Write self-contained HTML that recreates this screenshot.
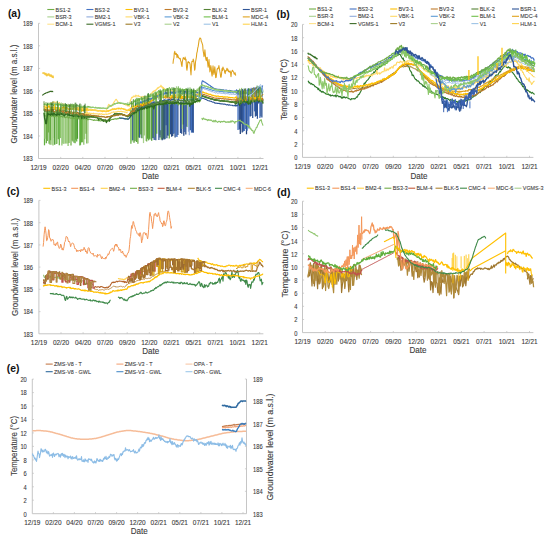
<!DOCTYPE html>
<html><head><meta charset="utf-8"><style>
html,body{margin:0;padding:0;background:#fff;}
svg{display:block;font-family:"Liberation Sans", sans-serif;}
</style></head><body>
<svg width="550" height="538" viewBox="0 0 550 538">
<rect width="550" height="538" fill="#fff"/>
<line x1="38.5" y1="23.3" x2="38.5" y2="158.5" stroke="#bfbfbf" stroke-width="0.9"/>
<line x1="38.5" y1="158.5" x2="263.5" y2="158.5" stroke="#bfbfbf" stroke-width="0.9"/>
<line x1="60.7" y1="158.5" x2="60.7" y2="156.9" stroke="#bfbfbf" stroke-width="0.7"/>
<line x1="82.8" y1="158.5" x2="82.8" y2="156.9" stroke="#bfbfbf" stroke-width="0.7"/>
<line x1="105" y1="158.5" x2="105" y2="156.9" stroke="#bfbfbf" stroke-width="0.7"/>
<line x1="127.1" y1="158.5" x2="127.1" y2="156.9" stroke="#bfbfbf" stroke-width="0.7"/>
<line x1="149.3" y1="158.5" x2="149.3" y2="156.9" stroke="#bfbfbf" stroke-width="0.7"/>
<line x1="171.5" y1="158.5" x2="171.5" y2="156.9" stroke="#bfbfbf" stroke-width="0.7"/>
<line x1="193.6" y1="158.5" x2="193.6" y2="156.9" stroke="#bfbfbf" stroke-width="0.7"/>
<line x1="215.8" y1="158.5" x2="215.8" y2="156.9" stroke="#bfbfbf" stroke-width="0.7"/>
<line x1="237.9" y1="158.5" x2="237.9" y2="156.9" stroke="#bfbfbf" stroke-width="0.7"/>
<line x1="260.1" y1="158.5" x2="260.1" y2="156.9" stroke="#bfbfbf" stroke-width="0.7"/>
<line x1="38.5" y1="136" x2="40.1" y2="136" stroke="#bfbfbf" stroke-width="0.7"/>
<line x1="38.5" y1="113.4" x2="40.1" y2="113.4" stroke="#bfbfbf" stroke-width="0.7"/>
<line x1="38.5" y1="90.9" x2="40.1" y2="90.9" stroke="#bfbfbf" stroke-width="0.7"/>
<line x1="38.5" y1="68.4" x2="40.1" y2="68.4" stroke="#bfbfbf" stroke-width="0.7"/>
<line x1="38.5" y1="45.8" x2="40.1" y2="45.8" stroke="#bfbfbf" stroke-width="0.7"/>
<line x1="38.5" y1="23.3" x2="40.1" y2="23.3" stroke="#bfbfbf" stroke-width="0.7"/>
<text x="38.5" y="169.6" font-size="6.6" fill="#3a3a3a" text-anchor="middle" textLength="16.2" lengthAdjust="spacingAndGlyphs" stroke="#3a3a3a" stroke-width="0.1">12/19</text>
<text x="60.7" y="169.6" font-size="6.6" fill="#3a3a3a" text-anchor="middle" textLength="16.2" lengthAdjust="spacingAndGlyphs" stroke="#3a3a3a" stroke-width="0.1">02/20</text>
<text x="82.8" y="169.6" font-size="6.6" fill="#3a3a3a" text-anchor="middle" textLength="16.2" lengthAdjust="spacingAndGlyphs" stroke="#3a3a3a" stroke-width="0.1">04/20</text>
<text x="105" y="169.6" font-size="6.6" fill="#3a3a3a" text-anchor="middle" textLength="16.2" lengthAdjust="spacingAndGlyphs" stroke="#3a3a3a" stroke-width="0.1">07/20</text>
<text x="127.1" y="169.6" font-size="6.6" fill="#3a3a3a" text-anchor="middle" textLength="16.2" lengthAdjust="spacingAndGlyphs" stroke="#3a3a3a" stroke-width="0.1">09/20</text>
<text x="149.3" y="169.6" font-size="6.6" fill="#3a3a3a" text-anchor="middle" textLength="16.2" lengthAdjust="spacingAndGlyphs" stroke="#3a3a3a" stroke-width="0.1">12/20</text>
<text x="171.5" y="169.6" font-size="6.6" fill="#3a3a3a" text-anchor="middle" textLength="16.2" lengthAdjust="spacingAndGlyphs" stroke="#3a3a3a" stroke-width="0.1">02/21</text>
<text x="193.6" y="169.6" font-size="6.6" fill="#3a3a3a" text-anchor="middle" textLength="16.2" lengthAdjust="spacingAndGlyphs" stroke="#3a3a3a" stroke-width="0.1">05/21</text>
<text x="215.8" y="169.6" font-size="6.6" fill="#3a3a3a" text-anchor="middle" textLength="16.2" lengthAdjust="spacingAndGlyphs" stroke="#3a3a3a" stroke-width="0.1">07/21</text>
<text x="237.9" y="169.6" font-size="6.6" fill="#3a3a3a" text-anchor="middle" textLength="16.2" lengthAdjust="spacingAndGlyphs" stroke="#3a3a3a" stroke-width="0.1">10/21</text>
<text x="260.1" y="169.6" font-size="6.6" fill="#3a3a3a" text-anchor="middle" textLength="16.2" lengthAdjust="spacingAndGlyphs" stroke="#3a3a3a" stroke-width="0.1">12/21</text>
<text x="32.7" y="161.3" font-size="6.6" fill="#3a3a3a" text-anchor="end" textLength="9.6" lengthAdjust="spacingAndGlyphs" stroke="#3a3a3a" stroke-width="0.1">183</text>
<text x="32.7" y="138.8" font-size="6.6" fill="#3a3a3a" text-anchor="end" textLength="9.6" lengthAdjust="spacingAndGlyphs" stroke="#3a3a3a" stroke-width="0.1">184</text>
<text x="32.7" y="116.3" font-size="6.6" fill="#3a3a3a" text-anchor="end" textLength="9.6" lengthAdjust="spacingAndGlyphs" stroke="#3a3a3a" stroke-width="0.1">185</text>
<text x="32.7" y="93.8" font-size="6.6" fill="#3a3a3a" text-anchor="end" textLength="9.6" lengthAdjust="spacingAndGlyphs" stroke="#3a3a3a" stroke-width="0.1">186</text>
<text x="32.7" y="71.2" font-size="6.6" fill="#3a3a3a" text-anchor="end" textLength="9.6" lengthAdjust="spacingAndGlyphs" stroke="#3a3a3a" stroke-width="0.1">187</text>
<text x="32.7" y="48.7" font-size="6.6" fill="#3a3a3a" text-anchor="end" textLength="9.6" lengthAdjust="spacingAndGlyphs" stroke="#3a3a3a" stroke-width="0.1">188</text>
<text x="32.7" y="26.2" font-size="6.6" fill="#3a3a3a" text-anchor="end" textLength="9.6" lengthAdjust="spacingAndGlyphs" stroke="#3a3a3a" stroke-width="0.1">189</text>
<text x="16.9" y="94" font-size="8.2" fill="#3a3a3a" text-anchor="middle" textLength="99" lengthAdjust="spacingAndGlyphs" transform="rotate(-90 16.9 94)" stroke="#3a3a3a" stroke-width="0.1">Groundwater level (m a.s.l.)</text>
<text x="150.5" y="179" font-size="8.6" fill="#3a3a3a" text-anchor="middle" textLength="17" lengthAdjust="spacingAndGlyphs" stroke="#3a3a3a" stroke-width="0.1">Date</text>
<text x="7.9" y="16.5" font-size="10.4" fill="#111" font-weight="bold">(a)</text>
<line x1="47.3" y1="9.5" x2="54.3" y2="9.5" stroke="#70ad47" stroke-width="1.1"/>
<text x="55.6" y="11.7" font-size="6.0" fill="#3c3c3c" textLength="15.01" lengthAdjust="spacingAndGlyphs" stroke="#3c3c3c" stroke-width="0.1">BS1-2</text>
<line x1="86.4" y1="9.5" x2="93.4" y2="9.5" stroke="#4472c4" stroke-width="1.1"/>
<text x="94.7" y="11.7" font-size="6.0" fill="#3c3c3c" textLength="15.01" lengthAdjust="spacingAndGlyphs" stroke="#3c3c3c" stroke-width="0.1">BS3-2</text>
<line x1="125.5" y1="9.5" x2="132.5" y2="9.5" stroke="#ffc000" stroke-width="1.1"/>
<text x="133.8" y="11.7" font-size="6.0" fill="#3c3c3c" textLength="15.01" lengthAdjust="spacingAndGlyphs" stroke="#3c3c3c" stroke-width="0.1">BV3-1</text>
<line x1="164.6" y1="9.5" x2="171.6" y2="9.5" stroke="#c07a2a" stroke-width="1.1"/>
<text x="172.9" y="11.7" font-size="6.0" fill="#3c3c3c" textLength="15.01" lengthAdjust="spacingAndGlyphs" stroke="#3c3c3c" stroke-width="0.1">BV3-2</text>
<line x1="203.7" y1="9.5" x2="210.7" y2="9.5" stroke="#548235" stroke-width="1.1"/>
<text x="212" y="11.7" font-size="6.0" fill="#3c3c3c" textLength="15.01" lengthAdjust="spacingAndGlyphs" stroke="#3c3c3c" stroke-width="0.1">BLK-2</text>
<line x1="242.8" y1="9.5" x2="249.8" y2="9.5" stroke="#2f5597" stroke-width="1.1"/>
<text x="251.1" y="11.7" font-size="6.0" fill="#3c3c3c" textLength="15.9" lengthAdjust="spacingAndGlyphs" stroke="#3c3c3c" stroke-width="0.1">BSR-1</text>
<line x1="47.3" y1="16.9" x2="54.3" y2="16.9" stroke="#a9d18e" stroke-width="1.1"/>
<text x="55.6" y="19" font-size="6.0" fill="#3c3c3c" textLength="15.9" lengthAdjust="spacingAndGlyphs" stroke="#3c3c3c" stroke-width="0.1">BSR-3</text>
<line x1="86.4" y1="16.9" x2="93.4" y2="16.9" stroke="#8faadc" stroke-width="1.1"/>
<text x="94.7" y="19" font-size="6.0" fill="#3c3c3c" textLength="15.9" lengthAdjust="spacingAndGlyphs" stroke="#3c3c3c" stroke-width="0.1">BM2-1</text>
<line x1="125.5" y1="16.9" x2="132.5" y2="16.9" stroke="#ffd966" stroke-width="1.1"/>
<text x="133.8" y="19" font-size="6.0" fill="#3c3c3c" textLength="15.61" lengthAdjust="spacingAndGlyphs" stroke="#3c3c3c" stroke-width="0.1">VBK-1</text>
<line x1="164.6" y1="16.9" x2="171.6" y2="16.9" stroke="#5b9bd5" stroke-width="1.1"/>
<text x="172.9" y="19" font-size="6.0" fill="#3c3c3c" textLength="15.61" lengthAdjust="spacingAndGlyphs" stroke="#3c3c3c" stroke-width="0.1">VBK-2</text>
<line x1="203.7" y1="16.9" x2="210.7" y2="16.9" stroke="#6fbf4a" stroke-width="1.1"/>
<text x="212" y="19" font-size="6.0" fill="#3c3c3c" textLength="15.9" lengthAdjust="spacingAndGlyphs" stroke="#3c3c3c" stroke-width="0.1">BLM-1</text>
<line x1="242.8" y1="16.9" x2="249.8" y2="16.9" stroke="#dfa21c" stroke-width="1.1"/>
<text x="251.1" y="19" font-size="6.0" fill="#3c3c3c" textLength="17.1" lengthAdjust="spacingAndGlyphs" stroke="#3c3c3c" stroke-width="0.1">MDC-4</text>
<line x1="47.3" y1="24.2" x2="54.3" y2="24.2" stroke="#ffe28a" stroke-width="1.1"/>
<text x="55.6" y="26.3" font-size="6.0" fill="#3c3c3c" textLength="16.8" lengthAdjust="spacingAndGlyphs" stroke="#3c3c3c" stroke-width="0.1">BCM-1</text>
<line x1="86.4" y1="24.2" x2="93.4" y2="24.2" stroke="#3b6b26" stroke-width="1.1"/>
<text x="94.7" y="26.3" font-size="6.0" fill="#3c3c3c" textLength="20.7" lengthAdjust="spacingAndGlyphs" stroke="#3c3c3c" stroke-width="0.1">VGMS-1</text>
<line x1="125.5" y1="24.2" x2="132.5" y2="24.2" stroke="#9c7a24" stroke-width="1.1"/>
<text x="133.8" y="26.3" font-size="6.0" fill="#3c3c3c" textLength="6.6" lengthAdjust="spacingAndGlyphs" stroke="#3c3c3c" stroke-width="0.1">V3</text>
<line x1="164.6" y1="24.2" x2="171.6" y2="24.2" stroke="#a9d18e" stroke-width="1.1"/>
<text x="172.9" y="26.3" font-size="6.0" fill="#3c3c3c" textLength="6.6" lengthAdjust="spacingAndGlyphs" stroke="#3c3c3c" stroke-width="0.1">V2</text>
<line x1="203.7" y1="24.2" x2="210.7" y2="24.2" stroke="#9dc3e6" stroke-width="1.1"/>
<text x="212" y="26.3" font-size="6.0" fill="#3c3c3c" textLength="6.6" lengthAdjust="spacingAndGlyphs" stroke="#3c3c3c" stroke-width="0.1">V1</text>
<line x1="242.8" y1="24.2" x2="249.8" y2="24.2" stroke="#ffd34d" stroke-width="1.1"/>
<text x="251.1" y="26.3" font-size="6.0" fill="#3c3c3c" textLength="16.2" lengthAdjust="spacingAndGlyphs" stroke="#3c3c3c" stroke-width="0.1">HLM-1</text>
<line x1="302.5" y1="24.4" x2="302.5" y2="157.4" stroke="#bfbfbf" stroke-width="0.9"/>
<line x1="302.5" y1="157.4" x2="533.4" y2="157.4" stroke="#bfbfbf" stroke-width="0.9"/>
<line x1="325.2" y1="157.4" x2="325.2" y2="155.8" stroke="#bfbfbf" stroke-width="0.7"/>
<line x1="347.9" y1="157.4" x2="347.9" y2="155.8" stroke="#bfbfbf" stroke-width="0.7"/>
<line x1="370.6" y1="157.4" x2="370.6" y2="155.8" stroke="#bfbfbf" stroke-width="0.7"/>
<line x1="393.3" y1="157.4" x2="393.3" y2="155.8" stroke="#bfbfbf" stroke-width="0.7"/>
<line x1="416" y1="157.4" x2="416" y2="155.8" stroke="#bfbfbf" stroke-width="0.7"/>
<line x1="438.7" y1="157.4" x2="438.7" y2="155.8" stroke="#bfbfbf" stroke-width="0.7"/>
<line x1="461.4" y1="157.4" x2="461.4" y2="155.8" stroke="#bfbfbf" stroke-width="0.7"/>
<line x1="484.1" y1="157.4" x2="484.1" y2="155.8" stroke="#bfbfbf" stroke-width="0.7"/>
<line x1="506.8" y1="157.4" x2="506.8" y2="155.8" stroke="#bfbfbf" stroke-width="0.7"/>
<line x1="529.5" y1="157.4" x2="529.5" y2="155.8" stroke="#bfbfbf" stroke-width="0.7"/>
<line x1="302.5" y1="144.1" x2="304.1" y2="144.1" stroke="#bfbfbf" stroke-width="0.7"/>
<line x1="302.5" y1="130.8" x2="304.1" y2="130.8" stroke="#bfbfbf" stroke-width="0.7"/>
<line x1="302.5" y1="117.5" x2="304.1" y2="117.5" stroke="#bfbfbf" stroke-width="0.7"/>
<line x1="302.5" y1="104.2" x2="304.1" y2="104.2" stroke="#bfbfbf" stroke-width="0.7"/>
<line x1="302.5" y1="90.9" x2="304.1" y2="90.9" stroke="#bfbfbf" stroke-width="0.7"/>
<line x1="302.5" y1="77.6" x2="304.1" y2="77.6" stroke="#bfbfbf" stroke-width="0.7"/>
<line x1="302.5" y1="64.3" x2="304.1" y2="64.3" stroke="#bfbfbf" stroke-width="0.7"/>
<line x1="302.5" y1="51" x2="304.1" y2="51" stroke="#bfbfbf" stroke-width="0.7"/>
<line x1="302.5" y1="37.7" x2="304.1" y2="37.7" stroke="#bfbfbf" stroke-width="0.7"/>
<line x1="302.5" y1="24.4" x2="304.1" y2="24.4" stroke="#bfbfbf" stroke-width="0.7"/>
<text x="302.5" y="168.7" font-size="6.6" fill="#3a3a3a" text-anchor="middle" textLength="16.2" lengthAdjust="spacingAndGlyphs" stroke="#3a3a3a" stroke-width="0.1">12/19</text>
<text x="325.2" y="168.7" font-size="6.6" fill="#3a3a3a" text-anchor="middle" textLength="16.2" lengthAdjust="spacingAndGlyphs" stroke="#3a3a3a" stroke-width="0.1">02/20</text>
<text x="347.9" y="168.7" font-size="6.6" fill="#3a3a3a" text-anchor="middle" textLength="16.2" lengthAdjust="spacingAndGlyphs" stroke="#3a3a3a" stroke-width="0.1">04/20</text>
<text x="370.6" y="168.7" font-size="6.6" fill="#3a3a3a" text-anchor="middle" textLength="16.2" lengthAdjust="spacingAndGlyphs" stroke="#3a3a3a" stroke-width="0.1">07/20</text>
<text x="393.3" y="168.7" font-size="6.6" fill="#3a3a3a" text-anchor="middle" textLength="16.2" lengthAdjust="spacingAndGlyphs" stroke="#3a3a3a" stroke-width="0.1">09/20</text>
<text x="416" y="168.7" font-size="6.6" fill="#3a3a3a" text-anchor="middle" textLength="16.2" lengthAdjust="spacingAndGlyphs" stroke="#3a3a3a" stroke-width="0.1">12/20</text>
<text x="438.7" y="168.7" font-size="6.6" fill="#3a3a3a" text-anchor="middle" textLength="16.2" lengthAdjust="spacingAndGlyphs" stroke="#3a3a3a" stroke-width="0.1">02/21</text>
<text x="461.4" y="168.7" font-size="6.6" fill="#3a3a3a" text-anchor="middle" textLength="16.2" lengthAdjust="spacingAndGlyphs" stroke="#3a3a3a" stroke-width="0.1">05/21</text>
<text x="484.1" y="168.7" font-size="6.6" fill="#3a3a3a" text-anchor="middle" textLength="16.2" lengthAdjust="spacingAndGlyphs" stroke="#3a3a3a" stroke-width="0.1">07/21</text>
<text x="506.8" y="168.7" font-size="6.6" fill="#3a3a3a" text-anchor="middle" textLength="16.2" lengthAdjust="spacingAndGlyphs" stroke="#3a3a3a" stroke-width="0.1">10/21</text>
<text x="529.5" y="168.7" font-size="6.6" fill="#3a3a3a" text-anchor="middle" textLength="16.2" lengthAdjust="spacingAndGlyphs" stroke="#3a3a3a" stroke-width="0.1">12/21</text>
<text x="297.4" y="160.2" font-size="6.6" fill="#3a3a3a" text-anchor="end" textLength="3.2" lengthAdjust="spacingAndGlyphs" stroke="#3a3a3a" stroke-width="0.1">0</text>
<text x="297.4" y="146.9" font-size="6.6" fill="#3a3a3a" text-anchor="end" textLength="3.2" lengthAdjust="spacingAndGlyphs" stroke="#3a3a3a" stroke-width="0.1">2</text>
<text x="297.4" y="133.7" font-size="6.6" fill="#3a3a3a" text-anchor="end" textLength="3.2" lengthAdjust="spacingAndGlyphs" stroke="#3a3a3a" stroke-width="0.1">4</text>
<text x="297.4" y="120.3" font-size="6.6" fill="#3a3a3a" text-anchor="end" textLength="3.2" lengthAdjust="spacingAndGlyphs" stroke="#3a3a3a" stroke-width="0.1">6</text>
<text x="297.4" y="107" font-size="6.6" fill="#3a3a3a" text-anchor="end" textLength="3.2" lengthAdjust="spacingAndGlyphs" stroke="#3a3a3a" stroke-width="0.1">8</text>
<text x="297.4" y="93.8" font-size="6.6" fill="#3a3a3a" text-anchor="end" textLength="6.4" lengthAdjust="spacingAndGlyphs" stroke="#3a3a3a" stroke-width="0.1">10</text>
<text x="297.4" y="80.4" font-size="6.6" fill="#3a3a3a" text-anchor="end" textLength="6.4" lengthAdjust="spacingAndGlyphs" stroke="#3a3a3a" stroke-width="0.1">12</text>
<text x="297.4" y="67.1" font-size="6.6" fill="#3a3a3a" text-anchor="end" textLength="6.4" lengthAdjust="spacingAndGlyphs" stroke="#3a3a3a" stroke-width="0.1">14</text>
<text x="297.4" y="53.9" font-size="6.6" fill="#3a3a3a" text-anchor="end" textLength="6.4" lengthAdjust="spacingAndGlyphs" stroke="#3a3a3a" stroke-width="0.1">16</text>
<text x="297.4" y="40.6" font-size="6.6" fill="#3a3a3a" text-anchor="end" textLength="6.4" lengthAdjust="spacingAndGlyphs" stroke="#3a3a3a" stroke-width="0.1">18</text>
<text x="297.4" y="27.3" font-size="6.6" fill="#3a3a3a" text-anchor="end" textLength="6.4" lengthAdjust="spacingAndGlyphs" stroke="#3a3a3a" stroke-width="0.1">20</text>
<text x="287" y="89.6" font-size="8.2" fill="#3a3a3a" text-anchor="middle" textLength="61" lengthAdjust="spacingAndGlyphs" transform="rotate(-90 287 89.6)" stroke="#3a3a3a" stroke-width="0.1">Temperature (°C)</text>
<text x="419" y="179" font-size="8.6" fill="#3a3a3a" text-anchor="middle" textLength="17" lengthAdjust="spacingAndGlyphs" stroke="#3a3a3a" stroke-width="0.1">Date</text>
<text x="276.5" y="17.8" font-size="10.4" fill="#111" font-weight="bold">(b)</text>
<line x1="309" y1="9" x2="316" y2="9" stroke="#70ad47" stroke-width="1.1"/>
<text x="317.3" y="11.2" font-size="6.0" fill="#3c3c3c" textLength="15.01" lengthAdjust="spacingAndGlyphs" stroke="#3c3c3c" stroke-width="0.1">BS1-2</text>
<line x1="349.6" y1="9" x2="356.6" y2="9" stroke="#4472c4" stroke-width="1.1"/>
<text x="357.9" y="11.2" font-size="6.0" fill="#3c3c3c" textLength="15.01" lengthAdjust="spacingAndGlyphs" stroke="#3c3c3c" stroke-width="0.1">BS3-2</text>
<line x1="390.2" y1="9" x2="397.2" y2="9" stroke="#ffc000" stroke-width="1.1"/>
<text x="398.5" y="11.2" font-size="6.0" fill="#3c3c3c" textLength="15.01" lengthAdjust="spacingAndGlyphs" stroke="#3c3c3c" stroke-width="0.1">BV3-1</text>
<line x1="430.8" y1="9" x2="437.8" y2="9" stroke="#c07a2a" stroke-width="1.1"/>
<text x="439.1" y="11.2" font-size="6.0" fill="#3c3c3c" textLength="15.01" lengthAdjust="spacingAndGlyphs" stroke="#3c3c3c" stroke-width="0.1">BV3-2</text>
<line x1="471.4" y1="9" x2="478.4" y2="9" stroke="#548235" stroke-width="1.1"/>
<text x="479.7" y="11.2" font-size="6.0" fill="#3c3c3c" textLength="15.01" lengthAdjust="spacingAndGlyphs" stroke="#3c3c3c" stroke-width="0.1">BLK-2</text>
<line x1="512" y1="9" x2="519" y2="9" stroke="#2f5597" stroke-width="1.1"/>
<text x="520.3" y="11.2" font-size="6.0" fill="#3c3c3c" textLength="15.9" lengthAdjust="spacingAndGlyphs" stroke="#3c3c3c" stroke-width="0.1">BSR-1</text>
<line x1="309" y1="16.3" x2="316" y2="16.3" stroke="#a9d18e" stroke-width="1.1"/>
<text x="317.3" y="18.4" font-size="6.0" fill="#3c3c3c" textLength="15.9" lengthAdjust="spacingAndGlyphs" stroke="#3c3c3c" stroke-width="0.1">BSR-3</text>
<line x1="349.6" y1="16.3" x2="356.6" y2="16.3" stroke="#8faadc" stroke-width="1.1"/>
<text x="357.9" y="18.4" font-size="6.0" fill="#3c3c3c" textLength="15.9" lengthAdjust="spacingAndGlyphs" stroke="#3c3c3c" stroke-width="0.1">BM2-1</text>
<line x1="390.2" y1="16.3" x2="397.2" y2="16.3" stroke="#ffd966" stroke-width="1.1"/>
<text x="398.5" y="18.4" font-size="6.0" fill="#3c3c3c" textLength="15.61" lengthAdjust="spacingAndGlyphs" stroke="#3c3c3c" stroke-width="0.1">VBK-1</text>
<line x1="430.8" y1="16.3" x2="437.8" y2="16.3" stroke="#5b9bd5" stroke-width="1.1"/>
<text x="439.1" y="18.4" font-size="6.0" fill="#3c3c3c" textLength="15.61" lengthAdjust="spacingAndGlyphs" stroke="#3c3c3c" stroke-width="0.1">VBK-2</text>
<line x1="471.4" y1="16.3" x2="478.4" y2="16.3" stroke="#6fbf4a" stroke-width="1.1"/>
<text x="479.7" y="18.4" font-size="6.0" fill="#3c3c3c" textLength="15.9" lengthAdjust="spacingAndGlyphs" stroke="#3c3c3c" stroke-width="0.1">BLM-1</text>
<line x1="512" y1="16.3" x2="519" y2="16.3" stroke="#dfa21c" stroke-width="1.1"/>
<text x="520.3" y="18.4" font-size="6.0" fill="#3c3c3c" textLength="17.1" lengthAdjust="spacingAndGlyphs" stroke="#3c3c3c" stroke-width="0.1">MDC-4</text>
<line x1="309" y1="23.6" x2="316" y2="23.6" stroke="#ffe28a" stroke-width="1.1"/>
<text x="317.3" y="25.8" font-size="6.0" fill="#3c3c3c" textLength="16.8" lengthAdjust="spacingAndGlyphs" stroke="#3c3c3c" stroke-width="0.1">BCM-1</text>
<line x1="349.6" y1="23.6" x2="356.6" y2="23.6" stroke="#3b6b26" stroke-width="1.1"/>
<text x="357.9" y="25.8" font-size="6.0" fill="#3c3c3c" textLength="20.7" lengthAdjust="spacingAndGlyphs" stroke="#3c3c3c" stroke-width="0.1">VGMS-1</text>
<line x1="390.2" y1="23.6" x2="397.2" y2="23.6" stroke="#9c7a24" stroke-width="1.1"/>
<text x="398.5" y="25.8" font-size="6.0" fill="#3c3c3c" textLength="6.6" lengthAdjust="spacingAndGlyphs" stroke="#3c3c3c" stroke-width="0.1">V3</text>
<line x1="430.8" y1="23.6" x2="437.8" y2="23.6" stroke="#a9d18e" stroke-width="1.1"/>
<text x="439.1" y="25.8" font-size="6.0" fill="#3c3c3c" textLength="6.6" lengthAdjust="spacingAndGlyphs" stroke="#3c3c3c" stroke-width="0.1">V2</text>
<line x1="471.4" y1="23.6" x2="478.4" y2="23.6" stroke="#9dc3e6" stroke-width="1.1"/>
<text x="479.7" y="25.8" font-size="6.0" fill="#3c3c3c" textLength="6.6" lengthAdjust="spacingAndGlyphs" stroke="#3c3c3c" stroke-width="0.1">V1</text>
<line x1="512" y1="23.6" x2="519" y2="23.6" stroke="#ffd34d" stroke-width="1.1"/>
<text x="520.3" y="25.8" font-size="6.0" fill="#3c3c3c" textLength="16.2" lengthAdjust="spacingAndGlyphs" stroke="#3c3c3c" stroke-width="0.1">HLM-1</text>
<line x1="38.9" y1="200.4" x2="38.9" y2="333.8" stroke="#bfbfbf" stroke-width="0.9"/>
<line x1="38.9" y1="333.8" x2="263.4" y2="333.8" stroke="#bfbfbf" stroke-width="0.9"/>
<line x1="61" y1="333.8" x2="61" y2="332.2" stroke="#bfbfbf" stroke-width="0.7"/>
<line x1="83.1" y1="333.8" x2="83.1" y2="332.2" stroke="#bfbfbf" stroke-width="0.7"/>
<line x1="105.1" y1="333.8" x2="105.1" y2="332.2" stroke="#bfbfbf" stroke-width="0.7"/>
<line x1="127.2" y1="333.8" x2="127.2" y2="332.2" stroke="#bfbfbf" stroke-width="0.7"/>
<line x1="149.3" y1="333.8" x2="149.3" y2="332.2" stroke="#bfbfbf" stroke-width="0.7"/>
<line x1="171.4" y1="333.8" x2="171.4" y2="332.2" stroke="#bfbfbf" stroke-width="0.7"/>
<line x1="193.5" y1="333.8" x2="193.5" y2="332.2" stroke="#bfbfbf" stroke-width="0.7"/>
<line x1="215.5" y1="333.8" x2="215.5" y2="332.2" stroke="#bfbfbf" stroke-width="0.7"/>
<line x1="237.6" y1="333.8" x2="237.6" y2="332.2" stroke="#bfbfbf" stroke-width="0.7"/>
<line x1="259.7" y1="333.8" x2="259.7" y2="332.2" stroke="#bfbfbf" stroke-width="0.7"/>
<line x1="38.9" y1="311.6" x2="40.5" y2="311.6" stroke="#bfbfbf" stroke-width="0.7"/>
<line x1="38.9" y1="289.3" x2="40.5" y2="289.3" stroke="#bfbfbf" stroke-width="0.7"/>
<line x1="38.9" y1="267.1" x2="40.5" y2="267.1" stroke="#bfbfbf" stroke-width="0.7"/>
<line x1="38.9" y1="244.9" x2="40.5" y2="244.9" stroke="#bfbfbf" stroke-width="0.7"/>
<line x1="38.9" y1="222.7" x2="40.5" y2="222.7" stroke="#bfbfbf" stroke-width="0.7"/>
<line x1="38.9" y1="200.4" x2="40.5" y2="200.4" stroke="#bfbfbf" stroke-width="0.7"/>
<text x="38.9" y="344.6" font-size="6.6" fill="#3a3a3a" text-anchor="middle" textLength="16.2" lengthAdjust="spacingAndGlyphs" stroke="#3a3a3a" stroke-width="0.1">12/19</text>
<text x="61" y="344.6" font-size="6.6" fill="#3a3a3a" text-anchor="middle" textLength="16.2" lengthAdjust="spacingAndGlyphs" stroke="#3a3a3a" stroke-width="0.1">02/20</text>
<text x="83.1" y="344.6" font-size="6.6" fill="#3a3a3a" text-anchor="middle" textLength="16.2" lengthAdjust="spacingAndGlyphs" stroke="#3a3a3a" stroke-width="0.1">04/20</text>
<text x="105.1" y="344.6" font-size="6.6" fill="#3a3a3a" text-anchor="middle" textLength="16.2" lengthAdjust="spacingAndGlyphs" stroke="#3a3a3a" stroke-width="0.1">07/20</text>
<text x="127.2" y="344.6" font-size="6.6" fill="#3a3a3a" text-anchor="middle" textLength="16.2" lengthAdjust="spacingAndGlyphs" stroke="#3a3a3a" stroke-width="0.1">09/20</text>
<text x="149.3" y="344.6" font-size="6.6" fill="#3a3a3a" text-anchor="middle" textLength="16.2" lengthAdjust="spacingAndGlyphs" stroke="#3a3a3a" stroke-width="0.1">12/20</text>
<text x="171.4" y="344.6" font-size="6.6" fill="#3a3a3a" text-anchor="middle" textLength="16.2" lengthAdjust="spacingAndGlyphs" stroke="#3a3a3a" stroke-width="0.1">02/21</text>
<text x="193.5" y="344.6" font-size="6.6" fill="#3a3a3a" text-anchor="middle" textLength="16.2" lengthAdjust="spacingAndGlyphs" stroke="#3a3a3a" stroke-width="0.1">05/21</text>
<text x="215.5" y="344.6" font-size="6.6" fill="#3a3a3a" text-anchor="middle" textLength="16.2" lengthAdjust="spacingAndGlyphs" stroke="#3a3a3a" stroke-width="0.1">07/21</text>
<text x="237.6" y="344.6" font-size="6.6" fill="#3a3a3a" text-anchor="middle" textLength="16.2" lengthAdjust="spacingAndGlyphs" stroke="#3a3a3a" stroke-width="0.1">10/21</text>
<text x="259.7" y="344.6" font-size="6.6" fill="#3a3a3a" text-anchor="middle" textLength="16.2" lengthAdjust="spacingAndGlyphs" stroke="#3a3a3a" stroke-width="0.1">12/21</text>
<text x="33" y="336.7" font-size="6.6" fill="#3a3a3a" text-anchor="end" textLength="9.6" lengthAdjust="spacingAndGlyphs" stroke="#3a3a3a" stroke-width="0.1">183</text>
<text x="33" y="314.4" font-size="6.6" fill="#3a3a3a" text-anchor="end" textLength="9.6" lengthAdjust="spacingAndGlyphs" stroke="#3a3a3a" stroke-width="0.1">184</text>
<text x="33" y="292.2" font-size="6.6" fill="#3a3a3a" text-anchor="end" textLength="9.6" lengthAdjust="spacingAndGlyphs" stroke="#3a3a3a" stroke-width="0.1">185</text>
<text x="33" y="270" font-size="6.6" fill="#3a3a3a" text-anchor="end" textLength="9.6" lengthAdjust="spacingAndGlyphs" stroke="#3a3a3a" stroke-width="0.1">186</text>
<text x="33" y="247.7" font-size="6.6" fill="#3a3a3a" text-anchor="end" textLength="9.6" lengthAdjust="spacingAndGlyphs" stroke="#3a3a3a" stroke-width="0.1">187</text>
<text x="33" y="225.5" font-size="6.6" fill="#3a3a3a" text-anchor="end" textLength="9.6" lengthAdjust="spacingAndGlyphs" stroke="#3a3a3a" stroke-width="0.1">188</text>
<text x="33" y="203.3" font-size="6.6" fill="#3a3a3a" text-anchor="end" textLength="9.6" lengthAdjust="spacingAndGlyphs" stroke="#3a3a3a" stroke-width="0.1">189</text>
<text x="18.1" y="267" font-size="8.2" fill="#3a3a3a" text-anchor="middle" textLength="98" lengthAdjust="spacingAndGlyphs" transform="rotate(-90 18.1 267)" stroke="#3a3a3a" stroke-width="0.1">Groundwater level (m a.s.l.)</text>
<text x="150.8" y="354" font-size="8.6" fill="#3a3a3a" text-anchor="middle" textLength="17" lengthAdjust="spacingAndGlyphs" stroke="#3a3a3a" stroke-width="0.1">Date</text>
<text x="6.8" y="194.9" font-size="10.4" fill="#111" font-weight="bold">(c)</text>
<line x1="43.3" y1="188.3" x2="50.3" y2="188.3" stroke="#ffc000" stroke-width="1.1"/>
<text x="51.6" y="190.5" font-size="6.0" fill="#3c3c3c" textLength="15.01" lengthAdjust="spacingAndGlyphs" stroke="#3c3c3c" stroke-width="0.1">BS1-3</text>
<line x1="71.2" y1="188.3" x2="78.2" y2="188.3" stroke="#f4975a" stroke-width="1.1"/>
<text x="79.5" y="190.5" font-size="6.0" fill="#3c3c3c" textLength="15.01" lengthAdjust="spacingAndGlyphs" stroke="#3c3c3c" stroke-width="0.1">BS1-4</text>
<line x1="100.7" y1="188.3" x2="107.7" y2="188.3" stroke="#ffd04a" stroke-width="1.1"/>
<text x="109" y="190.5" font-size="6.0" fill="#3c3c3c" textLength="15.9" lengthAdjust="spacingAndGlyphs" stroke="#3c3c3c" stroke-width="0.1">BM2-4</text>
<line x1="130" y1="188.3" x2="137" y2="188.3" stroke="#70ad47" stroke-width="1.1"/>
<text x="138.3" y="190.5" font-size="6.0" fill="#3c3c3c" textLength="15.01" lengthAdjust="spacingAndGlyphs" stroke="#3c3c3c" stroke-width="0.1">BS3-3</text>
<line x1="157.6" y1="188.3" x2="164.6" y2="188.3" stroke="#c55a3a" stroke-width="1.1"/>
<text x="165.9" y="190.5" font-size="6.0" fill="#3c3c3c" textLength="15.9" lengthAdjust="spacingAndGlyphs" stroke="#3c3c3c" stroke-width="0.1">BLM-4</text>
<line x1="187.8" y1="188.3" x2="194.8" y2="188.3" stroke="#b08530" stroke-width="1.1"/>
<text x="196.1" y="190.5" font-size="6.0" fill="#3c3c3c" textLength="15.01" lengthAdjust="spacingAndGlyphs" stroke="#3c3c3c" stroke-width="0.1">BLK-5</text>
<line x1="215" y1="188.3" x2="222" y2="188.3" stroke="#3f8a4a" stroke-width="1.1"/>
<text x="223.3" y="190.5" font-size="6.0" fill="#3c3c3c" textLength="17.1" lengthAdjust="spacingAndGlyphs" stroke="#3c3c3c" stroke-width="0.1">CMC-4</text>
<line x1="245.7" y1="188.3" x2="252.7" y2="188.3" stroke="#f8b07a" stroke-width="1.1"/>
<text x="254" y="190.5" font-size="6.0" fill="#3c3c3c" textLength="17.1" lengthAdjust="spacingAndGlyphs" stroke="#3c3c3c" stroke-width="0.1">MDC-6</text>
<line x1="302.5" y1="201.2" x2="302.5" y2="332.6" stroke="#bfbfbf" stroke-width="0.9"/>
<line x1="302.5" y1="332.6" x2="533.4" y2="332.6" stroke="#bfbfbf" stroke-width="0.9"/>
<line x1="325.2" y1="332.6" x2="325.2" y2="331" stroke="#bfbfbf" stroke-width="0.7"/>
<line x1="347.9" y1="332.6" x2="347.9" y2="331" stroke="#bfbfbf" stroke-width="0.7"/>
<line x1="370.6" y1="332.6" x2="370.6" y2="331" stroke="#bfbfbf" stroke-width="0.7"/>
<line x1="393.3" y1="332.6" x2="393.3" y2="331" stroke="#bfbfbf" stroke-width="0.7"/>
<line x1="416" y1="332.6" x2="416" y2="331" stroke="#bfbfbf" stroke-width="0.7"/>
<line x1="438.7" y1="332.6" x2="438.7" y2="331" stroke="#bfbfbf" stroke-width="0.7"/>
<line x1="461.4" y1="332.6" x2="461.4" y2="331" stroke="#bfbfbf" stroke-width="0.7"/>
<line x1="484.1" y1="332.6" x2="484.1" y2="331" stroke="#bfbfbf" stroke-width="0.7"/>
<line x1="506.8" y1="332.6" x2="506.8" y2="331" stroke="#bfbfbf" stroke-width="0.7"/>
<line x1="529.5" y1="332.6" x2="529.5" y2="331" stroke="#bfbfbf" stroke-width="0.7"/>
<line x1="302.5" y1="319.5" x2="304.1" y2="319.5" stroke="#bfbfbf" stroke-width="0.7"/>
<line x1="302.5" y1="306.3" x2="304.1" y2="306.3" stroke="#bfbfbf" stroke-width="0.7"/>
<line x1="302.5" y1="293.2" x2="304.1" y2="293.2" stroke="#bfbfbf" stroke-width="0.7"/>
<line x1="302.5" y1="280" x2="304.1" y2="280" stroke="#bfbfbf" stroke-width="0.7"/>
<line x1="302.5" y1="266.9" x2="304.1" y2="266.9" stroke="#bfbfbf" stroke-width="0.7"/>
<line x1="302.5" y1="253.8" x2="304.1" y2="253.8" stroke="#bfbfbf" stroke-width="0.7"/>
<line x1="302.5" y1="240.6" x2="304.1" y2="240.6" stroke="#bfbfbf" stroke-width="0.7"/>
<line x1="302.5" y1="227.5" x2="304.1" y2="227.5" stroke="#bfbfbf" stroke-width="0.7"/>
<line x1="302.5" y1="214.3" x2="304.1" y2="214.3" stroke="#bfbfbf" stroke-width="0.7"/>
<line x1="302.5" y1="201.2" x2="304.1" y2="201.2" stroke="#bfbfbf" stroke-width="0.7"/>
<text x="302.5" y="343.5" font-size="6.6" fill="#3a3a3a" text-anchor="middle" textLength="16.2" lengthAdjust="spacingAndGlyphs" stroke="#3a3a3a" stroke-width="0.1">12/19</text>
<text x="325.2" y="343.5" font-size="6.6" fill="#3a3a3a" text-anchor="middle" textLength="16.2" lengthAdjust="spacingAndGlyphs" stroke="#3a3a3a" stroke-width="0.1">02/20</text>
<text x="347.9" y="343.5" font-size="6.6" fill="#3a3a3a" text-anchor="middle" textLength="16.2" lengthAdjust="spacingAndGlyphs" stroke="#3a3a3a" stroke-width="0.1">04/20</text>
<text x="370.6" y="343.5" font-size="6.6" fill="#3a3a3a" text-anchor="middle" textLength="16.2" lengthAdjust="spacingAndGlyphs" stroke="#3a3a3a" stroke-width="0.1">07/20</text>
<text x="393.3" y="343.5" font-size="6.6" fill="#3a3a3a" text-anchor="middle" textLength="16.2" lengthAdjust="spacingAndGlyphs" stroke="#3a3a3a" stroke-width="0.1">09/20</text>
<text x="416" y="343.5" font-size="6.6" fill="#3a3a3a" text-anchor="middle" textLength="16.2" lengthAdjust="spacingAndGlyphs" stroke="#3a3a3a" stroke-width="0.1">12/20</text>
<text x="438.7" y="343.5" font-size="6.6" fill="#3a3a3a" text-anchor="middle" textLength="16.2" lengthAdjust="spacingAndGlyphs" stroke="#3a3a3a" stroke-width="0.1">02/21</text>
<text x="461.4" y="343.5" font-size="6.6" fill="#3a3a3a" text-anchor="middle" textLength="16.2" lengthAdjust="spacingAndGlyphs" stroke="#3a3a3a" stroke-width="0.1">05/21</text>
<text x="484.1" y="343.5" font-size="6.6" fill="#3a3a3a" text-anchor="middle" textLength="16.2" lengthAdjust="spacingAndGlyphs" stroke="#3a3a3a" stroke-width="0.1">07/21</text>
<text x="506.8" y="343.5" font-size="6.6" fill="#3a3a3a" text-anchor="middle" textLength="16.2" lengthAdjust="spacingAndGlyphs" stroke="#3a3a3a" stroke-width="0.1">10/21</text>
<text x="529.5" y="343.5" font-size="6.6" fill="#3a3a3a" text-anchor="middle" textLength="16.2" lengthAdjust="spacingAndGlyphs" stroke="#3a3a3a" stroke-width="0.1">12/21</text>
<text x="297.4" y="335.5" font-size="6.6" fill="#3a3a3a" text-anchor="end" textLength="3.2" lengthAdjust="spacingAndGlyphs" stroke="#3a3a3a" stroke-width="0.1">0</text>
<text x="297.4" y="322.3" font-size="6.6" fill="#3a3a3a" text-anchor="end" textLength="3.2" lengthAdjust="spacingAndGlyphs" stroke="#3a3a3a" stroke-width="0.1">2</text>
<text x="297.4" y="309.2" font-size="6.6" fill="#3a3a3a" text-anchor="end" textLength="3.2" lengthAdjust="spacingAndGlyphs" stroke="#3a3a3a" stroke-width="0.1">4</text>
<text x="297.4" y="296" font-size="6.6" fill="#3a3a3a" text-anchor="end" textLength="3.2" lengthAdjust="spacingAndGlyphs" stroke="#3a3a3a" stroke-width="0.1">6</text>
<text x="297.4" y="282.9" font-size="6.6" fill="#3a3a3a" text-anchor="end" textLength="3.2" lengthAdjust="spacingAndGlyphs" stroke="#3a3a3a" stroke-width="0.1">8</text>
<text x="297.4" y="269.8" font-size="6.6" fill="#3a3a3a" text-anchor="end" textLength="6.4" lengthAdjust="spacingAndGlyphs" stroke="#3a3a3a" stroke-width="0.1">10</text>
<text x="297.4" y="256.6" font-size="6.6" fill="#3a3a3a" text-anchor="end" textLength="6.4" lengthAdjust="spacingAndGlyphs" stroke="#3a3a3a" stroke-width="0.1">12</text>
<text x="297.4" y="243.5" font-size="6.6" fill="#3a3a3a" text-anchor="end" textLength="6.4" lengthAdjust="spacingAndGlyphs" stroke="#3a3a3a" stroke-width="0.1">14</text>
<text x="297.4" y="230.3" font-size="6.6" fill="#3a3a3a" text-anchor="end" textLength="6.4" lengthAdjust="spacingAndGlyphs" stroke="#3a3a3a" stroke-width="0.1">16</text>
<text x="297.4" y="217.2" font-size="6.6" fill="#3a3a3a" text-anchor="end" textLength="6.4" lengthAdjust="spacingAndGlyphs" stroke="#3a3a3a" stroke-width="0.1">18</text>
<text x="297.4" y="204.1" font-size="6.6" fill="#3a3a3a" text-anchor="end" textLength="6.4" lengthAdjust="spacingAndGlyphs" stroke="#3a3a3a" stroke-width="0.1">20</text>
<text x="287.6" y="264" font-size="8.2" fill="#3a3a3a" text-anchor="middle" textLength="67" lengthAdjust="spacingAndGlyphs" transform="rotate(-90 287.6 264)" stroke="#3a3a3a" stroke-width="0.1">Temperature (°C)</text>
<text x="418" y="353" font-size="8.6" fill="#3a3a3a" text-anchor="middle" textLength="17" lengthAdjust="spacingAndGlyphs" stroke="#3a3a3a" stroke-width="0.1">Date</text>
<text x="277.1" y="195.8" font-size="10.4" fill="#111" font-weight="bold">(d)</text>
<line x1="306.8" y1="188.2" x2="313.8" y2="188.2" stroke="#ffc000" stroke-width="1.1"/>
<text x="315.1" y="190.3" font-size="6.0" fill="#3c3c3c" textLength="15.01" lengthAdjust="spacingAndGlyphs" stroke="#3c3c3c" stroke-width="0.1">BS1-3</text>
<line x1="332.3" y1="188.2" x2="339.3" y2="188.2" stroke="#f4975a" stroke-width="1.1"/>
<text x="340.6" y="190.3" font-size="6.0" fill="#3c3c3c" textLength="15.01" lengthAdjust="spacingAndGlyphs" stroke="#3c3c3c" stroke-width="0.1">BS1-4</text>
<line x1="357" y1="188.2" x2="364" y2="188.2" stroke="#ffd04a" stroke-width="1.1"/>
<text x="365.3" y="190.3" font-size="6.0" fill="#3c3c3c" textLength="15.9" lengthAdjust="spacingAndGlyphs" stroke="#3c3c3c" stroke-width="0.1">BM2-4</text>
<line x1="384.4" y1="188.2" x2="391.4" y2="188.2" stroke="#70ad47" stroke-width="1.1"/>
<text x="392.7" y="190.3" font-size="6.0" fill="#3c3c3c" textLength="15.01" lengthAdjust="spacingAndGlyphs" stroke="#3c3c3c" stroke-width="0.1">BS3-3</text>
<line x1="408.2" y1="188.2" x2="415.2" y2="188.2" stroke="#c55a3a" stroke-width="1.1"/>
<text x="416.5" y="190.3" font-size="6.0" fill="#3c3c3c" textLength="15.9" lengthAdjust="spacingAndGlyphs" stroke="#3c3c3c" stroke-width="0.1">BLM-4</text>
<line x1="435.5" y1="188.2" x2="442.5" y2="188.2" stroke="#b08530" stroke-width="1.1"/>
<text x="443.8" y="190.3" font-size="6.0" fill="#3c3c3c" textLength="15.01" lengthAdjust="spacingAndGlyphs" stroke="#3c3c3c" stroke-width="0.1">BLK-5</text>
<line x1="460" y1="188.2" x2="467" y2="188.2" stroke="#3f8a4a" stroke-width="1.1"/>
<text x="468.3" y="190.3" font-size="6.0" fill="#3c3c3c" textLength="17.1" lengthAdjust="spacingAndGlyphs" stroke="#3c3c3c" stroke-width="0.1">CMC-4</text>
<line x1="487.8" y1="188.2" x2="494.8" y2="188.2" stroke="#f8b07a" stroke-width="1.1"/>
<text x="496.1" y="190.3" font-size="6.0" fill="#3c3c3c" textLength="17.1" lengthAdjust="spacingAndGlyphs" stroke="#3c3c3c" stroke-width="0.1">MDC-6</text>
<line x1="514.5" y1="188.2" x2="521.5" y2="188.2" stroke="#a9d18e" stroke-width="1.1"/>
<text x="522.8" y="190.3" font-size="6.0" fill="#3c3c3c" textLength="20.7" lengthAdjust="spacingAndGlyphs" stroke="#3c3c3c" stroke-width="0.1">VGMS-3</text>
<line x1="32.3" y1="379" x2="32.3" y2="513.7" stroke="#bfbfbf" stroke-width="0.9"/>
<line x1="32.3" y1="513.7" x2="246.5" y2="513.7" stroke="#bfbfbf" stroke-width="0.9"/>
<line x1="53.4" y1="513.7" x2="53.4" y2="512.1" stroke="#bfbfbf" stroke-width="0.7"/>
<line x1="74.4" y1="513.7" x2="74.4" y2="512.1" stroke="#bfbfbf" stroke-width="0.7"/>
<line x1="95.5" y1="513.7" x2="95.5" y2="512.1" stroke="#bfbfbf" stroke-width="0.7"/>
<line x1="116.6" y1="513.7" x2="116.6" y2="512.1" stroke="#bfbfbf" stroke-width="0.7"/>
<line x1="137.6" y1="513.7" x2="137.6" y2="512.1" stroke="#bfbfbf" stroke-width="0.7"/>
<line x1="158.7" y1="513.7" x2="158.7" y2="512.1" stroke="#bfbfbf" stroke-width="0.7"/>
<line x1="179.8" y1="513.7" x2="179.8" y2="512.1" stroke="#bfbfbf" stroke-width="0.7"/>
<line x1="200.9" y1="513.7" x2="200.9" y2="512.1" stroke="#bfbfbf" stroke-width="0.7"/>
<line x1="221.9" y1="513.7" x2="221.9" y2="512.1" stroke="#bfbfbf" stroke-width="0.7"/>
<line x1="243" y1="513.7" x2="243" y2="512.1" stroke="#bfbfbf" stroke-width="0.7"/>
<line x1="32.3" y1="500.2" x2="33.9" y2="500.2" stroke="#bfbfbf" stroke-width="0.7"/>
<line x1="32.3" y1="486.8" x2="33.9" y2="486.8" stroke="#bfbfbf" stroke-width="0.7"/>
<line x1="32.3" y1="473.3" x2="33.9" y2="473.3" stroke="#bfbfbf" stroke-width="0.7"/>
<line x1="32.3" y1="459.9" x2="33.9" y2="459.9" stroke="#bfbfbf" stroke-width="0.7"/>
<line x1="32.3" y1="446.4" x2="33.9" y2="446.4" stroke="#bfbfbf" stroke-width="0.7"/>
<line x1="32.3" y1="432.9" x2="33.9" y2="432.9" stroke="#bfbfbf" stroke-width="0.7"/>
<line x1="32.3" y1="419.5" x2="33.9" y2="419.5" stroke="#bfbfbf" stroke-width="0.7"/>
<line x1="32.3" y1="406" x2="33.9" y2="406" stroke="#bfbfbf" stroke-width="0.7"/>
<line x1="32.3" y1="392.6" x2="33.9" y2="392.6" stroke="#bfbfbf" stroke-width="0.7"/>
<line x1="32.3" y1="379.1" x2="33.9" y2="379.1" stroke="#bfbfbf" stroke-width="0.7"/>
<text x="32.3" y="524.5" font-size="6.6" fill="#3a3a3a" text-anchor="middle" textLength="16.2" lengthAdjust="spacingAndGlyphs" stroke="#3a3a3a" stroke-width="0.1">12/19</text>
<text x="53.4" y="524.5" font-size="6.6" fill="#3a3a3a" text-anchor="middle" textLength="16.2" lengthAdjust="spacingAndGlyphs" stroke="#3a3a3a" stroke-width="0.1">02/20</text>
<text x="74.4" y="524.5" font-size="6.6" fill="#3a3a3a" text-anchor="middle" textLength="16.2" lengthAdjust="spacingAndGlyphs" stroke="#3a3a3a" stroke-width="0.1">04/20</text>
<text x="95.5" y="524.5" font-size="6.6" fill="#3a3a3a" text-anchor="middle" textLength="16.2" lengthAdjust="spacingAndGlyphs" stroke="#3a3a3a" stroke-width="0.1">07/20</text>
<text x="116.6" y="524.5" font-size="6.6" fill="#3a3a3a" text-anchor="middle" textLength="16.2" lengthAdjust="spacingAndGlyphs" stroke="#3a3a3a" stroke-width="0.1">09/20</text>
<text x="137.6" y="524.5" font-size="6.6" fill="#3a3a3a" text-anchor="middle" textLength="16.2" lengthAdjust="spacingAndGlyphs" stroke="#3a3a3a" stroke-width="0.1">12/20</text>
<text x="158.7" y="524.5" font-size="6.6" fill="#3a3a3a" text-anchor="middle" textLength="16.2" lengthAdjust="spacingAndGlyphs" stroke="#3a3a3a" stroke-width="0.1">02/21</text>
<text x="179.8" y="524.5" font-size="6.6" fill="#3a3a3a" text-anchor="middle" textLength="16.2" lengthAdjust="spacingAndGlyphs" stroke="#3a3a3a" stroke-width="0.1">05/21</text>
<text x="200.9" y="524.5" font-size="6.6" fill="#3a3a3a" text-anchor="middle" textLength="16.2" lengthAdjust="spacingAndGlyphs" stroke="#3a3a3a" stroke-width="0.1">07/21</text>
<text x="221.9" y="524.5" font-size="6.6" fill="#3a3a3a" text-anchor="middle" textLength="16.2" lengthAdjust="spacingAndGlyphs" stroke="#3a3a3a" stroke-width="0.1">10/21</text>
<text x="243" y="524.5" font-size="6.6" fill="#3a3a3a" text-anchor="middle" textLength="16.2" lengthAdjust="spacingAndGlyphs" stroke="#3a3a3a" stroke-width="0.1">12/21</text>
<text x="26.8" y="516.6" font-size="6.6" fill="#3a3a3a" text-anchor="end" textLength="3.2" lengthAdjust="spacingAndGlyphs" stroke="#3a3a3a" stroke-width="0.1">0</text>
<text x="26.8" y="503.1" font-size="6.6" fill="#3a3a3a" text-anchor="end" textLength="3.2" lengthAdjust="spacingAndGlyphs" stroke="#3a3a3a" stroke-width="0.1">2</text>
<text x="26.8" y="489.6" font-size="6.6" fill="#3a3a3a" text-anchor="end" textLength="3.2" lengthAdjust="spacingAndGlyphs" stroke="#3a3a3a" stroke-width="0.1">4</text>
<text x="26.8" y="476.2" font-size="6.6" fill="#3a3a3a" text-anchor="end" textLength="3.2" lengthAdjust="spacingAndGlyphs" stroke="#3a3a3a" stroke-width="0.1">6</text>
<text x="26.8" y="462.7" font-size="6.6" fill="#3a3a3a" text-anchor="end" textLength="3.2" lengthAdjust="spacingAndGlyphs" stroke="#3a3a3a" stroke-width="0.1">8</text>
<text x="26.8" y="449.3" font-size="6.6" fill="#3a3a3a" text-anchor="end" textLength="6.4" lengthAdjust="spacingAndGlyphs" stroke="#3a3a3a" stroke-width="0.1">10</text>
<text x="26.8" y="435.8" font-size="6.6" fill="#3a3a3a" text-anchor="end" textLength="6.4" lengthAdjust="spacingAndGlyphs" stroke="#3a3a3a" stroke-width="0.1">12</text>
<text x="26.8" y="422.3" font-size="6.6" fill="#3a3a3a" text-anchor="end" textLength="6.4" lengthAdjust="spacingAndGlyphs" stroke="#3a3a3a" stroke-width="0.1">14</text>
<text x="26.8" y="408.9" font-size="6.6" fill="#3a3a3a" text-anchor="end" textLength="6.4" lengthAdjust="spacingAndGlyphs" stroke="#3a3a3a" stroke-width="0.1">16</text>
<text x="26.8" y="395.4" font-size="6.6" fill="#3a3a3a" text-anchor="end" textLength="6.4" lengthAdjust="spacingAndGlyphs" stroke="#3a3a3a" stroke-width="0.1">18</text>
<text x="26.8" y="382" font-size="6.6" fill="#3a3a3a" text-anchor="end" textLength="6.4" lengthAdjust="spacingAndGlyphs" stroke="#3a3a3a" stroke-width="0.1">20</text>
<line x1="246.5" y1="379" x2="246.5" y2="513.7" stroke="#bfbfbf" stroke-width="0.9"/>
<line x1="246.5" y1="491.3" x2="244.9" y2="491.3" stroke="#bfbfbf" stroke-width="0.7"/>
<line x1="246.5" y1="468.8" x2="244.9" y2="468.8" stroke="#bfbfbf" stroke-width="0.7"/>
<line x1="246.5" y1="446.4" x2="244.9" y2="446.4" stroke="#bfbfbf" stroke-width="0.7"/>
<line x1="246.5" y1="423.9" x2="244.9" y2="423.9" stroke="#bfbfbf" stroke-width="0.7"/>
<line x1="246.5" y1="401.5" x2="244.9" y2="401.5" stroke="#bfbfbf" stroke-width="0.7"/>
<line x1="246.5" y1="379" x2="244.9" y2="379" stroke="#bfbfbf" stroke-width="0.7"/>
<text x="253.1" y="516.6" font-size="6.6" fill="#3a3a3a" textLength="9.6" lengthAdjust="spacingAndGlyphs" stroke="#3a3a3a" stroke-width="0.1">183</text>
<text x="253.1" y="494.1" font-size="6.6" fill="#3a3a3a" textLength="9.6" lengthAdjust="spacingAndGlyphs" stroke="#3a3a3a" stroke-width="0.1">184</text>
<text x="253.1" y="471.7" font-size="6.6" fill="#3a3a3a" textLength="9.6" lengthAdjust="spacingAndGlyphs" stroke="#3a3a3a" stroke-width="0.1">185</text>
<text x="253.1" y="449.2" font-size="6.6" fill="#3a3a3a" textLength="9.6" lengthAdjust="spacingAndGlyphs" stroke="#3a3a3a" stroke-width="0.1">186</text>
<text x="253.1" y="426.8" font-size="6.6" fill="#3a3a3a" textLength="9.6" lengthAdjust="spacingAndGlyphs" stroke="#3a3a3a" stroke-width="0.1">187</text>
<text x="253.1" y="404.3" font-size="6.6" fill="#3a3a3a" textLength="9.6" lengthAdjust="spacingAndGlyphs" stroke="#3a3a3a" stroke-width="0.1">188</text>
<text x="253.1" y="381.9" font-size="6.6" fill="#3a3a3a" textLength="9.6" lengthAdjust="spacingAndGlyphs" stroke="#3a3a3a" stroke-width="0.1">189</text>
<text x="16.6" y="446" font-size="8.2" fill="#3a3a3a" text-anchor="middle" textLength="60" lengthAdjust="spacingAndGlyphs" transform="rotate(-90 16.6 446)" stroke="#3a3a3a" stroke-width="0.1">Temperature (°C)</text>
<text x="272.6" y="447" font-size="8.2" fill="#3a3a3a" text-anchor="middle" textLength="107" lengthAdjust="spacingAndGlyphs" transform="rotate(-90 272.6 447)" stroke="#3a3a3a" stroke-width="0.1">Groundwater level (m a.s.l.)</text>
<text x="139.3" y="533.5" font-size="8.6" fill="#3a3a3a" text-anchor="middle" textLength="17" lengthAdjust="spacingAndGlyphs" stroke="#3a3a3a" stroke-width="0.1">Date</text>
<text x="6.8" y="372.1" font-size="10.4" fill="#111" font-weight="bold">(e)</text>
<line x1="45.7" y1="364.1" x2="52.7" y2="364.1" stroke="#c47a4a" stroke-width="1.1"/>
<text x="54" y="366.2" font-size="6.0" fill="#3c3c3c" textLength="27.8" lengthAdjust="spacingAndGlyphs" stroke="#3c3c3c" stroke-width="0.1">ZMS-V8 - T</text>
<line x1="116.4" y1="364.1" x2="123.4" y2="364.1" stroke="#f4a57a" stroke-width="1.1"/>
<text x="124.7" y="366.2" font-size="6.0" fill="#3c3c3c" textLength="27.8" lengthAdjust="spacingAndGlyphs" stroke="#3c3c3c" stroke-width="0.1">ZMS-V3 - T</text>
<line x1="185.5" y1="364.1" x2="192.5" y2="364.1" stroke="#f8c8a8" stroke-width="1.1"/>
<text x="193.8" y="366.2" font-size="6.0" fill="#3c3c3c" textLength="18.7" lengthAdjust="spacingAndGlyphs" stroke="#3c3c3c" stroke-width="0.1">OPA - T</text>
<line x1="45.7" y1="371.7" x2="52.7" y2="371.7" stroke="#2e6a9e" stroke-width="1.1"/>
<text x="54" y="373.8" font-size="6.0" fill="#3c3c3c" textLength="36.9" lengthAdjust="spacingAndGlyphs" stroke="#3c3c3c" stroke-width="0.1">ZMS-V8 - GWL</text>
<line x1="116.4" y1="371.7" x2="123.4" y2="371.7" stroke="#4a8cc8" stroke-width="1.1"/>
<text x="124.7" y="373.8" font-size="6.0" fill="#3c3c3c" textLength="36.9" lengthAdjust="spacingAndGlyphs" stroke="#3c3c3c" stroke-width="0.1">ZMS-V3 - GWL</text>
<line x1="185.5" y1="371.7" x2="192.5" y2="371.7" stroke="#9dc8ea" stroke-width="1.1"/>
<text x="193.8" y="373.8" font-size="6.0" fill="#3c3c3c" textLength="27.8" lengthAdjust="spacingAndGlyphs" stroke="#3c3c3c" stroke-width="0.1">OPA - GWL</text>
<line x1="44.5" y1="109.5" x2="44.5" y2="145.3" stroke="#62b040" stroke-width="1.25"/>
<line x1="45.1" y1="110" x2="45.1" y2="138.7" stroke="#a9d18e" stroke-width="1.25"/>
<line x1="46.3" y1="112.3" x2="46.3" y2="143.3" stroke="#5fa83a" stroke-width="1.25"/>
<line x1="47.3" y1="111.8" x2="47.3" y2="140.9" stroke="#70ad47" stroke-width="1.25"/>
<line x1="48.3" y1="112" x2="48.3" y2="132.6" stroke="#70ad47" stroke-width="1.25"/>
<line x1="49.1" y1="112.1" x2="49.1" y2="143.8" stroke="#62b040" stroke-width="1.25"/>
<line x1="50.1" y1="112" x2="50.1" y2="144.7" stroke="#70ad47" stroke-width="1.25"/>
<line x1="50.7" y1="113.2" x2="50.7" y2="140.2" stroke="#5fa83a" stroke-width="1.25"/>
<line x1="51.8" y1="109.5" x2="51.8" y2="144.7" stroke="#a9d18e" stroke-width="1.25"/>
<line x1="53" y1="113.1" x2="53" y2="145.5" stroke="#8cc46a" stroke-width="1.25"/>
<line x1="53.9" y1="112.4" x2="53.9" y2="138.1" stroke="#a9d18e" stroke-width="1.25"/>
<line x1="54.7" y1="112.3" x2="54.7" y2="144.7" stroke="#4e9a30" stroke-width="1.25"/>
<line x1="56.3" y1="112.8" x2="56.3" y2="144.1" stroke="#62b040" stroke-width="1.25"/>
<line x1="57" y1="112.7" x2="57" y2="143.8" stroke="#8cc46a" stroke-width="1.25"/>
<line x1="58.3" y1="111.7" x2="58.3" y2="139.3" stroke="#62b040" stroke-width="1.25"/>
<line x1="59.3" y1="110.5" x2="59.3" y2="145.2" stroke="#62b040" stroke-width="1.25"/>
<line x1="60.5" y1="114.3" x2="60.5" y2="138.1" stroke="#8cc46a" stroke-width="1.25"/>
<line x1="61.9" y1="111.1" x2="61.9" y2="145.6" stroke="#8cc46a" stroke-width="1.25"/>
<line x1="63.2" y1="114" x2="63.2" y2="143.6" stroke="#62b040" stroke-width="1.25"/>
<line x1="63.8" y1="114.3" x2="63.8" y2="144" stroke="#a9d18e" stroke-width="1.25"/>
<line x1="64.9" y1="113.2" x2="64.9" y2="143.6" stroke="#a9d18e" stroke-width="1.25"/>
<line x1="65.8" y1="114.2" x2="65.8" y2="143.6" stroke="#8cc46a" stroke-width="1.25"/>
<line x1="67" y1="113.3" x2="67" y2="143.4" stroke="#8cc46a" stroke-width="1.25"/>
<line x1="68.1" y1="113" x2="68.1" y2="145.9" stroke="#8cc46a" stroke-width="1.25"/>
<line x1="69" y1="114.6" x2="69" y2="143.1" stroke="#70ad47" stroke-width="1.25"/>
<line x1="71" y1="114.4" x2="71" y2="145.5" stroke="#70ad47" stroke-width="1.25"/>
<line x1="72.1" y1="112.5" x2="72.1" y2="140.5" stroke="#70ad47" stroke-width="1.25"/>
<line x1="72.9" y1="114.1" x2="72.9" y2="141.5" stroke="#70ad47" stroke-width="1.25"/>
<line x1="74" y1="114.7" x2="74" y2="142.7" stroke="#62b040" stroke-width="1.25"/>
<line x1="75.1" y1="114.1" x2="75.1" y2="143.2" stroke="#5fa83a" stroke-width="1.25"/>
<line x1="76" y1="112.8" x2="76" y2="139.7" stroke="#4e9a30" stroke-width="1.25"/>
<line x1="76.7" y1="112.9" x2="76.7" y2="141.5" stroke="#62b040" stroke-width="1.25"/>
<line x1="77.5" y1="114.4" x2="77.5" y2="138.8" stroke="#4e9a30" stroke-width="1.25"/>
<line x1="79.9" y1="113.2" x2="79.9" y2="145.5" stroke="#5fa83a" stroke-width="1.25"/>
<line x1="80.5" y1="112.8" x2="80.5" y2="144.8" stroke="#62b040" stroke-width="1.25"/>
<line x1="81.5" y1="114.5" x2="81.5" y2="142.4" stroke="#62b040" stroke-width="1.25"/>
<line x1="82.7" y1="114.6" x2="82.7" y2="142.3" stroke="#70ad47" stroke-width="1.25"/>
<line x1="83.8" y1="114.8" x2="83.8" y2="144.8" stroke="#8cc46a" stroke-width="1.25"/>
<line x1="84.7" y1="113.7" x2="84.7" y2="139.2" stroke="#8cc46a" stroke-width="1.25"/>
<line x1="86" y1="116.1" x2="86" y2="133.8" stroke="#70ad47" stroke-width="1.25"/>
<line x1="86.8" y1="114.7" x2="86.8" y2="143.4" stroke="#70ad47" stroke-width="1.25"/>
<line x1="88" y1="113.3" x2="88" y2="143.3" stroke="#a9d18e" stroke-width="1.25"/>
<line x1="130.9" y1="109.4" x2="130.9" y2="143.8" stroke="#62b040" stroke-width="1.25"/>
<line x1="132" y1="109.4" x2="132" y2="141.5" stroke="#8cc46a" stroke-width="1.25"/>
<line x1="132.8" y1="107.4" x2="132.8" y2="140.3" stroke="#2a4f8f" stroke-width="1.25"/>
<line x1="134" y1="107.7" x2="134" y2="142.8" stroke="#4e9a30" stroke-width="1.25"/>
<line x1="135.1" y1="108.1" x2="135.1" y2="141.3" stroke="#4e9a30" stroke-width="1.25"/>
<line x1="136.7" y1="107.5" x2="136.7" y2="142.1" stroke="#4e9a30" stroke-width="1.25"/>
<line x1="137.9" y1="107.6" x2="137.9" y2="143.8" stroke="#70ad47" stroke-width="1.25"/>
<line x1="138.8" y1="107" x2="138.8" y2="137.5" stroke="#4e9a30" stroke-width="1.25"/>
<line x1="139.7" y1="106.3" x2="139.7" y2="137.8" stroke="#2a4f8f" stroke-width="1.25"/>
<line x1="140.8" y1="108.7" x2="140.8" y2="134.4" stroke="#4e9a30" stroke-width="1.25"/>
<line x1="141.9" y1="105.4" x2="141.9" y2="138.2" stroke="#2e7a2a" stroke-width="1.25"/>
<line x1="143.5" y1="107" x2="143.5" y2="143.1" stroke="#a9d18e" stroke-width="1.25"/>
<line x1="144.2" y1="106.3" x2="144.2" y2="135.5" stroke="#8cc46a" stroke-width="1.25"/>
<line x1="146" y1="104.4" x2="146" y2="141" stroke="#a9d18e" stroke-width="1.25"/>
<line x1="146.7" y1="103.8" x2="146.7" y2="141.5" stroke="#70ad47" stroke-width="1.25"/>
<line x1="147.7" y1="104.4" x2="147.7" y2="138.7" stroke="#4e9a30" stroke-width="1.25"/>
<line x1="148.5" y1="104.3" x2="148.5" y2="140.4" stroke="#62b040" stroke-width="1.25"/>
<line x1="149.1" y1="103.7" x2="149.1" y2="138.6" stroke="#62b040" stroke-width="1.25"/>
<line x1="149.9" y1="103.2" x2="149.9" y2="139.5" stroke="#4e9a30" stroke-width="1.25"/>
<line x1="151.7" y1="103.8" x2="151.7" y2="140.8" stroke="#4e9a30" stroke-width="1.25"/>
<line x1="152.5" y1="103.4" x2="152.5" y2="138" stroke="#70ad47" stroke-width="1.25"/>
<line x1="153.1" y1="104.2" x2="153.1" y2="138.3" stroke="#2a4f8f" stroke-width="1.25"/>
<line x1="154.2" y1="104.5" x2="154.2" y2="139.9" stroke="#2f5597" stroke-width="1.25"/>
<line x1="154.9" y1="102.8" x2="154.9" y2="137.3" stroke="#70ad47" stroke-width="1.25"/>
<line x1="155.8" y1="103.3" x2="155.8" y2="140.3" stroke="#2a4f8f" stroke-width="1.25"/>
<line x1="156.7" y1="104.9" x2="156.7" y2="133.8" stroke="#62b040" stroke-width="1.25"/>
<line x1="158.9" y1="102.1" x2="158.9" y2="139.9" stroke="#2f5597" stroke-width="1.25"/>
<line x1="159.9" y1="102.6" x2="159.9" y2="135" stroke="#70ad47" stroke-width="1.25"/>
<line x1="161.1" y1="101.5" x2="161.1" y2="139.8" stroke="#8cc46a" stroke-width="1.25"/>
<line x1="162.1" y1="101.5" x2="162.1" y2="139.1" stroke="#4e9a30" stroke-width="1.25"/>
<line x1="163.9" y1="101.8" x2="163.9" y2="130.8" stroke="#70ad47" stroke-width="1.25"/>
<line x1="164.9" y1="100.9" x2="164.9" y2="138.7" stroke="#4e9a30" stroke-width="1.25"/>
<line x1="160" y1="99.7" x2="160" y2="137.6" stroke="#24487f" stroke-width="1.25"/>
<line x1="160.6" y1="100.5" x2="160.6" y2="130.2" stroke="#8faadc" stroke-width="1.25"/>
<line x1="162.2" y1="100.1" x2="162.2" y2="140.3" stroke="#1f3f7a" stroke-width="1.25"/>
<line x1="163.3" y1="99.9" x2="163.3" y2="138.2" stroke="#70ad47" stroke-width="1.25"/>
<line x1="163.9" y1="101.7" x2="163.9" y2="139.4" stroke="#1f3f7a" stroke-width="1.25"/>
<line x1="164.9" y1="99.5" x2="164.9" y2="139.2" stroke="#2a4f8f" stroke-width="1.25"/>
<line x1="166.1" y1="99.9" x2="166.1" y2="125.2" stroke="#2a4f8f" stroke-width="1.25"/>
<line x1="166.9" y1="100.8" x2="166.9" y2="138.3" stroke="#2a4f8f" stroke-width="1.25"/>
<line x1="167.7" y1="100.1" x2="167.7" y2="135.4" stroke="#1f3f7a" stroke-width="1.25"/>
<line x1="168.4" y1="100.1" x2="168.4" y2="135.7" stroke="#4472c4" stroke-width="1.25"/>
<line x1="169.3" y1="101" x2="169.3" y2="138.5" stroke="#70ad47" stroke-width="1.25"/>
<line x1="170.5" y1="100.2" x2="170.5" y2="134.3" stroke="#2a4f8f" stroke-width="1.25"/>
<line x1="171.7" y1="101.9" x2="171.7" y2="136.8" stroke="#1f3f7a" stroke-width="1.25"/>
<line x1="172.7" y1="100.8" x2="172.7" y2="135.9" stroke="#24487f" stroke-width="1.25"/>
<line x1="173.3" y1="101.6" x2="173.3" y2="133.7" stroke="#2f5597" stroke-width="1.25"/>
<line x1="174" y1="101.7" x2="174" y2="133.6" stroke="#4472c4" stroke-width="1.25"/>
<line x1="175.1" y1="100.1" x2="175.1" y2="137.4" stroke="#24487f" stroke-width="1.25"/>
<line x1="176.2" y1="100.5" x2="176.2" y2="136.5" stroke="#4472c4" stroke-width="1.25"/>
<line x1="177" y1="100.2" x2="177" y2="137" stroke="#4472c4" stroke-width="1.25"/>
<line x1="177.9" y1="101.1" x2="177.9" y2="135" stroke="#2f5597" stroke-width="1.25"/>
<line x1="180.5" y1="101.9" x2="180.5" y2="133" stroke="#2f5597" stroke-width="1.25"/>
<line x1="181.7" y1="101.8" x2="181.7" y2="133.8" stroke="#2a4f8f" stroke-width="1.25"/>
<line x1="182.4" y1="102.1" x2="182.4" y2="129" stroke="#a9d18e" stroke-width="1.25"/>
<line x1="183.1" y1="102.6" x2="183.1" y2="124.6" stroke="#70ad47" stroke-width="1.25"/>
<line x1="183.8" y1="100.7" x2="183.8" y2="135.8" stroke="#1f3f7a" stroke-width="1.25"/>
<line x1="184.7" y1="103.6" x2="184.7" y2="132.1" stroke="#3a62b0" stroke-width="1.25"/>
<line x1="185.8" y1="100.7" x2="185.8" y2="134.6" stroke="#2a4f8f" stroke-width="1.25"/>
<line x1="186.8" y1="101.8" x2="186.8" y2="126.7" stroke="#2a4f8f" stroke-width="1.25"/>
<line x1="187.5" y1="102.3" x2="187.5" y2="127.1" stroke="#a9d18e" stroke-width="1.25"/>
<line x1="188.5" y1="102.5" x2="188.5" y2="131.8" stroke="#8faadc" stroke-width="1.25"/>
<line x1="189.3" y1="102.5" x2="189.3" y2="135.3" stroke="#8faadc" stroke-width="1.25"/>
<line x1="190.3" y1="103" x2="190.3" y2="130.3" stroke="#2f5597" stroke-width="1.25"/>
<line x1="191.5" y1="100.1" x2="191.5" y2="132.6" stroke="#4472c4" stroke-width="1.25"/>
<line x1="192.4" y1="101.7" x2="192.4" y2="132.5" stroke="#2f5597" stroke-width="1.25"/>
<line x1="193.3" y1="102.2" x2="193.3" y2="132.7" stroke="#2f5597" stroke-width="1.25"/>
<line x1="238" y1="101.8" x2="238" y2="130.1" stroke="#4472c4" stroke-width="1.25"/>
<line x1="239.3" y1="101.1" x2="239.3" y2="129.6" stroke="#2f5597" stroke-width="1.25"/>
<line x1="240.3" y1="100.5" x2="240.3" y2="134" stroke="#1f3f7a" stroke-width="1.25"/>
<line x1="241.5" y1="100.7" x2="241.5" y2="123.8" stroke="#2f5597" stroke-width="1.25"/>
<line x1="242.2" y1="102.2" x2="242.2" y2="132.5" stroke="#1f3f7a" stroke-width="1.25"/>
<line x1="242.9" y1="100.5" x2="242.9" y2="131.7" stroke="#2f5597" stroke-width="1.25"/>
<line x1="243.5" y1="100.9" x2="243.5" y2="130.7" stroke="#2f5597" stroke-width="1.25"/>
<line x1="244.3" y1="100.8" x2="244.3" y2="130.9" stroke="#4472c4" stroke-width="1.25"/>
<line x1="245.9" y1="100" x2="245.9" y2="129.1" stroke="#2f5597" stroke-width="1.25"/>
<line x1="246.5" y1="100.4" x2="246.5" y2="134.3" stroke="#1f3f7a" stroke-width="1.25"/>
<line x1="247.1" y1="100.7" x2="247.1" y2="130.7" stroke="#4472c4" stroke-width="1.25"/>
<line x1="248.2" y1="101.9" x2="248.2" y2="127" stroke="#2f5597" stroke-width="1.25"/>
<line x1="248.9" y1="99.5" x2="248.9" y2="128.5" stroke="#4472c4" stroke-width="1.25"/>
<line x1="249" y1="100.7" x2="249" y2="116.2" stroke="#4472c4" stroke-width="1.25"/>
<line x1="250.3" y1="100.9" x2="250.3" y2="116.6" stroke="#2f5597" stroke-width="1.25"/>
<line x1="251" y1="102.5" x2="251" y2="115.9" stroke="#2f5597" stroke-width="1.25"/>
<line x1="252.7" y1="102.9" x2="252.7" y2="118.1" stroke="#2f5597" stroke-width="1.25"/>
<line x1="254.5" y1="101.6" x2="254.5" y2="111.4" stroke="#4472c4" stroke-width="1.25"/>
<line x1="255.4" y1="99.3" x2="255.4" y2="116.6" stroke="#2f5597" stroke-width="1.25"/>
<line x1="256.5" y1="100.8" x2="256.5" y2="115.9" stroke="#2f5597" stroke-width="1.25"/>
<line x1="257.4" y1="99.9" x2="257.4" y2="118.8" stroke="#2f5597" stroke-width="1.25"/>
<line x1="259.9" y1="100.4" x2="259.9" y2="118.1" stroke="#4472c4" stroke-width="1.25"/>
<line x1="260.9" y1="99.2" x2="260.9" y2="116.6" stroke="#2f5597" stroke-width="1.25"/>
<line x1="261.9" y1="102.3" x2="261.9" y2="117.6" stroke="#2f5597" stroke-width="1.25"/>
<polyline points="42.5,72.5 42.9,73.1 43.3,73.1 43.7,73 44.1,73.6 44.5,73 44.9,73.7 45.3,74.6 45.7,73.4 46.1,73.8 46.5,75.2 46.9,75.7 47.3,75.3 47.7,74.2 48.1,74.6 48.5,74.9 48.9,73.9 49.3,75.4 49.7,74.9 50.1,75.9 50.5,75.2 50.9,76.2 51.3,75.1 51.7,76.5 52.1,76.9 52.5,77.2 52.9,75.9 53.3,77.5 53.7,77.8" fill="none" stroke="#f5c842" stroke-width="1.5" stroke-linejoin="round"/>
<polyline points="42.4,95.5 43,94.7 43.6,94.5 44.2,93.9 44.8,93.5 45.4,93.5 46,92.9 46.6,92.8 47.2,92.7 47.8,92.2 48.4,92.1 49,91.9 49.6,91.7 50.2,91.3 50.8,91.4 51.4,91.6 52,91.1 52.6,91.6 53.2,91.6" fill="none" stroke="#3b6b26" stroke-width="1.12" stroke-linejoin="round"/>
<polyline points="201.8,117.9 202.4,119.6 203,119 203.6,118 204.2,118.9 204.8,119.4 205.4,119.1 206,119.7 206.6,119.4 207.2,120 207.8,120.6 208.4,119.5 209,120.2 209.6,119.9 210.2,120.4 210.8,119.8 211.4,120.3 212,120.7 212.6,121.5 213.2,121.8 213.8,120.4 214.4,120.9 215,121.9 215.6,120.3 216.2,121.3 216.8,121.5 217.4,122.3 218,122 218.6,121.4 219.2,121.4 219.8,121.5 220.4,122.5 221,121.4 221.6,121.5 222.2,121.9 222.8,121.6 223.4,121.6 224,121 224.6,121.7 225.2,121.5 225.8,122.5 226.4,122.2 227,121.8 227.6,122.2 228.2,121.6 228.8,122.5 229.4,121.8 230,122.2 230.6,121.1 231.2,122.1 231.8,120.9 232.4,120.7 233,121.7 233.6,121.4 234.2,122.1 234.8,123.3 235.4,121.5 236,121.6 236.6,121.7 237.2,121.5 237.8,120.7 238.4,120.3 239,120.4 239.6,120.7 240.2,120.2 240.8,121.2 241.4,121.7 242,121.5 242.6,122.7 243.2,122.4 243.8,123.9 244.4,123.9 245,124.3 245.6,124.3 246.2,125 246.8,124.3 247.4,125.2 248,126.5 248.6,125.4 249.2,127.7 249.8,126.8 250.4,129 251,128.7 251.6,130.3 252.2,130.6 252.8,130.3 253.4,132.6 254,133.4 254.6,131.3 255.2,130 255.8,128.9 256.4,127.3 257,127.4 257.6,125.2 258.2,124.4 258.8,122.8 259.4,121.7 260,120.2 260.6,120.5 261.2,119.6 261.8,122.4 262.4,123.9 263,125.6" fill="none" stroke="#8cc46a" stroke-width="1.12" stroke-linejoin="round"/>
<polyline points="44,115.8 44.6,115.7 45.2,116 45.8,115.8 46.4,115.9 47,115.3 47.6,115.6 48.2,117.1 48.8,115.7 49.4,115.5 50,116.4 50.6,117.1 51.2,115.4 51.8,116.1 52.4,115.9 53,115.2 53.6,116.7 54.2,116.3 54.8,116.4 55.4,115.9 56,116.6 56.6,116.1 57.2,116.3 57.8,115.8 58.4,115.7 59,117.3 59.6,116.2 60.2,116.7 60.8,116.6 61.4,116.4 62,116.4 62.6,117.1 63.2,116.7 63.8,116.8 64.4,117 65,117.7 65.6,117.5 66.2,117.4 66.8,116.9 67.4,116.4 68,117.9 68.6,118 69.2,117.4 69.8,117.8 70.4,118.1 71,118.1 71.6,118.3 72.2,117.5 72.8,118.7 73.4,117.1 74,118.5 74.6,118.3 75.2,118.6 75.8,119.3 76.4,119.1 77,117.6 77.6,117.3 78.2,118.9 78.8,117.8 79.4,118.5 80,119.1 80.6,117.7 81.2,117.4 81.8,118.9 82.4,118.9 83,118.7 83.6,119 84.2,118.5 84.8,118.2 85.4,119 86,118.6 86.6,118.3 87.2,119.6 87.8,119.4 88.4,119.6 89,119.1 89.6,119.3 90.2,119.3 90.8,119.5 91.4,119.8 92,119.7 92.6,120 93.2,120 93.8,120.5 94.4,119.8 95,120.3 95.6,120.2 96.2,120.3 96.8,120 97.4,120.3 98,120.6 98.6,120.5 99.2,120.6 99.8,120.6 100.4,121 101,120.8 101.6,120.4 102.2,120.8 102.8,120.6 103.4,120.4 104,121 104.6,121.4 105.2,121.2 105.8,121 106.4,121.2 107,121.6 107.6,121.1 108.2,120.9 108.8,120.7 109.4,120.5 110,120.4 110.6,120.1 111.2,119.8 111.8,119.4 112.4,119.5 113,119.2 113.6,119.5 114.2,118.9 114.8,119 115.4,118.9 116,118.6 116.6,119.1 117.2,118.9 117.8,118.4 118.4,118.6 119,118.4 119.6,117.7 120.2,118.2 120.8,118 121.4,118.1 122,117.9 122.6,118.2 123.2,118.3 123.8,118.6 124.4,118.6 125,118.6 125.6,119 126.2,118.6 126.8,118.7 127.4,118.4 128,119.5 128.6,118.7 129.2,118 129.8,117.2 130.4,116.3 131,115.7 131.6,114.7 132.2,114.1 132.8,113.5 133.4,113.7 134,112.5 134.6,111.4 135.2,110.6 135.8,110.3 136.4,111.4 137,110.5 137.6,110 138.2,109.5 138.8,108.8 139.4,109.2 140,109.5 140.6,108.5 141.2,108.4 141.8,108.1 142.4,108.1 143,106.8 143.6,107.4 144.2,106.8 144.8,107.6 145.4,106.4 146,106.9 146.6,107.3 147.2,105.9 147.8,105.5 148.4,105.8 149,105.4 149.6,104.6 150.2,105.2 150.8,106.1 151.4,104.7 152,104.6 152.6,104 153.2,104.8 153.8,103.7 154.4,103.7 155,105.1 155.6,103.7 156.2,104.8 156.8,105 157.4,104.2 158,104.3 158.6,105 159.2,103.7 159.8,103.3 160.4,102.8 161,103.6 161.6,104.3 162.2,103.9 162.8,102.7 163.4,102.7 164,102.8 164.6,103.2 165.2,102.9 165.8,103.2 166.4,103.2 167,102.9 167.6,103.1 168.2,103.3 168.8,103.1 169.4,103.5 170,104.4 170.6,103.6 171.2,103.3 171.8,102.3 172.4,103.6 173,102.2 173.6,102.6 174.2,104 174.8,103.9 175.4,103.4 176,102.5 176.6,103.4 177.2,103.2 177.8,104 178.4,105 179,103.8 179.6,103.3 180.2,103.1 180.8,103.8 181.4,103.7 182,103.2 182.6,103.9 183.2,103.2 183.8,104.6 184.4,104.6 185,104.7 185.6,103.6 186.2,104.1 186.8,103.6 187.4,103.3 188,103.2 188.6,102.5 189.2,102.3 189.8,103.5 190.4,102.8 191,102.9 191.6,103.3 192.2,101.5 192.8,102 193.4,102.4 194,102.4 194.6,101.9 195.2,102.6 195.8,102 196.4,101 197,101 197.6,102 198.2,101.6 198.8,100.1 199.4,101.9 200,101.3 200.6,100.1 201.2,97.9 201.8,96.4 202.4,95.9 203,96.7 203.6,96.5 204.2,96.9 204.8,96.8 205.4,97.1 206,97 206.6,97.4 207.2,97.7 207.8,97.6 208.4,98.1 209,98.2 209.6,98.2 210.2,98.4 210.8,98.6 211.4,98.9 212,99 212.6,99.1 213.2,99.4 213.8,99.5 214.4,99.6 215,100 215.6,100.2 216.2,99.9 216.8,100.2 217.4,100.2 218,100.2 218.6,100.6 219.2,100.4 219.8,100.8 220.4,100.5 221,100.8 221.6,100.8 222.2,100.7 222.8,101 223.4,101 224,101.2 224.6,101.1 225.2,101.1 225.8,101.3 226.4,101.4 227,101.6 227.6,101.4 228.2,101.6 228.8,101.4 229.4,101.8 230,101.6 230.6,101.6 231.2,101.9 231.8,102.2 232.4,101.8 233,102 233.6,102.1 234.2,102.1 234.8,102.5 235.4,102 236,102.1 236.6,102.9 237.2,101.7 237.8,102.8 238.4,101.2 239,100.9 239.6,100.1 240.2,104.1 240.8,101.6 241.4,102.2 242,101.8 242.6,102 243.2,101.8 243.8,103.7 244.4,100.5 245,99.9 245.6,100.4 246.2,100 246.8,102.1 247.4,102.2 248,100.2 248.6,99.6 249.2,100.7 249.8,102.5 250.4,97.9 251,101.4 251.6,99.6 252.2,101.8 252.8,99.4 253.4,100.2 254,98.8 254.6,99.2 255.2,101.7 255.8,101 256.4,99.6 257,99 257.6,97.8 258.2,99.3 258.8,99.6 259.4,99.5 260,99.4 260.6,98.2 261.2,99.2 261.8,99.1 262.4,100.5 263,101" fill="none" stroke="#70ad47" stroke-width="1.12" stroke-linejoin="round"/>
<polyline points="119.5,118.2 120.1,118.1 120.7,118.3 121.3,118.2 121.9,118.2 122.5,118.3 123.1,118.2 123.7,118.6 124.3,118.6 124.9,118.9 125.5,118.9 126.1,119 126.7,119 127.3,119.3 127.9,119.2 128.5,119 129.1,118.5 129.7,117.3 130.3,117.2 130.9,115.7 131.5,115.2 132.1,114.6 132.7,112.8 133.3,113.3 133.9,112.5 134.5,111.6 135.1,110.7 135.7,110.4 136.3,109.8 136.9,110 137.5,109.5 138.1,109.6 138.7,108.6 139.3,109.1 139.9,108.8 140.5,108.3 141.1,107.9 141.7,108.2 142.3,106.6 142.9,107.6 143.5,107.2 144.1,106.9 144.7,106.7 145.3,105.8 145.9,105.8 146.5,106 147.1,105.6 147.7,105.2 148.3,103.9 148.9,104.8 149.5,104.9 150.1,104.6 150.7,104 151.3,102.7 151.9,104.1 152.5,103.2 153.1,101.7 153.7,103.2 154.3,102 154.9,101.9 155.5,102.2 156.1,103.1 156.7,102 157.3,102.2 157.9,102.9 158.5,102.7 159.1,101.5 159.7,101.3 160.3,100.5 160.9,100.7 161.5,101.2 162.1,101 162.7,100.7 163.3,101.1 163.9,99.8 164.5,100.1 165.1,100.4 165.7,100.4 166.3,100.6 166.9,100.2 167.5,99.8 168.1,100.2 168.7,99.4 169.3,99 169.9,100.3 170.5,100 171.1,100.2 171.7,99 172.3,99.8 172.9,99.6 173.5,99.5 174.1,98.6 174.7,99.8 175.3,100.5 175.9,100.2 176.5,99.6 177.1,100 177.7,100.5 178.3,98.3 178.9,99.9 179.5,100.3 180.1,100.4 180.7,101 181.3,100.7 181.9,100.2 182.5,100.2 183.1,100.5 183.7,99.7 184.3,100 184.9,100.5 185.5,101.1 186.1,99.8 186.7,99.9 187.3,100 187.9,100.6 188.5,99.7 189.1,100.6 189.7,99.1 190.3,99.5 190.9,99.5 191.5,100 192.1,100.2 192.7,98.6 193.3,98.9 193.9,99.6 194.5,99 195.1,98.4 195.7,99.9 196.3,99.5 196.9,99.5 197.5,98.9 198.1,99.7 198.7,98.9 199.3,99.7 199.9,98.6 200.5,98.4 201.1,98.5 201.7,97.9 202.3,98.3 202.9,98.4 203.5,98.4 204.1,98.8 204.7,99 205.3,99.4 205.9,99.4 206.5,99.7 207.1,100.1 207.7,100.5 208.3,100.7 208.9,100.7 209.5,100.9 210.1,101.3 210.7,101.3 211.3,101.4 211.9,101.8 212.5,102.1 213.1,102.1 213.7,102.3 214.3,102.5 214.9,103.1 215.5,103 216.1,103.1 216.7,103.3 217.3,103.4 217.9,103.3 218.5,103.5 219.1,103.4 219.7,103.6 220.3,103.6 220.9,104 221.5,103.9 222.1,103.8 222.7,104 223.3,104.1 223.9,104.3 224.5,104 225.1,104.2 225.7,104.4 226.3,104.9 226.9,104.7 227.5,104.6 228.1,104.9 228.7,105.1 229.3,104.9 229.9,104.9 230.5,105.2 231.1,105.2 231.7,105.3 232.3,105.2 232.9,105.7 233.5,105.7 234.1,105.6 234.7,105.8 235.3,104.8 235.9,106.2 236.5,105.4 237.1,105.7 237.7,105.7 238.3,104.4 238.9,102.7 239.5,104.6 240.1,103.2 240.7,103.6 241.3,103.2 241.9,103.4 242.5,101.3 243.1,105 243.7,103.9 244.3,104.8 244.9,105.6 245.5,103.5 246.1,101.4 246.7,102.4 247.3,102 247.9,102.7 248.5,103.2 249.1,100.9 249.7,103.4 250.3,101.3 250.9,103.2 251.5,102.7 252.1,102.3 252.7,102.5 253.3,101.9 253.9,101.7 254.5,100.5 255.1,102.2 255.7,104.1 256.3,104.2 256.9,103.4 257.5,102.6 258.1,101 258.7,103.2 259.3,101.5 259.9,101.4 260.5,101.1 261.1,101.4 261.7,100.7 262.3,101 262.9,99.8" fill="none" stroke="#2f5597" stroke-width="1.12" stroke-linejoin="round"/>
<polyline points="44,112.7 44.6,118.2 45.2,120.2 45.8,123.6 46.4,123.5 47,118.2 47.6,113.2 48.2,113.9 48.8,114.7 49.4,114.3 50,114.2 50.6,115.2 51.2,113.7 51.8,114.2 52.4,113.8 53,115.3 53.6,112.9 54.2,113.8 54.8,113.9 55.4,114.8 56,114.8 56.6,115.3 57.2,113.3 57.8,114.9 58.4,114.2 59,114 59.6,114.9 60.2,113.9 60.8,113.1 61.4,114.3 62,113.6 62.6,114.2 63.2,115 63.8,115 64.4,115.9 65,114.7 65.6,113.9 66.2,114.4 66.8,114.4 67.4,114.2 68,115.4 68.6,114.7 69.2,113.8 69.8,115.7 70.4,115.2 71,115.6 71.6,115.5 72.2,115.9 72.8,115.5 73.4,116.4 74,115.9 74.6,115.9 75.2,115.9 75.8,114.7 76.4,115.6 77,115.6 77.6,116 78.2,114.9 78.8,117.1 79.4,116 80,115.2 80.6,114.9 81.2,115.9 81.8,118.6 82.4,115.7 83,116.3 83.6,115.8 84.2,118.1 84.8,115.9 85.4,116.4 86,117.2 86.6,118.2 87.2,116 87.8,116.4 88.4,116.2 89,117.1 89.6,116.3 90.2,116.6 90.8,116.9 91.4,116.6 92,116.7 92.6,116.9 93.2,116.6 93.8,116.8 94.4,117.1 95,117.3 95.6,117.2 96.2,117 96.8,117.5 97.4,118.1 98,118.2 98.6,119.8 99.2,118.3 99.8,118.9 100.4,118.8 101,118.9 101.6,119.4 102.2,120 102.8,119.9 103.4,121.2 104,120 104.6,120.4 105.2,120.1 105.8,120.3 106.4,122.5 107,120.6 107.6,120.4 108.2,120 108.8,119.5 109.4,121.2 110,118.1 110.6,117.2 111.2,116.9 111.8,116.4 112.4,115.9 113,115.7 113.6,114.9 114.2,114.5 114.8,113.5 115.4,113.8 116,114.2 116.6,114 117.2,113.8 117.8,113.9 118.4,114.3 119,113.7 119.6,113.9 120.2,114.1 120.8,114.2 121.4,114 122,114.4 122.6,114.5 123.2,114.8 123.8,114.9 124.4,114.9 125,115.4 125.6,115.8 126.2,115.6 126.8,116 127.4,116.5 128,115.8 128.6,116 129.2,115 129.8,115.8 130.4,116.2 131,115.8 131.6,114 132.2,114.3 132.8,113.5 133.4,113.2 134,113.8 134.6,111.5 135.2,112.8 135.8,111.7 136.4,112.4 137,111.2 137.6,110.2 138.2,110.5 138.8,110.5 139.4,109.7 140,109.6 140.6,108.8 141.2,107.5 141.8,109.5 142.4,109.2 143,108.6 143.6,108.4 144.2,108.9 144.8,107.7 145.4,107.4 146,107.6 146.6,108.4 147.2,106.4 147.8,108.1 148.4,106.6 149,106.2 149.6,107.6 150.2,106.5 150.8,105.5 151.4,106 152,106.8 152.6,106.8 153.2,105.5 153.8,108.9 154.4,106 155,104.9 155.6,105.4 156.2,105 156.8,104.5 157.4,104.4 158,104.6 158.6,104.4 159.2,103.8 159.8,103.8 160.4,104.7 161,103.9 161.6,104.2 162.2,104.3 162.8,103.7 163.4,104.7 164,103.9 164.6,103.4 165.2,102.5 165.8,104 166.4,103.9 167,101.4 167.6,102.1 168.2,103.3 168.8,103.4 169.4,103.4 170,102.8 170.6,103.2 171.2,103.4 171.8,102.9 172.4,103.7 173,101.4 173.6,103.4 174.2,102.3 174.8,103.7 175.4,102.9 176,102.4 176.6,103.3 177.2,102.5 177.8,102.5 178.4,102 179,103.1 179.6,103.5 180.2,103.9 180.8,103.1 181.4,104 182,103.3 182.6,103.2 183.2,103.7 183.8,104 184.4,103.1 185,103.2 185.6,103.2 186.2,103.4 186.8,102.8 187.4,104.1 188,103.2 188.6,103.8 189.2,102.9 189.8,106.2 190.4,103.6 191,102.9 191.6,104.4 192.2,103 192.8,103.8 193.4,103 194,101.6 194.6,101.6 195.2,102 195.8,101.5 196.4,101.3 197,100.8 197.6,99.6 198.2,100.5 198.8,98.9 199.4,100.5 200,99.6 200.6,98.4 201.2,97.5 201.8,96.5 202.4,95.8 203,96 203.6,96.3 204.2,96.3 204.8,96.7 205.4,97.3 206,97 206.6,97.5 207.2,97.4 207.8,97.8 208.4,97.9 209,98.1 209.6,98.4 210.2,98.8 210.8,98.7 211.4,98.9 212,98.9 212.6,99.4 213.2,99.4 213.8,99.8 214.4,99.8 215,100.3 215.6,99.7 216.2,100.1 216.8,100.4 217.4,100.2 218,100.2 218.6,100.4 219.2,100.3 219.8,100.6 220.4,101.1 221,100.9 221.6,100.6 222.2,100.7 222.8,100.9 223.4,101.2 224,100.9 224.6,101 225.2,101.4 225.8,101.4 226.4,101.3 227,101.2 227.6,101.2 228.2,101.4 228.8,101.3 229.4,101.8 230,101.7 230.6,101.9 231.2,102.3 231.8,102.2 232.4,101.9 233,102.3 233.6,102.4 234.2,102.1 234.8,102 235.4,103.9 236,101.4 236.6,103.7 237.2,99.9 237.8,101 238.4,101.9 239,101.9 239.6,105.2 240.2,102.4 240.8,101.7 241.4,103.4 242,99.2 242.6,101.8 243.2,100.8 243.8,101.8 244.4,101.9 245,100.4 245.6,100.7 246.2,102.4 246.8,101.8 247.4,100.4 248,103.8 248.6,104.1 249.2,99.2 249.8,101.4 250.4,104.1 251,101.9 251.6,101.2 252.2,100.6 252.8,100.1 253.4,100.5 254,100 254.6,101.6 255.2,100.1 255.8,100 256.4,99 257,100.4 257.6,99.3 258.2,100.1 258.8,101.6 259.4,100.7 260,100.9 260.6,100.6 261.2,100.2 261.8,99.9 262.4,99.7 263,103.6" fill="none" stroke="#2e6b1f" stroke-width="1.38" stroke-linejoin="round"/>
<polyline points="44,110.3 44.6,111.3 45.2,110.5 45.8,111.2 46.4,111.8 47,111.8 47.6,112.2 48.2,111.1 48.8,110.6 49.4,111.9 50,111.6 50.6,112.1 51.2,111.5 51.8,112.2 52.4,112 53,112 53.6,111.9 54.2,111.9 54.8,111.8 55.4,111.8 56,112.3 56.6,111.5 57.2,112.9 57.8,111.8 58.4,112.5 59,111.9 59.6,111.8 60.2,113.3 60.8,112 61.4,111.5 62,111.9 62.6,112.3 63.2,113.9 63.8,112.8 64.4,113.3 65,112.3 65.6,113.2 66.2,113.5 66.8,114.3 67.4,112.9 68,113.8 68.6,113.7 69.2,113 69.8,113.7 70.4,113.7 71,112.5 71.6,114.4 72.2,114.5 72.8,114 73.4,113.6 74,115.4 74.6,114.7 75.2,115.3 75.8,115.6 76.4,114.6 77,115.5 77.6,115 78.2,115.2 78.8,115.3 79.4,115.4 80,116.2 80.6,115.7 81.2,115.6 81.8,115.7 82.4,116.1 83,115.5 83.6,115.9 84.2,116.2 84.8,116 85.4,116.4 86,116.1 86.6,117.7 87.2,117.3 87.8,116.8 88.4,116.7 89,117.6 89.6,116.9 90.2,116.8 90.8,117 91.4,117 92,117.3 92.6,117 93.2,117.5 93.8,116.9 94.4,117.3 95,117 95.6,117.7 96.2,117.3 96.8,117.6 97.4,118 98,118.3 98.6,118.1 99.2,118.4 99.8,118.4 100.4,119 101,119.2 101.6,119.3 102.2,119.5 102.8,119.8 103.4,119.9 104,120.2 104.6,120.5 105.2,119.8 105.8,120.3 106.4,120.3 107,120.5 107.6,120.3 108.2,120 108.8,119.2 109.4,118.9 110,118.2 110.6,117.6 111.2,117.1 111.8,116.4 112.4,115.6 113,115.5 113.6,114.9 114.2,114.3 114.8,114 115.4,113.9 116,113.4 116.6,113.6 117.2,114.1 117.8,114.1 118.4,113.7 119,113.7 119.6,113.8 120.2,113.9 120.8,113.7 121.4,114.1 122,114.1 122.6,114.3 123.2,114.9 123.8,114.8 124.4,115.2 125,115.5 125.6,115.8 126.2,115.8 126.8,116.1 127.4,116 128,116.8 128.6,116 129.2,114.8 129.8,114.8 130.4,114.7 131,114.1 131.6,114.5 132.2,113.8 132.8,112.2 133.4,112 134,110.8 134.6,111.3 135.2,110.8 135.8,111.8 136.4,109.8 137,108 137.6,108.4 138.2,108.4 138.8,107.2 139.4,106.9 140,106.8 140.6,107.1 141.2,106.6 141.8,106 142.4,106.9 143,106 143.6,105.8 144.2,105.2 144.8,105.4 145.4,106.1 146,104.6 146.6,105.4 147.2,105.7 147.8,104.9 148.4,105.1 149,104.2 149.6,105.5 150.2,105.2 150.8,104.5 151.4,103.2 152,103.5 152.6,104.6 153.2,104.9 153.8,103.9 154.4,104.3 155,103 155.6,103.1 156.2,103.1 156.8,103.2 157.4,101.9 158,103.2 158.6,103.3 159.2,101.7 159.8,101.4 160.4,102.3 161,101.6 161.6,100.4 162.2,102.2 162.8,101.6 163.4,101.1 164,102.5 164.6,101.2 165.2,100.5 165.8,101.1 166.4,100.4 167,100.5 167.6,101.2 168.2,100.7 168.8,100.7 169.4,102 170,101.5 170.6,101.5 171.2,101.3 171.8,101.3 172.4,101.9 173,101 173.6,102.1 174.2,100.4 174.8,100.8 175.4,100.2 176,100.8 176.6,101.3 177.2,101.9 177.8,100.6 178.4,101 179,100.8 179.6,100.6 180.2,100.3 180.8,101 181.4,100 182,101.1 182.6,101 183.2,100.6 183.8,100.4 184.4,100.2 185,102.1 185.6,100.2 186.2,101.9 186.8,101.4 187.4,100.8 188,100.3 188.6,101.6 189.2,102 189.8,100.4 190.4,100.7 191,101.3 191.6,100.7 192.2,101.5 192.8,99.8 193.4,100.3 194,99 194.6,100.9 195.2,99 195.8,97.9 196.4,99 197,98.8 197.6,99.9 198.2,98.3 198.8,98.4 199.4,98.5 200,98.8 200.6,97.4 201.2,97.2 201.8,96.3 202.4,96.1 203,96.3 203.6,96.5 204.2,96.5 204.8,97 205.4,96.8 206,97.4 206.6,97.6 207.2,97.6 207.8,97.7 208.4,97.9 209,98.2 209.6,98.4 210.2,98.6 210.8,98.9 211.4,98.8 212,99.1 212.6,99 213.2,99.6 213.8,99.7 214.4,99.8 215,100.2 215.6,100.2 216.2,99.7 216.8,100.2 217.4,100.1 218,100.5 218.6,100.8 219.2,100.4 219.8,100.6 220.4,100.6 221,100.8 221.6,100.9 222.2,101.1 222.8,100.8 223.4,101.2 224,100.9 224.6,101.2 225.2,101.4 225.8,101.4 226.4,101.2 227,101.3 227.6,101.4 228.2,101.6 228.8,101.8 229.4,101.5 230,101.9 230.6,101.9 231.2,102 231.8,102.1 232.4,102.3 233,102.2 233.6,102.3 234.2,102.4 234.8,103 235.4,101.5 236,103.3 236.6,102.2 237.2,102.1 237.8,101.3 238.4,100.2 239,101.7 239.6,101.3 240.2,102.5 240.8,100.3 241.4,103.3 242,102 242.6,101.4 243.2,100.8 243.8,100.6 244.4,100.2 245,100.7 245.6,101.3 246.2,101 246.8,99.6 247.4,100.7 248,100 248.6,101 249.2,102.8 249.8,101.4 250.4,100.3 251,98.8 251.6,98.9 252.2,98.6 252.8,101.1 253.4,99.4 254,100.2 254.6,99.4 255.2,100.1 255.8,101.4 256.4,99.1 257,99.4 257.6,98.8 258.2,100.6 258.8,98.4 259.4,98.2 260,97.9 260.6,97.8 261.2,99.7 261.8,101.9 262.4,98 263,100" fill="none" stroke="#548235" stroke-width="1.12" stroke-linejoin="round"/>
<polyline points="44,110.2 44.6,109.4 45.2,109.9 45.8,110 46.4,109.7 47,111.3 47.6,109.1 48.2,110.5 48.8,110.5 49.4,110 50,110.5 50.6,110.9 51.2,110.5 51.8,110.7 52.4,110.9 53,109.3 53.6,111.5 54.2,112 54.8,111.3 55.4,111.3 56,109.9 56.6,110.7 57.2,110.3 57.8,110.5 58.4,111.5 59,110.5 59.6,110.9 60.2,109.9 60.8,111 61.4,111.3 62,110.9 62.6,110.9 63.2,112.6 63.8,110.8 64.4,111 65,111.2 65.6,112.5 66.2,113.1 66.8,112.2 67.4,111.6 68,111.9 68.6,112.8 69.2,111.7 69.8,113.2 70.4,113.3 71,112.6 71.6,113 72.2,113.2 72.8,113.7 73.4,112.2 74,113.7 74.6,112.8 75.2,112.7 75.8,113.3 76.4,113.2 77,112.8 77.6,112.5 78.2,113 78.8,114.5 79.4,114.9 80,114.2 80.6,114.6 81.2,113.7 81.8,114 82.4,114.3 83,113.6 83.6,113.7 84.2,114.4 84.8,114.3 85.4,113.9 86,114.9 86.6,114.6 87.2,115.3 87.8,114.9 88.4,114.8 89,115.1 89.6,115 90.2,114.9 90.8,115.1 91.4,115.5 92,115.5 92.6,115.7 93.2,115.2 93.8,115.5 94.4,115.6 95,115.8 95.6,115.8 96.2,115.8 96.8,116.2 97.4,116.1 98,115.9 98.6,116.5 99.2,116.5 99.8,116.3 100.4,116.7 101,116.4 101.6,116.9 102.2,116.7 102.8,116.6 103.4,116.8 104,116.8 104.6,117.1 105.2,117.1 105.8,117.2 106.4,117.1 107,116.5 107.6,117.1 108.2,116.5 108.8,116.8 109.4,116.9 110,116.5 110.6,116.3 111.2,116.1 111.8,116 112.4,115.8 113,115.7 113.6,115.5 114.2,115.9 114.8,115.5 115.4,115.6 116,115.3 116.6,115.3 117.2,115.1 117.8,115.2 118.4,115.1 119,114.9 119.6,114.6 120.2,114.5 120.8,114.9 121.4,114.4 122,114.6 122.6,115.1 123.2,115.1 123.8,115.1 124.4,115.1 125,115.8 125.6,115.5 126.2,115.7 126.8,115.7 127.4,115.4 128,115.2 128.6,115.2 129.2,114.6 129.8,113.8 130.4,112.7 131,112 131.6,112 132.2,110.7 132.8,111.5 133.4,111.1 134,111.5 134.6,109.8 135.2,108.3 135.8,107.6 136.4,105.5 137,106.6 137.6,106.3 138.2,106.5 138.8,106.2 139.4,106 140,105.6 140.6,105.7 141.2,106.1 141.8,104.4 142.4,104.6 143,103.9 143.6,105.6 144.2,105.2 144.8,104.8 145.4,103.4 146,104.1 146.6,103.7 147.2,103.7 147.8,103.4 148.4,103.5 149,102.5 149.6,102.9 150.2,102.1 150.8,101.3 151.4,101 152,100.4 152.6,100.7 153.2,99.6 153.8,99.5 154.4,98.7 155,97.6 155.6,98.6 156.2,97 156.8,97.6 157.4,97 158,95.4 158.6,95.5 159.2,95.9 159.8,95.9 160.4,95.8 161,97.1 161.6,96.7 162.2,97.2 162.8,96.9 163.4,97.5 164,97 164.6,97.6 165.2,98.1 165.8,98 166.4,97.7 167,97.3 167.6,98 168.2,98.1 168.8,97.7 169.4,97.4 170,98.1 170.6,99.3 171.2,97.6 171.8,97.9 172.4,97.9 173,96.1 173.6,97.7 174.2,97.2 174.8,98.4 175.4,97.4 176,97 176.6,97.4 177.2,97.6 177.8,97.2 178.4,97.6 179,96.8 179.6,97.5 180.2,98.1 180.8,98.9 181.4,98.1 182,97.9 182.6,98.4 183.2,98.4 183.8,98.8 184.4,98.4 185,97.8 185.6,98 186.2,98 186.8,98.1 187.4,98 188,97.5 188.6,96.7 189.2,97.6 189.8,96.8 190.4,97.9 191,97.7 191.6,96.5 192.2,97.8 192.8,97.7 193.4,97 194,97.8 194.6,97.7 195.2,95.7 195.8,96.9 196.4,96.3 197,96.2 197.6,96.3 198.2,95.1 198.8,95 199.4,94.7 200,94.6 200.6,94.7 201.2,93.9 201.8,93.8 202.4,94.2 203,94.3 203.6,94.5 204.2,94.4 204.8,94.7 205.4,95 206,95.2 206.6,95.3 207.2,95.7 207.8,95.8 208.4,96 209,96.2 209.6,96.4 210.2,96.5 210.8,96.9 211.4,97 212,97.1 212.6,97.3 213.2,97.5 213.8,97.8 214.4,98 215,98.1 215.6,98.2 216.2,98.1 216.8,98.4 217.4,98.2 218,98 218.6,98.5 219.2,98.4 219.8,98.3 220.4,98.5 221,98.4 221.6,98.9 222.2,98.8 222.8,98.5 223.4,98.9 224,98.8 224.6,99.2 225.2,98.8 225.8,98.7 226.4,99.1 227,99.1 227.6,99.1 228.2,98.9 228.8,99.4 229.4,99.6 230,99.1 230.6,99.7 231.2,99.5 231.8,100 232.4,99.7 233,99.7 233.6,99.9 234.2,99.9 234.8,99.7 235.4,100.3 236,99.7 236.6,98.6 237.2,101.7 237.8,99.5 238.4,99.2 239,100.1 239.6,98 240.2,98.2 240.8,99.1 241.4,99 242,99.6 242.6,100.7 243.2,99 243.8,100 244.4,100 245,98.2 245.6,99.5 246.2,98.2 246.8,100.3 247.4,99.6 248,99.1 248.6,97.6 249.2,99.1 249.8,98.1 250.4,99.7 251,98.8 251.6,98 252.2,99.8 252.8,99.5 253.4,98.1 254,99.9 254.6,98.3 255.2,98.2 255.8,98.7 256.4,97.7 257,98 257.6,98.2 258.2,100 258.8,99.9 259.4,98 260,100 260.6,98.1 261.2,98.5 261.8,99 262.4,98.4 263,100.6" fill="none" stroke="#c07a2a" stroke-width="1.12" stroke-linejoin="round"/>
<polyline points="44,109.1 44.6,108.3 45.2,109.9 45.8,108.9 46.4,109 47,107.4 47.6,109.8 48.2,109.8 48.8,109.8 49.4,109.9 50,110.4 50.6,109.4 51.2,110 51.8,109 52.4,109.3 53,110.2 53.6,109.8 54.2,108.8 54.8,109.9 55.4,109.6 56,109.3 56.6,110 57.2,109.6 57.8,108.9 58.4,109.2 59,111 59.6,109.1 60.2,110.2 60.8,110.5 61.4,110.6 62,109.6 62.6,110.3 63.2,110.7 63.8,111.2 64.4,110.4 65,110.2 65.6,111.6 66.2,111.8 66.8,111.4 67.4,111 68,111.7 68.6,111.6 69.2,112.2 69.8,111 70.4,111.9 71,111.9 71.6,111.4 72.2,112.3 72.8,112.3 73.4,112.2 74,112.8 74.6,111.8 75.2,112.7 75.8,113.1 76.4,113.1 77,113.7 77.6,112.4 78.2,112.4 78.8,113.5 79.4,113.8 80,114.9 80.6,114.1 81.2,113.3 81.8,114.4 82.4,113.5 83,113.2 83.6,115.8 84.2,114.6 84.8,114.9 85.4,114.9 86,115.7 86.6,114.9 87.2,115.4 87.8,114.4 88.4,114.3 89,115.6 89.6,115.6 90.2,115.3 90.8,115.3 91.4,115.4 92,115.3 92.6,115.8 93.2,115.7 93.8,115.7 94.4,115.8 95,116 95.6,116 96.2,116.1 96.8,115.8 97.4,116.2 98,116.6 98.6,116.1 99.2,116.3 99.8,116.6 100.4,116.7 101,116.7 101.6,116.3 102.2,116.8 102.8,116.5 103.4,116.7 104,117.1 104.6,117 105.2,117.3 105.8,117.8 106.4,117.4 107,117.4 107.6,116.9 108.2,116.8 108.8,116.6 109.4,116.5 110,116.3 110.6,116.2 111.2,116.1 111.8,115.8 112.4,115.6 113,115.5 113.6,115.8 114.2,115.6 114.8,115.7 115.4,115.6 116,115.3 116.6,115.4 117.2,114.8 117.8,115.5 118.4,115.2 119,114.8 119.6,114.5 120.2,114.8 120.8,114.2 121.4,114.3 122,114.8 122.6,114.8 123.2,114.8 123.8,115.2 124.4,114.9 125,115.4 125.6,115.3 126.2,115.4 126.8,115.8 127.4,115.5 128,116.2 128.6,114.7 129.2,115.1 129.8,113.2 130.4,113.3 131,111.8 131.6,111 132.2,111.2 132.8,110.9 133.4,109.1 134,109.9 134.6,108.1 135.2,108 135.8,107.6 136.4,107.1 137,105 137.6,106.4 138.2,105.3 138.8,104.6 139.4,104.1 140,103.5 140.6,103.6 141.2,104.6 141.8,103.9 142.4,103.3 143,103.5 143.6,104.7 144.2,103.4 144.8,103.1 145.4,104.1 146,103.4 146.6,103 147.2,102.5 147.8,101.8 148.4,101.7 149,101.6 149.6,101.3 150.2,101.2 150.8,100.9 151.4,100.2 152,99.8 152.6,98.6 153.2,97.4 153.8,98 154.4,97.3 155,97 155.6,96.7 156.2,95.7 156.8,95.3 157.4,95.5 158,95.2 158.6,94.3 159.2,95.2 159.8,94.9 160.4,94.6 161,95.5 161.6,96.7 162.2,95.4 162.8,96.7 163.4,97 164,97.2 164.6,96 165.2,97.9 165.8,96.9 166.4,96.7 167,96.7 167.6,97.1 168.2,96.8 168.8,96.6 169.4,97.4 170,96.2 170.6,96 171.2,97 171.8,96.9 172.4,97.1 173,95.8 173.6,97 174.2,96.6 174.8,97.3 175.4,95.5 176,96.3 176.6,96.1 177.2,95.3 177.8,95.9 178.4,97 179,96.1 179.6,95.9 180.2,96.9 180.8,97 181.4,97.1 182,96 182.6,96.5 183.2,97.2 183.8,96.2 184.4,96.2 185,97.1 185.6,97.6 186.2,96 186.8,95.2 187.4,95.9 188,96.2 188.6,96.7 189.2,97.2 189.8,96.8 190.4,96.5 191,96.8 191.6,96 192.2,96.4 192.8,95.8 193.4,97.6 194,96.3 194.6,95.1 195.2,94.9 195.8,95 196.4,94.1 197,94.5 197.6,94.3 198.2,95.1 198.8,94.1 199.4,93.7 200,93.3" fill="none" stroke="#9c7a24" stroke-width="1.0" stroke-linejoin="round"/>
<polyline points="44,106.1 44.6,107 45.2,106.9 45.8,108 46.4,106.6 47,108 47.6,107.4 48.2,107.3 48.8,105.7 49.4,106.3 50,108 50.6,108.5 51.2,107.6 51.8,108.1 52.4,107.2 53,107.3 53.6,107.1 54.2,108.4 54.8,107.9 55.4,107.5 56,107.5 56.6,108.2 57.2,108.1 57.8,107.2 58.4,109.3 59,108.1 59.6,108 60.2,109.2 60.8,108.9 61.4,108 62,108.5 62.6,107.3 63.2,107.7 63.8,106.4 64.4,109.2 65,106.8 65.6,108.9 66.2,107.7 66.8,107.6 67.4,108.3 68,108.7 68.6,109 69.2,110 69.8,108.9 70.4,109.3 71,108.2 71.6,109.3 72.2,108.9 72.8,108.4 73.4,108.7 74,108.8 74.6,109 75.2,109.2 75.8,108.5 76.4,108.4 77,109.6 77.6,107.7 78.2,108.6 78.8,110.4 79.4,107 80,108.6 80.6,109.8 81.2,108 81.8,111.4 82.4,107.3 83,110.5 83.6,110.7 84.2,110.2 84.8,109.3 85.4,109.8 86,108.9 86.6,110.2 87.2,108.9 87.8,109.6 88.4,110.4 89,109.2 89.6,109.7 90.2,110 90.8,109.5 91.4,110.4 92,110.2 92.6,109.7 93.2,110.2 93.8,110 94.4,110.1 95,110.4 95.6,110.2 96.2,110.7 96.8,110.3 97.4,110.9 98,110.6 98.6,110.9 99.2,110.6 99.8,110.6 100.4,110.5 101,111.1 101.6,111.2 102.2,111.6 102.8,111.4 103.4,111.2 104,111.1 104.6,111.3 105.2,111.3 105.8,111.7 106.4,111.6 107,111.1 107.6,110.9 108.2,111.3 108.8,110.8 109.4,110.4 110,110.6 110.6,110 111.2,109.8 111.8,109.5 112.4,108.9 113,109.6 113.6,109 114.2,109.1 114.8,108.9 115.4,109.3 116,109 116.6,108.9 117.2,108.3 117.8,108.7 118.4,108.2 119,108.6 119.6,108.6 120.2,108.4 120.8,108.9 121.4,108.3 122,108.6 122.6,108.7 123.2,108.8 123.8,109.3 124.4,109.6 125,109.1 125.6,110 126.2,110.1 126.8,110.5 127.4,110.6 128,109.8 128.6,109.4 129.2,110.7 129.8,109.5 130.4,108.1 131,109 131.6,108.1 132.2,106.6 132.8,105.9 133.4,106.1 134,107.3 134.6,106.7 135.2,106.2 135.8,106.3 136.4,106.3 137,103.8 137.6,104.9 138.2,104.2 138.8,103.7 139.4,104.2 140,104.4 140.6,104.1 141.2,103.1 141.8,103.7 142.4,105.6 143,103 143.6,102.4 144.2,103.8 144.8,103.9 145.4,103.7 146,102.3 146.6,103.9 147.2,102.3 147.8,101.9 148.4,102.1 149,102.1 149.6,102.3 150.2,101.7 150.8,100.7 151.4,101 152,99.9 152.6,100 153.2,97.7 153.8,97.1 154.4,98.5 155,96.3 155.6,96.7 156.2,96.4 156.8,95.6 157.4,95.2 158,96.2 158.6,92.7 159.2,95.6 159.8,96.9 160.4,95.3 161,95.4 161.6,96.2 162.2,97.3 162.8,95.1 163.4,96.3 164,96.2 164.6,97 165.2,96.9 165.8,97.4 166.4,96.5 167,96.9 167.6,96.2 168.2,96.2 168.8,96.6 169.4,96.5 170,95.7 170.6,97.8 171.2,96.4 171.8,95.4 172.4,97.3 173,95.8 173.6,96.8 174.2,96.3 174.8,96.5 175.4,96.4 176,95.7 176.6,96.3 177.2,97.9 177.8,94.5 178.4,96.4 179,96.7 179.6,95.5 180.2,95.3 180.8,98.2 181.4,96.2 182,98.2 182.6,96.9 183.2,96.6 183.8,97 184.4,97.1 185,97.6 185.6,97 186.2,96.8 186.8,96.9 187.4,97.8 188,97.4 188.6,96 189.2,96.3 189.8,97.1 190.4,96.4 191,96.5 191.6,95.9 192.2,96.4 192.8,96.8 193.4,97.1 194,96.2 194.6,97.7 195.2,95.9 195.8,98.4 196.4,96.5 197,96 197.6,95.1 198.2,93.1 198.8,95.1 199.4,95.3 200,96.2 200.6,93.3 201.2,94.1 201.8,92.2 202.4,92.3 203,91.8 203.6,92.5 204.2,92.6 204.8,93 205.4,93.1 206,93 206.6,93.6 207.2,93.7 207.8,93.9 208.4,94.2 209,94.4 209.6,94.3 210.2,94.3 210.8,94.4 211.4,95.2 212,95.2 212.6,95.3 213.2,95.4 213.8,95.6 214.4,95.8 215,95.9 215.6,95.9 216.2,96.5 216.8,96.2 217.4,96.1 218,96 218.6,96.2 219.2,96.5 219.8,96.6 220.4,96.5 221,96.6 221.6,96.6 222.2,96.5 222.8,97 223.4,96.9 224,97.4 224.6,96.8 225.2,96.9 225.8,97.2 226.4,97 227,96.9 227.6,97 228.2,97.3 228.8,97.4 229.4,97.4 230,97.6 230.6,97.7 231.2,97.6 231.8,97.6 232.4,97.6 233,97.8 233.6,98 234.2,97.8 234.8,98.1 235.4,97.7 236,96.8 236.6,96.9 237.2,98.8 237.8,98.5 238.4,100.1 239,97.9 239.6,99 240.2,99.6 240.8,99.1 241.4,96.7 242,97.3 242.6,97.7 243.2,96 243.8,98.1 244.4,98.9 245,96.6 245.6,100.1 246.2,96.8 246.8,96.9 247.4,96.8 248,96.1 248.6,97.7 249.2,97.1 249.8,99.4 250.4,97.8 251,97.7 251.6,96.5 252.2,94.8 252.8,96.6 253.4,95.5 254,98 254.6,96.6 255.2,99 255.8,97.6 256.4,97.7 257,96.8 257.6,96.7 258.2,97.3 258.8,97.6 259.4,95.2 260,96.9 260.6,100 261.2,96 261.8,95.7 262.4,95 263,93.9" fill="none" stroke="#ffc000" stroke-width="1.25" stroke-linejoin="round"/>
<polyline points="44,106.7 44.6,105.8 45.2,105.6 45.8,106.3 46.4,106.4 47,104.1 47.6,105 48.2,104.5 48.8,104.1 49.4,103.9 50,103.3 50.6,104 51.2,103.1 51.8,102.7 52.4,103 53,102.5 53.6,102 54.2,101.8 54.8,102.9 55.4,102.4 56,102.3 56.6,102.1 57.2,102.6 57.8,102.5 58.4,103.4 59,103.7 59.6,102.6 60.2,104.1 60.8,104.6 61.4,104.4 62,103.9 62.6,105.3 63.2,104.3 63.8,104.1 64.4,104.3 65,105.1 65.6,105.8 66.2,106.1 66.8,105.6 67.4,104.9 68,105.4 68.6,105.4 69.2,105.9 69.8,105.1 70.4,106.4 71,106.8 71.6,106.5 72.2,107 72.8,106.3 73.4,106.1 74,106.7 74.6,107.9 75.2,108 75.8,107.2 76.4,108.3 77,107.5 77.6,108.8 78.2,108.3 78.8,107.9 79.4,108.7 80,107.9 80.6,108 81.2,107.8 81.8,109 82.4,108.9 83,109 83.6,108.9 84.2,110.2 84.8,109.2 85.4,109.1 86,110.3 86.6,110.4 87.2,109.9 87.8,108.9 88.4,109.5 89,110.1 89.6,109.9 90.2,110.4 90.8,109.6 91.4,110.2 92,109.9 92.6,110.4 93.2,110.1 93.8,110.4 94.4,110.1 95,110 95.6,110.1 96.2,110.3 96.8,110.2 97.4,110.8 98,110.8 98.6,110.7 99.2,110.4 99.8,110.7 100.4,110.6 101,111.1 101.6,110.9 102.2,111 102.8,110.9 103.4,110.6 104,110.9 104.6,110.9 105.2,111.2 105.8,111.2 106.4,110 107,108.5 107.6,107.4 108.2,105.3 108.8,104.4 109.4,105 110,105.3 110.6,105.8 111.2,106.4 111.8,106.1 112.4,104.4 113,103.9 113.6,102.9 114.2,101.9 114.8,101 115.4,100 116,99.3 116.6,99.8 117.2,100.7 117.8,101.6 118.4,102.4 119,102.8 119.6,103.2 120.2,103.2 120.8,103.4 121.4,103.5 122,103.5 122.6,103.7 123.2,103.9 123.8,104.3 124.4,104.3 125,104.4 125.6,104.9 126.2,105.1 126.8,104.7 127.4,105.9 128,105.6 128.6,105.7 129.2,106.4 129.8,104.3 130.4,100.4 131,99.4 131.6,97.3 132.2,97.4 132.8,97.6 133.4,96 134,96.2 134.6,96.1 135.2,96.9 135.8,95.1 136.4,95.7 137,96.2 137.6,96 138.2,95.3 138.8,96.4 139.4,96.3 140,96.6 140.6,97.2 141.2,97.2 141.8,96.9 142.4,97 143,96.3 143.6,96.9 144.2,97.3 144.8,97 145.4,97.4 146,97 146.6,98.5 147.2,98.5 147.8,96.5 148.4,96.4 149,95.5 149.6,95.8 150.2,94.8 150.8,94 151.4,93.3 152,93 152.6,91.8 153.2,92.2 153.8,90.9 154.4,91.1 155,90.4 155.6,90.5 156.2,89.4 156.8,89.6 157.4,87.9 158,88.4 158.6,87.4 159.2,87.2 159.8,86.7 160.4,86.7 161,85.2 161.6,87.1 162.2,86.6 162.8,88.7 163.4,87.4 164,88.5 164.6,88.6 165.2,91 165.8,89.3 166.4,90.2 167,89.9 167.6,89.2 168.2,90.1 168.8,90.7 169.4,90.3 170,91 170.6,90.3 171.2,90.6 171.8,90.4 172.4,90.9 173,91.9 173.6,91 174.2,91 174.8,90.5 175.4,90.5 176,91.9 176.6,90.4 177.2,90.5 177.8,91.1 178.4,90.9 179,92.4 179.6,89.8 180.2,91.5 180.8,91.8 181.4,90.7 182,91 182.6,91.7 183.2,92.5 183.8,91 184.4,90.7 185,92.2 185.6,92.6 186.2,91.5 186.8,90.4 187.4,92.7 188,91.7 188.6,92.6 189.2,91.9 189.8,91.8 190.4,91.6 191,92.7 191.6,92.5 192.2,90.3 192.8,90.9 193.4,92.4 194,91 194.6,90.3 195.2,91 195.8,90.8 196.4,90.7 197,90.3 197.6,90.3 198.2,90.1 198.8,90.4 199.4,89.7 200,89.9" fill="none" stroke="#ffd966" stroke-width="1.12" stroke-linejoin="round"/>
<polyline points="44,107.9 44.6,108.8 45.2,108.3 45.8,108 46.4,108.5 47,108.4 47.6,108.9 48.2,108.6 48.8,109.4 49.4,109.1 50,108.4 50.6,108.2 51.2,109 51.8,108.8 52.4,108.5 53,107.7 53.6,107.5 54.2,108.8 54.8,109.1 55.4,109.2 56,108 56.6,109.4 57.2,108.5 57.8,109.1 58.4,109.2 59,108.5 59.6,108.6 60.2,107.8 60.8,108.5 61.4,107.9 62,109.3 62.6,109.1 63.2,109.6 63.8,109.3 64.4,108.7 65,109.3 65.6,108.9 66.2,109.5 66.8,109.3 67.4,108.6 68,109.2 68.6,109.2 69.2,109 69.8,109.7 70.4,110.2 71,109 71.6,109 72.2,107.9 72.8,109.2 73.4,109 74,108 74.6,109.5 75.2,109.7 75.8,108.9 76.4,109.1 77,108.8 77.6,109.8 78.2,108.5 78.8,109.2 79.4,110.6 80,109.4 80.6,109.7 81.2,109.3 81.8,108.7 82.4,109.4 83,109.7 83.6,108.9 84.2,109.7 84.8,110.2 85.4,110.2 86,108.6 86.6,109.1 87.2,108.8 87.8,110.3 88.4,110.1 89,110.1 89.6,109.6 90.2,109.6 90.8,110 91.4,110.1 92,109.9 92.6,110.2 93.2,110.4 93.8,110.3 94.4,110.1 95,109.9 95.6,110.4 96.2,110.5 96.8,110.5 97.4,110.5 98,110.5 98.6,110.8 99.2,110.7 99.8,110.8 100.4,110.6 101,110.8 101.6,111 102.2,110.8 102.8,110.8 103.4,111 104,111.4 104.6,111.2 105.2,111.6 105.8,111.3 106.4,111.3 107,111 107.6,111 108.2,111.2 108.8,110.8 109.4,110.7 110,110.4 110.6,110.1 111.2,109.8 111.8,109.7 112.4,109.6 113,109.5 113.6,109.4 114.2,109.3 114.8,109 115.4,109 116,108.8 116.6,109.1 117.2,108.4 117.8,108.7 118.4,109.1 119,108.5 119.6,108.2 120.2,108.4 120.8,108.6 121.4,108.2 122,108.5 122.6,108.7 123.2,108.8 123.8,109.7 124.4,109.3 125,109.4 125.6,109.6 126.2,110 126.8,110.3 127.4,110.6 128,110.4 128.6,109.4 129.2,109.8 129.8,109 130.4,108.7 131,107.6 131.6,107.7 132.2,107.2 132.8,107.3 133.4,106 134,106.6 134.6,106.2 135.2,105.1 135.8,105 136.4,104.5 137,105.2 137.6,102.7 138.2,103.7 138.8,102.7 139.4,103.2 140,103.7 140.6,102.6 141.2,102.8 141.8,102 142.4,103.4 143,102.5 143.6,102.4 144.2,100.7 144.8,100.6 145.4,101.7 146,100.7 146.6,100.4 147.2,100.5 147.8,99.3 148.4,100.3 149,99.6 149.6,99.6 150.2,98.7 150.8,99.2 151.4,98.2 152,99 152.6,98.8 153.2,98.5 153.8,98 154.4,97.8 155,95.6 155.6,97.5 156.2,96.6 156.8,96.5 157.4,96.1 158,95.2 158.6,95.6 159.2,96.3 159.8,96.8 160.4,95.5 161,95.3 161.6,96.7 162.2,95.2 162.8,97 163.4,95.7 164,95.1 164.6,96.2 165.2,96.6 165.8,94.7 166.4,96.5 167,95.3 167.6,96.4 168.2,95.2 168.8,94.5 169.4,95.7 170,95.9 170.6,96.6 171.2,96.3 171.8,95.7 172.4,95.1 173,94.9 173.6,95 174.2,94.6 174.8,94.9 175.4,93.5 176,95.1 176.6,95 177.2,96.5 177.8,95.5 178.4,94.7 179,95.3 179.6,94.3 180.2,94.6 180.8,93.9 181.4,95.9 182,95.4 182.6,94.3 183.2,95 183.8,95.6 184.4,95.3 185,95.2 185.6,94.5 186.2,94.6 186.8,95.1 187.4,95.6 188,94.5 188.6,94.3 189.2,95.7 189.8,94.4 190.4,95.6 191,94.9 191.6,95.2 192.2,95.6 192.8,94.9 193.4,94.8 194,93.6 194.6,93.7 195.2,94.3 195.8,94.8 196.4,94.6 197,95 197.6,93.7 198.2,93.5 198.8,93.8 199.4,93.1 200,93" fill="none" stroke="#ffd34d" stroke-width="1.0" stroke-linejoin="round"/>
<polyline points="85,112.6 85.6,113.8 86.2,112.6 86.8,113.6 87.4,112.6 88,113.9 88.6,113 89.2,113.8 89.8,112.9 90.4,113.4 91,113.9 91.6,113.4 92.2,113.6 92.8,113.6 93.4,113.2 94,113.8 94.6,113.9 95.2,113.6 95.8,114 96.4,113.7 97,113.7 97.6,114 98.2,113.8 98.8,114.5 99.4,113.7 100,114.2 100.6,114.3 101.2,113.8 101.8,113.8 102.4,114.4 103,114.2 103.6,114.4 104.2,114.6 104.8,114.3 105.4,114.2 106,113.9 106.6,114.5 107.2,114.1 107.8,114.2 108.4,113.9 109,113.3 109.6,113.7 110.2,113.4 110.8,113.1 111.4,112.4 112,112.3 112.6,112.2 113.2,112.1 113.8,111.9 114.4,112.2 115,112.1 115.6,112.1 116.2,111.8 116.8,112.1 117.4,111.8 118,111.2 118.6,111.5 119.2,111.6 119.8,111.8 120.4,111.4 121,111.4 121.6,111.3 122.2,111.7 122.8,111.6 123.4,111.7 124,111.8 124.6,112.2 125.2,112.1 125.8,112 126.4,112.6 127,112.4 127.6,112.8" fill="none" stroke="#ffd966" stroke-width="1.12" stroke-linejoin="round"/>
<polyline points="135,104.2 135.6,104.5 136.2,104.3 136.8,103.1 137.4,103.2 138,102.3 138.6,103.9 139.2,103 139.8,103.4 140.4,102.2 141,101 141.6,103 142.2,101.9 142.8,101.8 143.4,101.6 144,101.7 144.6,101.5 145.2,100 145.8,101.5 146.4,100.3 147,100.2 147.6,101.3 148.2,100.7 148.8,99.7 149.4,98.6 150,99.7 150.6,99.7 151.2,99.2 151.8,98.3 152.4,98.4 153,97.9 153.6,98.6 154.2,98.8 154.8,98.5 155.4,97.1 156,97.4 156.6,97.2 157.2,96.2 157.8,96.1 158.4,97.1 159,95.6 159.6,95.6 160.2,94.5 160.8,94.4 161.4,93 162,93.9 162.6,94.6 163.2,95.1 163.8,94.5 164.4,94.1 165,93.7 165.6,93.2 166.2,93.4 166.8,93.8 167.4,92.9 168,93.9 168.6,92.7 169.2,92.1 169.8,92.5 170.4,92.1 171,92.2 171.6,93.6 172.2,92.8 172.8,93 173.4,93.5 174,93.5 174.6,92.3 175.2,93.4 175.8,92.8 176.4,92.5 177,92.8 177.6,91.7 178.2,92.1 178.8,92.6 179.4,93.1 180,92.5 180.6,92.7 181.2,93.4 181.8,93.7 182.4,93.3 183,93.6 183.6,92.7 184.2,92.8 184.8,93.2 185.4,92.8 186,92.7 186.6,94.1 187.2,93 187.8,92.6 188.4,93.5 189,94.3 189.6,93.3 190.2,94 190.8,93.2 191.4,93.4 192,93.5 192.6,94.1 193.2,95.5 193.8,93.9 194.4,95.9 195,94.5 195.6,95.2 196.2,96.1 196.8,96.2 197.4,96.2 198,95.5 198.6,97.2 199.2,96.9 199.8,99.3 200.4,98.4 201,99.1 201.6,91.4 202.2,86.9 202.8,87 203.4,87.6 204,87.6 204.6,87.9 205.2,87.9 205.8,88.1 206.4,88.5 207,88.4 207.6,88.5 208.2,89 208.8,88.9 209.4,89.2 210,89.6 210.6,89.5 211.2,90 211.8,89.9 212.4,90.4 213,90.6 213.6,90.5 214.2,90.7 214.8,90.8 215.4,91.1 216,91.3 216.6,90.9 217.2,91.3 217.8,91.1 218.4,91.2 219,91.1 219.6,91.8 220.2,91.5 220.8,91.6 221.4,91.5 222,91.8 222.6,91.4 223.2,91.8 223.8,92.2 224.4,91.8 225,92 225.6,92.1 226.2,91.9 226.8,92.1 227.4,92.3 228,92.3 228.6,92.4 229.2,92.3 229.8,92.5 230.4,92.5 231,92.7 231.6,92.7 232.2,92.6 232.8,92.3 233.4,92.9 234,92.9 234.6,92.6 235.2,92.1 235.8,92.3 236.4,93.6 237,92 237.6,92.4 238.2,93.1 238.8,94.1 239.4,92.7 240,92.6 240.6,92.1 241.2,94.4 241.8,93.7 242.4,92.4 243,91 243.6,91.6 244.2,93 244.8,91.6 245.4,93.3 246,92.7 246.6,92.6 247.2,92.9 247.8,92.7 248.4,91.2 249,91.7 249.6,94.6 250.2,90.7 250.8,91.4 251.4,92.9 252,91.5 252.6,90.7 253.2,90.1 253.8,92 254.4,92.4 255,92.7 255.6,91.2 256.2,92.2 256.8,89.8 257.4,91 258,90 258.6,90.9 259.2,91.4 259.8,91.6 260.4,89.3 261,91.7 261.6,89.7 262.2,89 262.8,89.8" fill="none" stroke="#5b9bd5" stroke-width="1.06" stroke-linejoin="round"/>
<polyline points="140,102.1 140.6,102.7 141.2,102.7 141.8,102.1 142.4,102.3 143,101.5 143.6,101.5 144.2,100.3 144.8,101 145.4,100.2 146,100.2 146.6,100.1 147.2,100 147.8,98.7 148.4,98.5 149,99 149.6,99.2 150.2,98.8 150.8,98.9 151.4,98.9 152,98.2 152.6,97.6 153.2,96.7 153.8,96.5 154.4,96.6 155,96.8 155.6,96.6 156.2,96.2 156.8,95.9 157.4,96.1 158,95.7 158.6,95.5 159.2,95.3 159.8,94.6 160.4,94.1 161,94.7 161.6,94.5 162.2,93.9 162.8,93.6 163.4,94.9 164,92.9 164.6,93 165.2,93.1 165.8,92.2 166.4,92.9 167,93.8 167.6,93.2 168.2,93 168.8,92.8 169.4,92.5 170,92.9 170.6,92.2 171.2,91.9 171.8,92.2 172.4,92.6 173,92.1 173.6,92.3 174.2,90.6 174.8,92.4 175.4,93 176,92.3 176.6,91.3 177.2,90.9 177.8,91.5 178.4,90.6 179,91.6 179.6,90.7 180.2,91.6 180.8,91.9 181.4,89.9 182,91.3 182.6,90.8 183.2,90.4 183.8,90.9 184.4,91.2 185,92 185.6,90.5 186.2,92 186.8,92.7 187.4,91.9 188,91.9 188.6,91.6 189.2,90.9 189.8,92 190.4,91.9 191,92.2 191.6,93.3 192.2,92.3 192.8,92.1 193.4,92.8 194,91.1 194.6,91.3 195.2,91.8 195.8,91.6 196.4,92.4 197,91.8 197.6,93 198.2,92.9 198.8,92.5 199.4,91.8 200,92.3 200.6,92.3 201.2,89.3 201.8,82.7 202.4,80.7 203,81 203.6,81.6 204.2,81.9 204.8,82 205.4,82.6 206,82.8 206.6,83.4 207.2,83.6 207.8,84.3 208.4,84.6 209,85.1 209.6,85.3 210.2,85.5 210.8,86.4 211.4,86.5 212,87.1 212.6,87.4 213.2,87.8 213.8,88.4 214.4,88.6 215,89.1 215.6,88.8 216.2,89.2 216.8,89.1 217.4,89.2 218,89.3 218.6,89.4 219.2,89.7 219.8,89.2 220.4,89.6 221,89.5 221.6,89.9 222.2,89.7 222.8,89.9 223.4,89.9 224,90.1 224.6,90.2 225.2,90.1 225.8,90.2 226.4,90.1 227,90.4 227.6,90.6 228.2,90.5 228.8,90.8 229.4,90.4 230,90.5 230.6,90.6 231.2,90.8 231.8,91 232.4,91 233,91.1 233.6,91.3 234.2,91.2 234.8,90.9 235.4,90.8 236,92.8 236.6,89.7 237.2,91.2 237.8,92.8 238.4,91.8 239,90.3 239.6,91.1 240.2,92 240.8,92.3 241.4,90 242,91.7 242.6,91.1 243.2,91.9 243.8,92.2 244.4,90.2 245,89 245.6,90.9 246.2,92.3 246.8,91.1 247.4,90.5 248,92.8 248.6,89 249.2,91.1 249.8,89.4 250.4,90 251,89.9 251.6,91.4 252.2,88.7 252.8,89 253.4,87.8 254,89.9 254.6,88.8 255.2,89.7 255.8,87.9 256.4,88.6 257,90 257.6,88.6 258.2,89.4 258.8,89.2 259.4,88.2 260,86.8 260.6,89.4 261.2,88.5 261.8,89.2 262.4,85.9 263,86.2" fill="none" stroke="#4472c4" stroke-width="1.12" stroke-linejoin="round"/>
<polyline points="201,94.2 201.6,90.5 202.2,88.3 202.8,88.4 203.4,88.5 204,88.8 204.6,89.1 205.2,89.1 205.8,89.5 206.4,89.6 207,89.5 207.6,90 208.2,90.5 208.8,90.5 209.4,90.7 210,90.9 210.6,91.1 211.2,91.6 211.8,91.6 212.4,91.7 213,91.6 213.6,92.2 214.2,92.2 214.8,92.5 215.4,93 216,93 216.6,92.6 217.2,93.1 217.8,93.1 218.4,93 219,93.2 219.6,92.9 220.2,93 220.8,93.1 221.4,93.2 222,93.5 222.6,93.2 223.2,93.3 223.8,93.4 224.4,93.6 225,93.6 225.6,93.8 226.2,93.6 226.8,93.6 227.4,93.7 228,93.9 228.6,93.8 229.2,94 229.8,94.3 230.4,94 231,94.1 231.6,94.3 232.2,94.1 232.8,94.1 233.4,94.1 234,94.4 234.6,94.5 235.2,94.4 235.8,94.5 236.4,95.3 237,95.1 237.6,92.9 238.2,94.2 238.8,94.3 239.4,94.9 240,93.8 240.6,93.3 241.2,93.4 241.8,91.9 242.4,93.8 243,93.1 243.6,94.2 244.2,92.5 244.8,93.1 245.4,92.4 246,92.2 246.6,94.1 247.2,92.8 247.8,93.7 248.4,91.9 249,93.2 249.6,91.2 250.2,92.4 250.8,92.2 251.4,93.3 252,92.7 252.6,92.2 253.2,93.1 253.8,92.3 254.4,92.5 255,92.6 255.6,91.6 256.2,91.2 256.8,91.7 257.4,90.8 258,91.5 258.6,92.2 259.2,91.8 259.8,90.3 260.4,89.2 261,90.4 261.6,90.1 262.2,91.3 262.8,89.6" fill="none" stroke="#8faadc" stroke-width="1.0" stroke-linejoin="round"/>
<polyline points="44,103.8 44.6,104.5 45.2,103.8 45.8,104 46.4,105.1 47,105.1 47.6,104.6 48.2,104.4 48.8,103.7 49.4,104.6 50,104.4 50.6,104.5 51.2,104.1 51.8,104.5 52.4,104.4 53,104.7 53.6,105.4 54.2,104.8 54.8,103.7 55.4,104.1 56,103.8 56.6,104.3 57.2,105.1 57.8,105.1 58.4,104.5 59,105.1 59.6,104.5 60.2,104.1 60.8,104.2 61.4,104.6 62,106 62.6,104.4 63.2,105.9 63.8,106 64.4,105.2 65,105.3 65.6,105 66.2,105.4 66.8,105.9 67.4,105.5 68,106.1 68.6,106.3 69.2,105.8 69.8,105.9 70.4,105.7 71,106 71.6,105.1 72.2,106.1 72.8,106 73.4,105.4 74,107.3 74.6,105.4 75.2,105.5 75.8,106.3 76.4,105 77,105.7 77.6,105.3 78.2,105.7 78.8,106.2 79.4,106.6 80,107.1 80.6,106.9 81.2,107.2 81.8,106.9 82.4,106.3 83,107.3 83.6,106.4 84.2,106.3 84.8,107.7 85.4,107.3 86,107 86.6,107.3 87.2,107.4 87.8,106.3 88.4,107 89,106.6 89.6,107.2 90.2,107 90.8,107.7 91.4,107.4 92,107.2 92.6,107.4 93.2,107.2 93.8,107.5 94.4,107.7 95,107.7 95.6,107.3 96.2,107.6 96.8,107.9 97.4,107.9 98,108.1 98.6,107.6 99.2,108.1 99.8,107.9 100.4,108.1 101,108.2 101.6,108.3 102.2,108.1 102.8,108.3 103.4,108.1 104,108.1 104.6,108.5 105.2,108.4 105.8,108.2 106.4,108.4 107,108.4 107.6,108.3 108.2,107.7 108.8,107.1 109.4,106.1 110,106.1 110.6,105.9 111.2,105.6 111.8,105.3 112.4,104.9 113,105 113.6,104.6 114.2,104 114.8,103.5 115.4,103.9 116,103.3 116.6,103.5 117.2,103.5 117.8,102.8 118.4,103 119,102.7 119.6,102.8 120.2,102.9 120.8,103.4 121.4,103.2 122,103.2 122.6,103.5 123.2,103.4 123.8,103.5 124.4,104.1 125,103.6 125.6,103.8 126.2,104.1 126.8,104 127.4,103.9 128,105.1 128.6,104.7 129.2,104.4 129.8,104.1 130.4,103.4 131,103 131.6,103.3 132.2,104.3 132.8,102.9 133.4,102.6 134,101 134.6,101.6 135.2,100.7 135.8,101.6 136.4,100.8 137,100.8 137.6,100.5 138.2,99.9 138.8,99.2 139.4,100.2 140,98.8 140.6,98.7 141.2,99 141.8,98.5 142.4,98.9 143,99.1 143.6,98.4 144.2,98.2 144.8,97.9 145.4,98.1 146,96.3 146.6,97.4 147.2,96.4 147.8,96 148.4,96.5 149,96 149.6,96.4 150.2,96.5 150.8,94.2 151.4,95.3 152,96.2 152.6,95.3 153.2,95.3 153.8,94.2 154.4,93 155,92.9 155.6,93.7 156.2,93.5 156.8,92.2 157.4,92.2 158,92.2 158.6,90.7 159.2,91.4 159.8,92.4 160.4,92.6 161,91.1 161.6,92.1 162.2,90.5 162.8,90.2 163.4,89.2 164,91 164.6,90 165.2,91.5 165.8,90.1 166.4,89.9 167,88.5 167.6,90.4 168.2,89.1 168.8,89.1 169.4,87.7 170,89.4 170.6,89.5 171.2,88.6 171.8,89 172.4,89.2 173,89.6 173.6,89.1 174.2,90.1 174.8,89 175.4,88.8 176,88.9 176.6,87.7 177.2,88.8 177.8,89.9 178.4,89.5 179,88.9 179.6,89.6 180.2,88.2 180.8,89.3 181.4,89.8 182,89.9 182.6,89.1 183.2,90.1 183.8,90.8 184.4,89.5 185,90.3 185.6,89 186.2,88.9 186.8,90.5 187.4,90.3 188,90.5 188.6,90.1 189.2,90.4 189.8,91.2 190.4,91.8 191,90.7 191.6,90 192.2,91.8 192.8,91.5 193.4,91.7 194,91.5 194.6,92.9 195.2,91.6 195.8,92 196.4,90.5 197,90.6 197.6,89.8 198.2,89.5 198.8,89 199.4,87.7 200,88.2 200.6,86.2 201.2,85.8 201.8,85.3 202.4,84.9 203,85.4 203.6,85.6 204.2,85.7 204.8,86.2 205.4,86.2 206,86.4 206.6,86.4 207.2,86.5 207.8,86.9 208.4,87.2 209,87.3 209.6,87.7 210.2,87.5 210.8,87.9 211.4,88 212,88.7 212.6,88.6 213.2,88.8 213.8,88.9 214.4,89.4 215,89.4 215.6,89.6 216.2,89.3 216.8,89.9 217.4,89.8 218,89.9 218.6,90.1 219.2,90 219.8,90 220.4,90.2 221,90.3 221.6,90.2 222.2,90.4 222.8,90.3 223.4,90.6 224,90.7 224.6,90.6 225.2,91 225.8,90.5 226.4,90.8 227,91.2 227.6,90.9 228.2,90.8 228.8,91.3 229.4,91.3 230,91.1 230.6,91.5 231.2,91.3 231.8,91.3 232.4,91.5 233,91.6 233.6,91.5 234.2,91.7 234.8,91.5 235.4,91.9 236,92 236.6,92.6 237.2,91.6 237.8,90.7 238.4,90.7 239,91.9 239.6,93.9 240.2,93.2 240.8,91.6 241.4,93.4 242,91.1 242.6,93.5 243.2,92 243.8,93.3 244.4,93.2 245,92.3 245.6,93 246.2,91.5 246.8,92.6 247.4,93.9 248,97.2 248.6,93.6 249.2,93 249.8,91.8 250.4,94 251,91 251.6,91.8 252.2,93 252.8,91.2 253.4,94.1 254,93.5 254.6,91.6 255.2,91.5 255.8,90.6 256.4,90.4 257,92.4 257.6,92.5 258.2,92.1 258.8,91.9 259.4,90.9 260,91.8 260.6,89.7 261.2,91.2 261.8,92.7 262.4,92.5 263,90.4" fill="none" stroke="#6fbf4a" stroke-width="1.19" stroke-linejoin="round"/>
<polyline points="44,102.8 44.6,103.8 45.2,104.1 45.8,102.2 46.4,102.9 47,103.3 47.6,103.9 48.2,102.7 48.8,103.7 49.4,103.1 50,104.8 50.6,103.6 51.2,103.3 51.8,103.3 52.4,104.1 53,103.9 53.6,102.9 54.2,103.7 54.8,102.8 55.4,103.2 56,102.9 56.6,103 57.2,103.4 57.8,103.2 58.4,104.2 59,104.4 59.6,103.8 60.2,103.3 60.8,104.5 61.4,102.9 62,103 62.6,104.7 63.2,104.7 63.8,105 64.4,104.3 65,103.8 65.6,104.3 66.2,105 66.8,104.3 67.4,104.4 68,104 68.6,104.2 69.2,105.5 69.8,105.3 70.4,104.4 71,104.6 71.6,104.9 72.2,105.7 72.8,104.7 73.4,105.4 74,104.2 74.6,104.9 75.2,105.9 75.8,106.3 76.4,105.1 77,105.4 77.6,106.4 78.2,105.8 78.8,105.8 79.4,106.5 80,106.3 80.6,107 81.2,106.8 81.8,106.1 82.4,106.4 83,106.5 83.6,105.8 84.2,106.1 84.8,107.3 85.4,105.9 86,107.5 86.6,107.1 87.2,106.9 87.8,107.3 88.4,107.3 89,107.6 89.6,107 90.2,107.1 90.8,107.2 91.4,107.8 92,107.6 92.6,107.2 93.2,107.4 93.8,107.4 94.4,107.6 95,107.7 95.6,108.1 96.2,107.3 96.8,108 97.4,107.9 98,107.7 98.6,107.9 99.2,107.9 99.8,108 100.4,108.3 101,107.8 101.6,108.4 102.2,108.1 102.8,108.6 103.4,108.4 104,108.6 104.6,108.5 105.2,108.7 105.8,108.5 106.4,108.4 107,108.6 107.6,108.1 108.2,107.9 108.8,106.5 109.4,106.4 110,106.4 110.6,105.6 111.2,105.5 111.8,105.7 112.4,105.2 113,104.4 113.6,104.6 114.2,104.2 114.8,103.9 115.4,103.6 116,103.4 116.6,103.1 117.2,103 117.8,103.2 118.4,102.9 119,103.2 119.6,102.6 120.2,102.3 120.8,102.9 121.4,103.1 122,103.3 122.6,103.3 123.2,103.3 123.8,103.9 124.4,103.5 125,103.9 125.6,103.9 126.2,103.6 126.8,104.1 127.4,102.7 128,102.9 128.6,103.1 129.2,102.6 129.8,102.9 130.4,102.2 131,101.8 131.6,103 132.2,101.4 132.8,101.2 133.4,100.5 134,100.4 134.6,101.1 135.2,100.8 135.8,100.3 136.4,99.6 137,100.3 137.6,98.6 138.2,99.2 138.8,99.1 139.4,98.5 140,98.9 140.6,98.2 141.2,97.9 141.8,99.3 142.4,98.4 143,98.5 143.6,97.6 144.2,97.9 144.8,97.6 145.4,97.7 146,98.1 146.6,96.4 147.2,96.5 147.8,96.1 148.4,93.8 149,94.8 149.6,95.5 150.2,95.7 150.8,94.7 151.4,95.6 152,95.5 152.6,94.2 153.2,95.2 153.8,95.2 154.4,94.2 155,93.1 155.6,94.4 156.2,93.3 156.8,92.9 157.4,93 158,92.5 158.6,93.2 159.2,92.9 159.8,93 160.4,92.4 161,91.4 161.6,91.6 162.2,92 162.8,91 163.4,92.8 164,90.7 164.6,90.4 165.2,91.2 165.8,90.8 166.4,90.1 167,89.8 167.6,90 168.2,90.1 168.8,89.8 169.4,89 170,89.3 170.6,89.6 171.2,89.6 171.8,87.3 172.4,88.7 173,88.8 173.6,89.1 174.2,89.4 174.8,89.9 175.4,89.8 176,89.4 176.6,89.5 177.2,90.6 177.8,89.2 178.4,89.8 179,90.6 179.6,89.9 180.2,88.6 180.8,90.1 181.4,89.6 182,89.9 182.6,90.6 183.2,90.3 183.8,89.9 184.4,90.6 185,90.4 185.6,90.3 186.2,90.4 186.8,90.4 187.4,90.1 188,90.1 188.6,90.4 189.2,89.9 189.8,89.8 190.4,91.3 191,90.5 191.6,90.6 192.2,90.6 192.8,90.8 193.4,90.8 194,90.9 194.6,90.4 195.2,91.5 195.8,90.6 196.4,91.2 197,88.8 197.6,88.8 198.2,89.4 198.8,88.1 199.4,87.2 200,87.2 200.6,86 201.2,85.8 201.8,84.6 202.4,85 203,85.2 203.6,85.6 204.2,85.9 204.8,85.8 205.4,86.4 206,86.3 206.6,86.3 207.2,86.4 207.8,87.2 208.4,87.2 209,87.3 209.6,87.5 210.2,87.7 210.8,88.2 211.4,88.2 212,88.7 212.6,88.6 213.2,88.5 213.8,89.2 214.4,89.2 215,89.5 215.6,89.8 216.2,89.6 216.8,89.9 217.4,89.8 218,89.7 218.6,90 219.2,89.9 219.8,90.3 220.4,90.3 221,90.2 221.6,90.4 222.2,90.4 222.8,90.4 223.4,90.6 224,90.5 224.6,90.7 225.2,90.6 225.8,90.8 226.4,90.9 227,90.8 227.6,90.9 228.2,91 228.8,91.3 229.4,91.1 230,91.4 230.6,91.6 231.2,91.5 231.8,91.3 232.4,91.6 233,91.8 233.6,91.7 234.2,92 234.8,92.1 235.4,92.1 236,91.8 236.6,91.6 237.2,91.8 237.8,92.1 238.4,92.6 239,92.5 239.6,91.7 240.2,92.1 240.8,92.4 241.4,90.3 242,91.2 242.6,91.1 243.2,91.8 243.8,91.7 244.4,91.7 245,91.1 245.6,92.7 246.2,92.3 246.8,90.2 247.4,92 248,90.8 248.6,93.9 249.2,91.5 249.8,91.6 250.4,92.1 251,91.8 251.6,92 252.2,93.7 252.8,92.3 253.4,92.9 254,93.2 254.6,91 255.2,93.8 255.8,92.8 256.4,93.1 257,91.1 257.6,92.9 258.2,92.5 258.8,91.4 259.4,94.5 260,92.6 260.6,91.8 261.2,92.2 261.8,93 262.4,93.2 263,92.6" fill="none" stroke="#a9d18e" stroke-width="1.0" stroke-linejoin="round"/>
<line x1="131.7" y1="101.1" x2="131.7" y2="107.4" stroke="#548235" stroke-width="0.9"/>
<line x1="133.4" y1="99.1" x2="133.4" y2="107" stroke="#5fa83a" stroke-width="0.9"/>
<line x1="135.4" y1="99.2" x2="135.4" y2="106" stroke="#2e7a2a" stroke-width="0.9"/>
<line x1="136.2" y1="98" x2="136.2" y2="102.9" stroke="#a9d18e" stroke-width="0.9"/>
<line x1="136.9" y1="97.7" x2="136.9" y2="105.1" stroke="#5fa83a" stroke-width="0.9"/>
<line x1="137.8" y1="98.6" x2="137.8" y2="105.7" stroke="#5fa83a" stroke-width="0.9"/>
<line x1="138.8" y1="97.9" x2="138.8" y2="104.4" stroke="#70ad47" stroke-width="0.9"/>
<line x1="139.3" y1="98.3" x2="139.3" y2="106.2" stroke="#5fa83a" stroke-width="0.9"/>
<line x1="141.4" y1="96.7" x2="141.4" y2="100.5" stroke="#5fa83a" stroke-width="0.9"/>
<line x1="142.4" y1="97.5" x2="142.4" y2="104.1" stroke="#5fa83a" stroke-width="0.9"/>
<line x1="144" y1="96" x2="144" y2="103" stroke="#70ad47" stroke-width="0.9"/>
<line x1="144.8" y1="95.5" x2="144.8" y2="104.3" stroke="#548235" stroke-width="0.9"/>
<line x1="145.9" y1="95.7" x2="145.9" y2="103.7" stroke="#70ad47" stroke-width="0.9"/>
<line x1="147" y1="98.2" x2="147" y2="103.6" stroke="#548235" stroke-width="0.9"/>
<line x1="147.8" y1="93.8" x2="147.8" y2="103.9" stroke="#548235" stroke-width="0.9"/>
<line x1="148.3" y1="93.1" x2="148.3" y2="101.7" stroke="#2e7a2a" stroke-width="0.9"/>
<line x1="149.9" y1="94.4" x2="149.9" y2="102.6" stroke="#5fa83a" stroke-width="0.9"/>
<line x1="152.3" y1="93.4" x2="152.3" y2="98.4" stroke="#70ad47" stroke-width="0.9"/>
<line x1="153.3" y1="93.3" x2="153.3" y2="101" stroke="#70ad47" stroke-width="0.9"/>
<line x1="153.9" y1="94.7" x2="153.9" y2="101.3" stroke="#5fa83a" stroke-width="0.9"/>
<line x1="154.4" y1="95.2" x2="154.4" y2="99.5" stroke="#5fa83a" stroke-width="0.9"/>
<line x1="155.4" y1="91.5" x2="155.4" y2="102.6" stroke="#70ad47" stroke-width="0.9"/>
<line x1="156" y1="93.5" x2="156" y2="99.4" stroke="#548235" stroke-width="0.9"/>
<line x1="156.6" y1="92.9" x2="156.6" y2="102.4" stroke="#5fa83a" stroke-width="0.9"/>
<line x1="158.4" y1="91.4" x2="158.4" y2="99.7" stroke="#a9d18e" stroke-width="0.9"/>
<line x1="159.1" y1="90.4" x2="159.1" y2="99.5" stroke="#70ad47" stroke-width="0.9"/>
<line x1="160.2" y1="89.4" x2="160.2" y2="101.3" stroke="#2e7a2a" stroke-width="0.9"/>
<line x1="160.8" y1="91.5" x2="160.8" y2="101.4" stroke="#548235" stroke-width="0.9"/>
<line x1="161.5" y1="91.1" x2="161.5" y2="101.4" stroke="#5fa83a" stroke-width="0.9"/>
<line x1="162.5" y1="90.2" x2="162.5" y2="98.1" stroke="#a9d18e" stroke-width="0.9"/>
<line x1="163.3" y1="89.6" x2="163.3" y2="98.8" stroke="#70ad47" stroke-width="0.9"/>
<line x1="166" y1="89.5" x2="166" y2="97.2" stroke="#2e7a2a" stroke-width="0.9"/>
<line x1="167.6" y1="88.3" x2="167.6" y2="97.4" stroke="#548235" stroke-width="0.9"/>
<line x1="168.5" y1="89.1" x2="168.5" y2="96.7" stroke="#5fa83a" stroke-width="0.9"/>
<line x1="169.4" y1="88.3" x2="169.4" y2="97.2" stroke="#a9d18e" stroke-width="0.9"/>
<line x1="170.6" y1="89" x2="170.6" y2="95.6" stroke="#2e7a2a" stroke-width="0.9"/>
<line x1="173.2" y1="87.3" x2="173.2" y2="99.6" stroke="#2e7a2a" stroke-width="0.9"/>
<line x1="174.1" y1="88.7" x2="174.1" y2="98.5" stroke="#5fa83a" stroke-width="0.9"/>
<line x1="174.6" y1="87.7" x2="174.6" y2="100" stroke="#548235" stroke-width="0.9"/>
<line x1="175.3" y1="88.2" x2="175.3" y2="91.8" stroke="#70ad47" stroke-width="0.9"/>
<line x1="176.4" y1="86.1" x2="176.4" y2="101.2" stroke="#a9d18e" stroke-width="0.9"/>
<line x1="177.4" y1="89.3" x2="177.4" y2="96.4" stroke="#a9d18e" stroke-width="0.9"/>
<line x1="178.3" y1="86.3" x2="178.3" y2="98.7" stroke="#5fa83a" stroke-width="0.9"/>
<line x1="179.7" y1="89.2" x2="179.7" y2="99.6" stroke="#70ad47" stroke-width="0.9"/>
<line x1="180.2" y1="89.2" x2="180.2" y2="97.8" stroke="#2e7a2a" stroke-width="0.9"/>
<line x1="181.8" y1="89.3" x2="181.8" y2="95.9" stroke="#5fa83a" stroke-width="0.9"/>
<line x1="182.5" y1="88.9" x2="182.5" y2="94.6" stroke="#70ad47" stroke-width="0.9"/>
<line x1="183.9" y1="89.5" x2="183.9" y2="100.1" stroke="#2e7a2a" stroke-width="0.9"/>
<line x1="184.6" y1="90.8" x2="184.6" y2="100.7" stroke="#2e7a2a" stroke-width="0.9"/>
<line x1="186.4" y1="88.6" x2="186.4" y2="100.5" stroke="#548235" stroke-width="0.9"/>
<line x1="187.5" y1="89.1" x2="187.5" y2="100.7" stroke="#2e7a2a" stroke-width="0.9"/>
<line x1="188" y1="87.7" x2="188" y2="97.5" stroke="#2e7a2a" stroke-width="0.9"/>
<line x1="189" y1="89.5" x2="189" y2="100.8" stroke="#a9d18e" stroke-width="0.9"/>
<line x1="190" y1="87.4" x2="190" y2="99.7" stroke="#5fa83a" stroke-width="0.9"/>
<line x1="190.9" y1="88.8" x2="190.9" y2="100.5" stroke="#5fa83a" stroke-width="0.9"/>
<line x1="191.7" y1="88.8" x2="191.7" y2="100.8" stroke="#2e7a2a" stroke-width="0.9"/>
<line x1="193.2" y1="89.8" x2="193.2" y2="101.3" stroke="#2e7a2a" stroke-width="0.9"/>
<line x1="193.7" y1="88.5" x2="193.7" y2="101.6" stroke="#2e7a2a" stroke-width="0.9"/>
<line x1="194.5" y1="89.7" x2="194.5" y2="100.3" stroke="#70ad47" stroke-width="0.9"/>
<line x1="195.8" y1="90" x2="195.8" y2="99.3" stroke="#548235" stroke-width="0.9"/>
<line x1="198.7" y1="88.1" x2="198.7" y2="99.9" stroke="#a9d18e" stroke-width="0.9"/>
<line x1="199.3" y1="87.9" x2="199.3" y2="97" stroke="#5fa83a" stroke-width="0.9"/>
<line x1="199.8" y1="86.6" x2="199.8" y2="94.1" stroke="#548235" stroke-width="0.9"/>
<line x1="238" y1="90.2" x2="238" y2="101.7" stroke="#2f5597" stroke-width="0.9"/>
<line x1="239.6" y1="88.6" x2="239.6" y2="103.6" stroke="#70ad47" stroke-width="0.9"/>
<line x1="240.6" y1="90.9" x2="240.6" y2="97.7" stroke="#2f5597" stroke-width="0.9"/>
<line x1="241.1" y1="89.2" x2="241.1" y2="102.7" stroke="#548235" stroke-width="0.9"/>
<line x1="241.7" y1="87.9" x2="241.7" y2="100.3" stroke="#70ad47" stroke-width="0.9"/>
<line x1="242.5" y1="89" x2="242.5" y2="99.2" stroke="#2f5597" stroke-width="0.9"/>
<line x1="243.4" y1="90.5" x2="243.4" y2="100.1" stroke="#548235" stroke-width="0.9"/>
<line x1="244.1" y1="88.6" x2="244.1" y2="101.4" stroke="#2e7a2a" stroke-width="0.9"/>
<line x1="244.9" y1="89" x2="244.9" y2="99.2" stroke="#9c7a24" stroke-width="0.9"/>
<line x1="245.7" y1="88.4" x2="245.7" y2="99.9" stroke="#548235" stroke-width="0.9"/>
<line x1="247.4" y1="88.6" x2="247.4" y2="100.8" stroke="#4472c4" stroke-width="0.9"/>
<line x1="248.8" y1="88" x2="248.8" y2="102.8" stroke="#2e7a2a" stroke-width="0.9"/>
<line x1="249.6" y1="88.8" x2="249.6" y2="101.5" stroke="#70ad47" stroke-width="0.9"/>
<line x1="251.1" y1="87.8" x2="251.1" y2="97.5" stroke="#2f5597" stroke-width="0.9"/>
<line x1="252.5" y1="88" x2="252.5" y2="101.8" stroke="#9c7a24" stroke-width="0.9"/>
<line x1="253" y1="88.3" x2="253" y2="102.6" stroke="#70ad47" stroke-width="0.9"/>
<line x1="254.4" y1="87.4" x2="254.4" y2="97.2" stroke="#9c7a24" stroke-width="0.9"/>
<line x1="255.4" y1="87.6" x2="255.4" y2="97" stroke="#4472c4" stroke-width="0.9"/>
<line x1="256" y1="88.4" x2="256" y2="96.3" stroke="#9c7a24" stroke-width="0.9"/>
<line x1="256.6" y1="87.2" x2="256.6" y2="97.8" stroke="#9c7a24" stroke-width="0.9"/>
<line x1="257.1" y1="85.6" x2="257.1" y2="100.7" stroke="#2e7a2a" stroke-width="0.9"/>
<line x1="258.7" y1="86.1" x2="258.7" y2="97.4" stroke="#2e7a2a" stroke-width="0.9"/>
<line x1="259.7" y1="89" x2="259.7" y2="95.3" stroke="#9c7a24" stroke-width="0.9"/>
<line x1="260.4" y1="86.7" x2="260.4" y2="102" stroke="#70ad47" stroke-width="0.9"/>
<line x1="262.1" y1="88.4" x2="262.1" y2="97" stroke="#2f5597" stroke-width="0.9"/>
<line x1="44" y1="101.2" x2="44" y2="110.7" stroke="#548235" stroke-width="0.8"/>
<line x1="47.3" y1="102.8" x2="47.3" y2="112.8" stroke="#2e6b1f" stroke-width="0.8"/>
<line x1="50.2" y1="102.3" x2="50.2" y2="113.1" stroke="#70ad47" stroke-width="0.8"/>
<line x1="51.2" y1="102.4" x2="51.2" y2="114.3" stroke="#2e6b1f" stroke-width="0.8"/>
<line x1="51.9" y1="103.3" x2="51.9" y2="112.4" stroke="#2e6b1f" stroke-width="0.8"/>
<line x1="52.9" y1="101.3" x2="52.9" y2="112.8" stroke="#2e6b1f" stroke-width="0.8"/>
<line x1="54.5" y1="104.2" x2="54.5" y2="109.8" stroke="#ffc000" stroke-width="0.8"/>
<line x1="55.6" y1="103.6" x2="55.6" y2="113.8" stroke="#70ad47" stroke-width="0.8"/>
<line x1="57.4" y1="100.8" x2="57.4" y2="112.3" stroke="#2e7a2a" stroke-width="0.8"/>
<line x1="58.5" y1="103.4" x2="58.5" y2="112.3" stroke="#5fa83a" stroke-width="0.8"/>
<line x1="60.6" y1="104.3" x2="60.6" y2="111.9" stroke="#2e7a2a" stroke-width="0.8"/>
<line x1="61.5" y1="104.3" x2="61.5" y2="110.8" stroke="#70ad47" stroke-width="0.8"/>
<line x1="63.1" y1="103.6" x2="63.1" y2="110.9" stroke="#548235" stroke-width="0.8"/>
<line x1="64.9" y1="103.7" x2="64.9" y2="111.8" stroke="#70ad47" stroke-width="0.8"/>
<line x1="65.4" y1="103.2" x2="65.4" y2="111.9" stroke="#2e7a2a" stroke-width="0.8"/>
<line x1="66.4" y1="104" x2="66.4" y2="111.9" stroke="#2e6b1f" stroke-width="0.8"/>
<line x1="67.2" y1="105.4" x2="67.2" y2="111.5" stroke="#5fa83a" stroke-width="0.8"/>
<line x1="69.1" y1="104" x2="69.1" y2="113.1" stroke="#548235" stroke-width="0.8"/>
<line x1="69.7" y1="104.8" x2="69.7" y2="113.6" stroke="#2e6b1f" stroke-width="0.8"/>
<line x1="70.7" y1="103.6" x2="70.7" y2="110.2" stroke="#548235" stroke-width="0.8"/>
<line x1="71.5" y1="103.9" x2="71.5" y2="114.8" stroke="#70ad47" stroke-width="0.8"/>
<line x1="72.6" y1="103.7" x2="72.6" y2="110.1" stroke="#5fa83a" stroke-width="0.8"/>
<line x1="73.6" y1="104.3" x2="73.6" y2="115" stroke="#548235" stroke-width="0.8"/>
<line x1="74.3" y1="104.3" x2="74.3" y2="108.2" stroke="#70ad47" stroke-width="0.8"/>
<line x1="75" y1="102.7" x2="75" y2="114.5" stroke="#70ad47" stroke-width="0.8"/>
<line x1="75.8" y1="102.7" x2="75.8" y2="112.2" stroke="#2e6b1f" stroke-width="0.8"/>
<line x1="76.8" y1="104.2" x2="76.8" y2="112.4" stroke="#2e6b1f" stroke-width="0.8"/>
<line x1="79.4" y1="104.3" x2="79.4" y2="114.9" stroke="#548235" stroke-width="0.8"/>
<line x1="80" y1="103.4" x2="80" y2="113.9" stroke="#2e6b1f" stroke-width="0.8"/>
<line x1="81" y1="104.3" x2="81" y2="114.7" stroke="#5fa83a" stroke-width="0.8"/>
<line x1="83.8" y1="106.3" x2="83.8" y2="111.5" stroke="#548235" stroke-width="0.8"/>
<line x1="84.4" y1="104.9" x2="84.4" y2="113.6" stroke="#2e7a2a" stroke-width="0.8"/>
<line x1="85.1" y1="103.6" x2="85.1" y2="112.9" stroke="#2e6b1f" stroke-width="0.8"/>
<line x1="86.9" y1="107.8" x2="86.9" y2="112.2" stroke="#ffc000" stroke-width="0.8"/>
<polyline points="248,96.4 248.6,96.1 249.2,95 249.8,95 250.4,94.5 251,94.5 251.6,94.6 252.2,94 252.8,92.9 253.4,92.5 254,92.3 254.6,91.2 255.2,90.8 255.8,90.3 256.4,89 257,89 257.6,88.1 258.2,87.4 258.8,86.2 259.4,85.5 260,84.8 260.6,84.6 261.2,86.1 261.8,87.6 262.4,90.1 263,92.4" fill="none" stroke="#9dc3e6" stroke-width="1.0" stroke-linejoin="round"/>
<polyline points="173,63.8 173.4,59.8 173.9,58.2 174.3,52.8 174.8,51.3 175.2,53.9 175.7,54.5 176.1,53.3 176.6,54.1 177,57.6 177.5,54.6 177.9,55.5 178.4,57.5 178.8,57.5 179.3,58.8 179.7,58.5 180.2,58.4 180.6,60.7 181.1,61.9 181.5,64.9 182,66.5 182.4,61.3 182.9,59.2 183.3,57.5 183.8,58.6 184.2,58.5 184.7,59.4 185.1,57.1 185.6,60.1 186,59.3 186.5,67.1 186.9,70.3 187.4,67.1 187.8,62 188.3,61.5 188.7,62.7 189.2,62.4 189.6,62.6 190.1,64.3 190.5,69.5 191,75 191.4,67.6 191.9,61.4 192.3,61.5 192.8,61.4 193.2,59.1 193.7,60.7 194.1,63.6 194.6,70.3 195,69.1 195.5,62 195.9,59.9 196.4,57 196.8,53.1 197.3,51.3 197.7,48.2 198.2,46.4 198.6,43.6 199.1,40.2 199.5,38.9 200,37.9 200.4,38.3 200.9,38.8 201.3,41.5 201.8,42.3 202.2,43.6 202.7,45.2 203.1,50.7 203.6,53.4 204,56.6 204.5,54.4 204.9,49.9 205.4,55.4 205.8,58.8 206.3,60.7 206.7,57.7 207.2,57.3 207.6,62.6 208.1,67.3 208.5,64.7 209,59.5 209.4,65.2 209.9,71.9 210.3,69.8 210.8,65.5 211.2,67.8 211.7,74 212.1,76.1 212.6,71.9 213,65.9 213.5,71.1 213.9,74.5 214.4,71.4 214.8,66.8 215.3,71.7 215.7,77.7 216.2,77.3 216.6,73.5 217.1,69.4 217.5,68.2 218,68.9 218.4,68 218.9,65.6 219.3,68 219.8,71.2 220.2,73.2 220.7,77.1 221.1,77.1 221.6,73.5 222,68.6 222.5,70.6 222.9,67 223.4,68.5 223.8,69.1 224.3,70.2 224.7,72.5 225.2,73.6 225.6,70.6 226.1,71 226.5,69.9 227,68.2 227.4,70.3 227.9,69.3 228.3,71.4 228.8,70.8 229.2,72.2 229.7,71.5 230.1,71 230.6,72.9 231,76.6 231.5,72 231.9,71.5 232.4,70.2 232.8,70.8 233.3,71.6 233.7,72.1 234.2,74.2 234.6,73.5 235.1,72.8 235.5,75.2 236,74.7" fill="none" stroke="#dfa21c" stroke-width="1.06" stroke-linejoin="round"/>
<polyline points="307.8,80.9 308.4,81.3 309,82.9 309.6,82.3 310.2,83.6 310.8,84.1 311.4,83.4 312,84 312.6,84.6 313.2,84.5 313.8,84.9 314.4,85.6 315,86.6 315.6,86.5 316.2,87.2 316.8,87.6 317.4,87.7 318,89.7 318.6,88.3 319.2,89.7 319.8,90.8 320.4,90.2 321,91.5 321.6,92.1 322.2,91.3 322.8,92.1 323.4,91.7 324,92.8 324.6,92.8 325.2,93.2 325.8,94 326.4,93.8 327,94.5 327.6,94.4 328.2,93.8 328.8,94.8 329.4,95.2 330,94.5 330.6,96 331.2,95.4 331.8,95.7 332.4,95.1 333,95.7 333.6,95.9 334.2,95.7 334.8,96 335.4,95 336,96.9 336.6,95.7 337.2,95.3 337.8,96 338.4,96.1 339,96.9 339.6,96.3 340.2,97 340.8,96.4 341.4,98.1 342,97.3 342.6,98.1 343.2,96.7 343.8,97.6 344.4,96.9 345,97.7 345.6,98 346.2,97.1 346.8,97.6 347.4,97.9 348,98 348.6,98.6 349.2,98.8 349.8,98.8 350.4,99.6 351,99.7 351.6,98.6 352.2,98.8 352.8,99 353.4,98.7 354,98.4 354.6,99 355.2,98.7 355.8,98 356.4,96.9 357,97.3 357.6,96.5 358.2,94.8 358.8,94.3 359.4,94.3 360,92.6 360.6,91.9 361.2,90.5 361.8,88.8 362.4,87.8 363,85.9 363.6,85.1 364.2,83.1 364.8,84 365.4,82.7 366,81.9 366.6,80.8 367.2,80.4 367.8,79.9 368.4,79.1 369,78.4 369.6,76.8 370.2,76.8 370.8,75.6 371.4,74.6 372,74 372.6,74.1 373.2,73.7 373.8,71.9 374.4,72.7 375,71.9 375.6,70.5 376.2,69.9 376.8,69.6 377.4,69.6 378,68.3 378.6,67.4 379.2,67.6 379.8,65.9 380.4,66.5 381,66.4 381.6,65.5 382.2,65.2 382.8,64.5 383.4,64.1 384,63.3 384.6,62.2 385.2,62.1 385.8,61.7 386.4,62 387,61.8 387.6,60.8 388.2,59.8 388.8,59.4 389.4,59.3 390,59.6 390.6,58.7 391.2,58.1 391.8,57.4 392.4,57.8 393,57.1 393.6,56.5 394.2,56.2 394.8,56.6 395.4,55.4 396,56.2 396.6,55.9 397.2,55.1 397.8,55.4 398.4,54.8 399,54.3 399.6,54.5 400.2,54.4 400.8,56 401.4,56.7 402,57.9 402.6,59 403.2,57.9 403.8,60.6 404.4,60.5 405,62.4 405.6,62.5 406.2,63.7 406.8,65 407.4,64.1 408,65.7 408.6,66.9 409.2,67.4 409.8,70 410.4,70.8 411,71.6 411.6,72.6 412.2,75.6 412.8,74.9 413.4,75.3 414,76.8 414.6,78.1 415.2,79 415.8,79.6 416.4,79.6 417,80.9 417.6,80.8 418.2,80.9 418.8,81.6 419.4,82.3 420,83.4 420.6,83.7 421.2,83.8 421.8,84.4 422.4,85 423,86.4 423.6,85.5 424.2,86.5 424.8,87.1 425.4,86.7 426,87.8 426.6,88.2 427.2,88.4 427.8,89.4 428.4,90.1 429,90.6 429.6,90.4 430.2,91 430.8,92.4 431.4,91 432,92 432.6,92.6 433.2,92.5 433.8,93.1 434.4,93.2 435,93.8 435.6,94.4 436.2,93.9 436.8,94.4 437.4,94.6 438,94.8 438.6,95.3 439.2,95 439.8,96.3 440.4,97 441,97.2 441.6,97.3 442.2,96.4 442.8,97.9 443.4,97 444,97.5 444.6,98.7 445.2,97.5 445.8,98.7 446.4,98.6 447,98.7 447.6,98.5 448.2,99.4 448.8,99.2 449.4,100.2 450,100.5 450.6,99.4 451.2,100 451.8,100.3 452.4,100 453,100.2 453.6,101 454.2,101.1 454.8,100.5 455.4,101.3 456,102 456.6,101.3 457.2,101.5 457.8,102.7 458.4,102.5 459,100.9 459.6,101 460.2,101.8 460.8,100.9 461.4,101.3 462,101.1 462.6,101.6 463.2,100 463.8,100 464.4,100.5 465,101.5 465.6,100.7 466.2,99.7 466.8,100.6 467.4,100.5 468,99.8 468.6,99.5 469.2,99.7 469.8,99.9 470.4,99 471,98.7 471.6,98 472.2,97.4 472.8,96.7 473.4,96.9 474,96.2 474.6,95.8 475.2,95.9 475.8,95.3 476.4,95 477,93.4 477.6,94 478.2,93 478.8,92.5 479.4,92 480,92.6 480.6,91.8 481.2,90.4 481.8,89.6 482.4,89.6 483,88.8 483.6,89.2 484.2,87.1 484.8,86.3 485.4,86.5 486,86 486.6,85.5 487.2,85.2 487.8,85.2 488.4,83.4 489,82.7 489.6,81.5 490.2,81.9 490.8,81.6 491.4,80.5 492,80.6 492.6,79.4 493.2,79.6 493.8,78.4 494.4,77.1 495,76.7 495.6,75.6 496.2,74.9 496.8,75.3 497.4,75 498,75 498.6,73.4 499.2,72.7 499.8,71.6 500.4,71.9 501,70.8 501.6,69.5 502.2,69.3 502.8,68.4 503.4,66.4 504,66.9 504.6,65.8 505.2,65.8 505.8,66 506.4,67.3 507,67.5 507.6,67.9 508.2,66.7 508.8,67.2 509.4,68.2 510,67.4 510.6,68.6 511.2,69 511.8,71.8 512.4,72.4 513,73 513.6,73.9 514.2,74.5 514.8,75.5 515.4,76.8 516,77 516.6,78.8 517.2,78.7 517.8,79.3 518.4,81.2 519,81.3 519.6,82.4 520.2,82.8 520.8,82.6 521.4,84.8 522,84.7 522.6,86.7 523.2,86.2 523.8,86.9 524.4,88.7 525,89.6 525.6,89.8 526.2,89.4 526.8,90.8 527.4,89.9 528,90.7 528.6,90.9 529.2,91.4 529.8,92.3 530.4,91.9 531,92.8 531.6,93.2 532.2,92.3 532.8,92.9 533.4,93.6 534,93.8 534.6,94.5" fill="none" stroke="#2e7a2a" stroke-width="1.12" stroke-linejoin="round"/>
<polyline points="307.8,52.8 308.4,53.9 309,54.2 309.6,54.2 310.2,54.2 310.8,54.9 311.4,55 312,55.7 312.6,55.9 313.2,56.5 313.8,56.6 314.4,57.6 315,56.9 315.6,57.7 316.2,58.5 316.8,58.4 317.4,59.4" fill="none" stroke="#2e6b1f" stroke-width="1.25" stroke-linejoin="round"/>
<polyline points="307.8,56.3 308.4,57.3 309,57.5 309.6,58.2 310.2,58.9 310.8,59.4 311.4,59.8 312,61.3 312.6,61.1 313.2,61.3 313.8,62.5 314.4,63 315,63.9 315.6,65 316.2,64.9 316.8,66.4 317.4,67.3 318,67.8 318.6,68.7 319.2,68.4 319.8,70.1 320.4,71.7 321,71.1 321.6,72.2 322.2,73.2 322.8,74 323.4,75 324,74.5 324.6,75.9 325.2,76.8 325.8,76.7 326.4,77.9 327,79.2 327.6,79.7 328.2,80 328.8,79.4 329.4,80.7 330,81.3 330.6,81.5 331.2,82 331.8,83.6 332.4,82.9 333,83 333.6,83.9 334.2,84.2 334.8,84.6 335.4,85.1 336,85.9 336.6,86.1 337.2,86 337.8,86.8 338.4,87.3 339,87.4 339.6,88.3 340.2,88.5 340.8,88.3 341.4,89.1 342,90.1 342.6,90.2 343.2,89.9 343.8,90.5 344.4,90.1 345,90.1 345.6,91 346.2,91.2 346.8,91.5 347.4,91.3 348,91.5 348.6,91.2 349.2,91.6 349.8,91.7 350.4,91.4 351,91.8 351.6,90.9 352.2,91.3 352.8,92.1 353.4,92.2 354,91.5 354.6,91.2 355.2,90.6 355.8,91 356.4,91 357,90 357.6,90.5 358.2,90.3 358.8,90.1 359.4,89.4 360,89.8 360.6,88.9 361.2,89.8 361.8,89.1 362.4,88.5 363,89.2 363.6,89 364.2,88.2 364.8,89 365.4,87.7 366,88 366.6,88.2 367.2,86.8 367.8,87.8 368.4,87.2 369,87.1 369.6,86.5 370.2,86.8 370.8,86.1 371.4,85.8 372,85.7 372.6,85.2 373.2,85.9 373.8,84.6 374.4,84.6 375,84.5 375.6,84.3 376.2,84.3 376.8,84 377.4,83.4 378,83.1 378.6,83 379.2,83 379.8,82.7 380.4,82 381,81.2 381.6,82.4 382.2,81.7 382.8,81.2 383.4,80.9 384,80.4 384.6,79.9 385.2,79.8 385.8,79.5 386.4,78.9 387,78.2 387.6,78.2 388.2,78.2 388.8,77.4 389.4,77.2 390,76 390.6,76.3 391.2,75.9 391.8,75.1 392.4,74.5 393,74.9 393.6,74.1 394.2,74.1 394.8,73.4 395.4,73.1 396,72 396.6,70.8 397.2,70.5 397.8,69.6 398.4,69.1 399,68 399.6,67.2 400.2,67 400.8,66.8 401.4,66.4 402,66.2 402.6,65.8 403.2,65.6 403.8,65.4 404.4,64.9 405,64.5 405.6,64.5 406.2,65.3 406.8,64.5 407.4,64.4 408,64.4 408.6,64.5 409.2,64.6 409.8,64.1 410.4,63.8 411,64.6 411.6,63.9 412.2,64.6 412.8,64.5 413.4,64.9 414,65.1 414.6,64.6 415.2,64.6 415.8,65.1 416.4,65.9 417,67 417.6,67 418.2,68.5 418.8,69.2 419.4,70.2 420,70.5 420.6,71.4 421.2,71.9 421.8,72.7 422.4,73 423,74.4 423.6,75.6 424.2,75.9 424.8,76.7 425.4,77 426,78.6 426.6,78.5 427.2,79.8 427.8,80.3 428.4,80.7 429,82.1 429.6,82.5 430.2,83.2 430.8,83.6 431.4,83.8 432,84.1 432.6,84.7 433.2,84.8 433.8,85.3 434.4,85.4 435,85.5 435.6,86.2 436.2,86.6 436.8,87.1 437.4,87.9 438,87.3 438.6,88.3 439.2,87.8 439.8,88.6 440.4,89.1 441,88.9 441.6,89.4 442.2,90.5 442.8,90.8 443.4,91.1 444,91.2 444.6,92.6 445.2,92.1 445.8,92.1 446.4,93.2 447,93.1 447.6,93 448.2,93.8 448.8,93.6 449.4,94 450,94.1 450.6,93.9 451.2,94.9 451.8,94.8 452.4,94.6 453,95 453.6,95.8 454.2,95.6 454.8,95.9 455.4,96.3 456,96.1 456.6,95.6 457.2,96.4 457.8,96.6 458.4,96.6 459,96.9 459.6,96.5 460.2,96.7 460.8,97.1 461.4,96.5 462,97.2 462.6,97.3 463.2,97 463.8,97.4 464.4,97.1 465,96.6 465.6,97.3 466.2,97.1 466.8,97.2 467.4,97.1 468,97.6 468.6,97.4 469.2,97 469.8,97.5 470.4,97.3 471,96.5 471.6,96.3 472.2,96 472.8,95.6 473.4,95.6 474,95.5 474.6,95.5 475.2,95 475.8,94.6 476.4,94.3 477,94.1 477.6,93.1 478.2,93.2 478.8,92.7 479.4,92.3 480,91.8 480.6,91.5 481.2,91.2 481.8,90.5 482.4,90.7 483,90.2 483.6,89.9 484.2,89.6 484.8,89.4 485.4,88.6 486,88.4 486.6,87.5 487.2,86.9 487.8,86.6 488.4,87.5 489,86 489.6,86.4 490.2,86.4 490.8,85.4 491.4,85.7 492,85.4 492.6,84.8 493.2,84.9 493.8,83.9 494.4,83.1 495,83.2 495.6,82.4 496.2,81.6 496.8,81.1 497.4,81.9 498,80.4 498.6,80.1 499.2,79.4 499.8,79.2 500.4,78.6 501,78 501.6,77.2 502.2,76.7 502.8,76.4 503.4,76.3 504,76.5 504.6,75.6 505.2,75.4 505.8,74.5 506.4,73.8 507,72.8 507.6,72.8 508.2,71.7 508.8,72.1 509.4,72.5 510,71.8 510.6,71.8 511.2,71 511.8,70.4 512.4,70.4 513,70.2 513.6,70.5 514.2,70.5 514.8,69.3 515.4,69.2 516,69 516.6,68.7 517.2,68.1 517.8,68.3 518.4,68.1 519,67.9 519.6,67.1 520.2,67.3 520.8,66.8 521.4,67.9 522,67.3 522.6,67.7 523.2,67.7 523.8,67.8 524.4,67.7 525,67.6 525.6,68.9 526.2,68.5 526.8,68.6 527.4,69.4 528,68.7 528.6,69.1 529.2,69 529.8,69.5 530.4,69.4 531,69.4 531.6,69.3 532.2,69.6 532.8,70 533.4,69 534,69.8 534.6,69.8" fill="none" stroke="#b8792a" stroke-width="1.25" stroke-linejoin="round"/>
<polyline points="307.8,57.9 308.4,57.9 309,59.3 309.6,59.3 310.2,60.1 310.8,60.5 311.4,60.7 312,61.6 312.6,61.7 313.2,62.5 313.8,63.3 314.4,63.9 315,64.7 315.6,65.4 316.2,66.9 316.8,67.1 317.4,67.3 318,68.3 318.6,69 319.2,69.9 319.8,70.5 320.4,71.1 321,72.5 321.6,72.5 322.2,72.9 322.8,73.4 323.4,74 324,75.1 324.6,75.3 325.2,76.1 325.8,75.1 326.4,76.9 327,77.7 327.6,78.5 328.2,78.4 328.8,78.3 329.4,79.7 330,79.8 330.6,79.7 331.2,80.5 331.8,81.5 332.4,81.9 333,82.1 333.6,81.8 334.2,83.4 334.8,82.5 335.4,83.2 336,83.1 336.6,84.4 337.2,84.5 337.8,85 338.4,85.1 339,85.4 339.6,85.8 340.2,85.4 340.8,86.6 341.4,86.8 342,86.5 342.6,86.8 343.2,87.1 343.8,87.7 344.4,87.5 345,87.5 345.6,87.5 346.2,87.3 346.8,87.8 347.4,88.3 348,88.3 348.6,88.6 349.2,89 349.8,89.1 350.4,89.1 351,89.1 351.6,88.9 352.2,88.8 352.8,88.9 353.4,88.1 354,89.1 354.6,88.1 355.2,88.8 355.8,88.4 356.4,88.8 357,88.3 357.6,87.9 358.2,88.6 358.8,88.2 359.4,88.1 360,88 360.6,88.2 361.2,88.1 361.8,87.7 362.4,87 363,87.3 363.6,87.3 364.2,87.8 364.8,87.2 365.4,86.9 366,87.2 366.6,86.7 367.2,86.6 367.8,86.5 368.4,85.8 369,86.6 369.6,86.2 370.2,85.8 370.8,85.2 371.4,85.4 372,85.6 372.6,84.6 373.2,84.2 373.8,84.4 374.4,83.4 375,82.9 375.6,83.3 376.2,82.9 376.8,82.7 377.4,82.4 378,82.4 378.6,81.9 379.2,81.5 379.8,81.3 380.4,81.4 381,81.2 381.6,80.9 382.2,80.6 382.8,78.9 383.4,79.4 384,79.4 384.6,79.3 385.2,78.3 385.8,79 386.4,78.1 387,77.4 387.6,77.3 388.2,76.7 388.8,76.1 389.4,76.1 390,75.4 390.6,74.6 391.2,74.5 391.8,74.2 392.4,73.5 393,73.9 393.6,72.6 394.2,73.2 394.8,72.5 395.4,71.3 396,71.1 396.6,70.8 397.2,69.8 397.8,68.8 398.4,68.7 399,68.7 399.6,66.9 400.2,67.2 400.8,66.9 401.4,66.8 402,66.7 402.6,66.7 403.2,67.1 403.8,66.9 404.4,66.2 405,67.1 405.6,66 406.2,66.6 406.8,66.4 407.4,66.7 408,66.3 408.6,66.5 409.2,66.1 409.8,66.4 410.4,66.4 411,67.4 411.6,66.7 412.2,67.8 412.8,67.9 413.4,68.1 414,68.2 414.6,68.9 415.2,68.6 415.8,69 416.4,70.1 417,69.7 417.6,71.1 418.2,70.8 418.8,71.4 419.4,71.7 420,72.2 420.6,72.4 421.2,72.9 421.8,73.5 422.4,74.5 423,75 423.6,75.6 424.2,75.8 424.8,76.1 425.4,76.1 426,77.5 426.6,78 427.2,78.1 427.8,79.1 428.4,79.8 429,79.9 429.6,80.7 430.2,81 430.8,80.8 431.4,81.7 432,82.3 432.6,83.1 433.2,83.2 433.8,83.8 434.4,84.2 435,85 435.6,85.4 436.2,86 436.8,86.3 437.4,86.4 438,86.7 438.6,87 439.2,87.3 439.8,88.1 440.4,87 441,88.2 441.6,88.7 442.2,89.3 442.8,88.8 443.4,89.6 444,90.1 444.6,90 445.2,89.8 445.8,90.7 446.4,90.7 447,91.7 447.6,91.4 448.2,92.7 448.8,92.4 449.4,92.4 450,92.9 450.6,92.7 451.2,93.3 451.8,93.8 452.4,93.3 453,93.8 453.6,93.2 454.2,93.7 454.8,94.5 455.4,93.3 456,94.3 456.6,94.3 457.2,93.3 457.8,93.6 458.4,93.8 459,94.6 459.6,94.2 460.2,94.3 460.8,94.7 461.4,94.6 462,94.7 462.6,94.6 463.2,95.2 463.8,94.6 464.4,95.5 465,94.9 465.6,94.5 466.2,94.9 466.8,94.6 467.4,93.5 468,94.1 468.6,93.4 469.2,93.3 469.8,93.7 470.4,92.9 471,93.2 471.6,92.7 472.2,93.3 472.8,92.4 473.4,91.8 474,91.6 474.6,91.5 475.2,91.7 475.8,91.4 476.4,91.6 477,91.1 477.6,90.9 478.2,90.7 478.8,90.4 479.4,90.3 480,90.3 480.6,89.9 481.2,89.1 481.8,88.3 482.4,88.3 483,88.3 483.6,87 484.2,87.3 484.8,87.3 485.4,86.6 486,86 486.6,86.7 487.2,86.2 487.8,85.3 488.4,85.4 489,85.1 489.6,83.9 490.2,84.8 490.8,83.2 491.4,83.1 492,82.4 492.6,82.5 493.2,81.6 493.8,81.7 494.4,81.8 495,81.1 495.6,80.5 496.2,80.8 496.8,79.5 497.4,79.8 498,78.9 498.6,78.7 499.2,78.2 499.8,77.9 500.4,77.4 501,76.7 501.6,76.4 502.2,76.4 502.8,75.8 503.4,75 504,74.8 504.6,74.4 505.2,74.2 505.8,73.9 506.4,73.4 507,72.8 507.6,72.6 508.2,71.7 508.8,70.8 509.4,71.4 510,70.4 510.6,70.5 511.2,70.2 511.8,70.7 512.4,69.9 513,70.2 513.6,69.8 514.2,69.3 514.8,69 515.4,69.6 516,69.3 516.6,69.3 517.2,69.5 517.8,68.8 518.4,68.6 519,68.3 519.6,68.2 520.2,67.9 520.8,67.9 521.4,69.1 522,67.9 522.6,68.8 523.2,69 523.8,69.1 524.4,68.8 525,69.3 525.6,69.3 526.2,69.3 526.8,69.8 527.4,69.8 528,69.9 528.6,70.5 529.2,70.1 529.8,70.8 530.4,70.6 531,71.1 531.6,71.1 532.2,71.3 532.8,71.1 533.4,71.3 534,71.4 534.6,72" fill="none" stroke="#9c7a24" stroke-width="1.0" stroke-linejoin="round"/>
<polyline points="307.8,59.8 308.4,60.4 309,60.3 309.6,61 310.2,60.8 310.8,61.1 311.4,62.1 312,62.7 312.6,62.8 313.2,63.2 313.8,64.6 314.4,64.6 315,64.7 315.6,66.8 316.2,66.4 316.8,66.7 317.4,67.6 318,67.6 318.6,69 319.2,68.2 319.8,68.8 320.4,69.8 321,70.1 321.6,71.5 322.2,70.8 322.8,71.7 323.4,72.6 324,73.3 324.6,74 325.2,74.3 325.8,75.5 326.4,75 327,75.8 327.6,76.6 328.2,76.7 328.8,77.2 329.4,77.7 330,78.1 330.6,78.3 331.2,79 331.8,79 332.4,80.1 333,79.8 333.6,81.6 334.2,81.9 334.8,82 335.4,81.9 336,82.2 336.6,83.3 337.2,83.3 337.8,83.8 338.4,83.7 339,84.8 339.6,84.5 340.2,85.2 340.8,84.6 341.4,85.1 342,85.7 342.6,85.5 343.2,85.6 343.8,86.3 344.4,86.1 345,86.7 345.6,85.4 346.2,86.7 346.8,86.8 347.4,86.2 348,86.4 348.6,87.4 349.2,86.8 349.8,87.1 350.4,87.6 351,87.1 351.6,87.4 352.2,86.8 352.8,87.2 353.4,87.4 354,87 354.6,86 355.2,87 355.8,86.7 356.4,86.2 357,87.1 357.6,85.8 358.2,87.1 358.8,86.1 359.4,86.9 360,86.2 360.6,85.6 361.2,86 361.8,86 362.4,86 363,86.1 363.6,85.2 364.2,85.7 364.8,85.7 365.4,85.2 366,84.8 366.6,84.7 367.2,85.3 367.8,85.2 368.4,84.5 369,84.2 369.6,85.1 370.2,83.9 370.8,84.3 371.4,83.7 372,83.1 372.6,83.7 373.2,83.3 373.8,83.7 374.4,83.8 375,82.6 375.6,82.9 376.2,82.7 376.8,81.8 377.4,81.5 378,82.2 378.6,81.2 379.2,81.1 379.8,80.8 380.4,80.6 381,80.2 381.6,80.5 382.2,80.5 382.8,79.7 383.4,79 384,79.4 384.6,78.5 385.2,78.6 385.8,79 386.4,79.1 387,78 387.6,77.1 388.2,77.5 388.8,76 389.4,76.2 390,76.8 390.6,76.1 391.2,75 391.8,74.5 392.4,75.2 393,74.5 393.6,73.9 394.2,74 394.8,73.3 395.4,72.1 396,72.4 396.6,71 397.2,70.1 397.8,69.2 398.4,69 399,67.8 399.6,67.6 400.2,66.5 400.8,66.7 401.4,65.7 402,65.2 402.6,64.2 403.2,64.2 403.8,64.5 404.4,65 405,62.9 405.6,63 406.2,63.6 406.8,63.8 407.4,63.4 408,63.7 408.6,63.1 409.2,63.7 409.8,64.3 410.4,64.6 411,64 411.6,64 412.2,64.4 412.8,64.7 413.4,64.5 414,64.1 414.6,64.6 415.2,65.1 415.8,65.3 416.4,65.9 417,67.4 417.6,68.2 418.2,69.2 418.8,69.7 419.4,70.2 420,71.1 420.6,71.3 421.2,71.8 421.8,72.4 422.4,72.9 423,74 423.6,73.6 424.2,74.5 424.8,74.7 425.4,76 426,76 426.6,76.2 427.2,77.1 427.8,77.3 428.4,77.6 429,78.8 429.6,79 430.2,79.8 430.8,80.1 431.4,80.4 432,80.6 432.6,80.6 433.2,81.8 433.8,82 434.4,82.7 435,82.9 435.6,83.1 436.2,83.5 436.8,84.6 437.4,85.3 438,85.2 438.6,86 439.2,86.8 439.8,86.4 440.4,87 441,87 441.6,88.2 442.2,88.1 442.8,88.2 443.4,88 444,88.9 444.6,89.7 445.2,89.5 445.8,89.7 446.4,90.5 447,90 447.6,90.9 448.2,91.4 448.8,91.2 449.4,91.4 450,92.2 450.6,92.2 451.2,92.3 451.8,92.6 452.4,92.8 453,92.5 453.6,92.8 454.2,93.4 454.8,93.8 455.4,94 456,93.3 456.6,94.2 457.2,94.3 457.8,94.1 458.4,94.5 459,94.8 459.6,95.3 460.2,94.2 460.8,94.8 461.4,94.4 462,94.3 462.6,94.8 463.2,94.6 463.8,93.8 464.4,94 465,94.1 465.6,93.4 466.2,94.2 466.8,93.8 467.4,93.8 468,93.8 468.6,94.3 469.2,93.5 469.8,93.3 470.4,93.9 471,92.8 471.6,92.5 472.2,92 472.8,92.7 473.4,92.1 474,92 474.6,91.6 475.2,91.3 475.8,90.8 476.4,90.5 477,90.8 477.6,90.4 478.2,90.8 478.8,89.6 479.4,89.4 480,89 480.6,89.6 481.2,88.2 481.8,88.6 482.4,88.5 483,87.5 483.6,87.5 484.2,86 484.8,86.3 485.4,85.5 486,85.8 486.6,85.4 487.2,84.7 487.8,85 488.4,84.4 489,83.7 489.6,83.4 490.2,82.6 490.8,82.8 491.4,83.3 492,81.8 492.6,81.9 493.2,81.2 493.8,81.3 494.4,80.8 495,80.2 495.6,79.2 496.2,79.4 496.8,79.7 497.4,78.7 498,78.7 498.6,77.9 499.2,77 499.8,77.5 500.4,77.1 501,76.4 501.6,76.1 502.2,76 502.8,75.3 503.4,75.3 504,74.7 504.6,73.5 505.2,74 505.8,73.5 506.4,73 507,73.2 507.6,72.5 508.2,72.5 508.8,72.4 509.4,71.6 510,70.6 510.6,70.7 511.2,71.1 511.8,70.4 512.4,69.9 513,70 513.6,70 514.2,69.7 514.8,69.6 515.4,68.8 516,68.7 516.6,68.5 517.2,68.4 517.8,67.3 518.4,67.8 519,67.2 519.6,68 520.2,68 520.8,68.2 521.4,68 522,67.6 522.6,68.3 523.2,68 523.8,68.5 524.4,68.1 525,68.4 525.6,68.9 526.2,69.6 526.8,69.1 527.4,70.1 528,70.5 528.6,69 529.2,69.7 529.8,69.5 530.4,69.9 531,69.9 531.6,70.3 532.2,70.8 532.8,71 533.4,70.9 534,70.9 534.6,71.1" fill="none" stroke="#ffc000" stroke-width="1.38" stroke-linejoin="round"/>
<polyline points="420,74 420.6,74.7 421.2,75 421.8,75.6 422.4,75.4 423,76.7 423.6,77.6 424.2,77.4 424.8,77.3 425.4,78.8 426,78.7 426.6,78.1 427.2,79.7 427.8,80.5 428.4,80.9 429,81.7 429.6,81.9 430.2,82.2 430.8,81.7 431.4,82.4 432,83.3 432.6,83.8 433.2,83.5 433.8,84 434.4,84.8 435,84.2 435.6,84.6 436.2,85.6 436.8,86.2 437.4,86.2 438,85.9 438.6,87.2 439.2,87 439.8,88.1 440.4,88.1 441,88.4 441.6,88.7 442.2,88.4 442.8,89.2 443.4,89.5 444,89.4 444.6,89.9 445.2,89.3 445.8,90.1 446.4,90 447,89.7 447.6,90.2 448.2,90.2 448.8,90.4 449.4,90.8 450,91.4 450.6,90.9 451.2,91.2 451.8,90.6 452.4,91.3 453,91.8 453.6,91.7 454.2,91.6 454.8,91.3 455.4,91.1 456,91.6 456.6,91.1 457.2,91.2 457.8,92.1 458.4,91.5 459,92.6 459.6,91.4 460.2,92.1 460.8,91.4 461.4,91.8 462,91.2 462.6,91.5 463.2,91.3 463.8,91.1 464.4,91.3 465,91.6 465.6,90.6 466.2,91.1 466.8,90.7 467.4,90.5 468,91.3 468.6,89.4 469.2,89.9 469.8,89.3 470.4,89.8 471,89.6 471.6,91 472.2,89.5 472.8,89.9 473.4,89.5 474,88.6 474.6,88.8 475.2,89.1 475.8,88.3 476.4,88.2 477,88.1 477.6,87.1 478.2,87.2 478.8,87.5 479.4,87.4 480,86.6 480.6,86.5 481.2,86.2 481.8,85.9 482.4,85.8 483,85.2 483.6,84.9 484.2,83.9 484.8,83.7 485.4,83.9 486,82.8 486.6,83.1 487.2,82.4 487.8,82 488.4,82.2 489,81.3 489.6,80.9 490.2,80.6 490.8,80.5 491.4,81.2 492,79 492.6,79.4 493.2,79 493.8,79.1 494.4,78.2 495,77 495.6,78.2 496.2,76.9 496.8,77 497.4,76.2 498,76 498.6,75.9 499.2,76.1 499.8,75.8 500.4,74.9 501,75 501.6,74.3 502.2,74.2 502.8,73.9 503.4,73.8 504,72.9 504.6,72.8 505.2,72.6 505.8,72.3 506.4,71.6 507,72.3 507.6,71.1 508.2,71.3 508.8,70.7 509.4,70.8 510,69.1 510.6,70.6 511.2,69.4 511.8,68.8 512.4,69.1 513,69.7 513.6,68.7 514.2,67.8 514.8,67.9 515.4,68.4 516,67 516.6,67.3 517.2,67 517.8,67.7 518.4,66.5 519,66.9 519.6,65.9 520.2,65.7 520.8,66.5 521.4,66.5 522,65.7 522.6,66.8 523.2,66.9 523.8,66.5 524.4,67 525,67.1 525.6,66.9 526.2,67 526.8,67.1 527.4,67.4 528,67.1 528.6,67.7 529.2,67.2 529.8,68 530.4,68 531,67.8 531.6,68.6 532.2,69.2 532.8,69.1 533.4,68.1 534,69.3 534.6,69" fill="none" stroke="#dfa21c" stroke-width="1.12" stroke-linejoin="round"/>
<polyline points="307.8,61.6 308.4,61.7 309,62.4 309.6,63.6 310.2,63.4 310.8,63.2 311.4,63.4 312,63.9 312.6,64.9 313.2,66 313.8,64.6 314.4,65.6 315,65.8 315.6,65.9 316.2,66.9 316.8,67.4 317.4,66.6 318,67.2 318.6,68.9 319.2,68.7 319.8,69.2 320.4,67.8 321,69.4 321.6,70.3 322.2,70.2 322.8,70.2 323.4,71.3 324,72.2 324.6,71.4 325.2,73.1 325.8,73.3 326.4,72.8 327,73.7 327.6,74 328.2,74.9 328.8,75.3 329.4,74.5 330,74.9 330.6,76.5 331.2,76.1 331.8,76.4 332.4,76.5 333,77.4 333.6,75.9 334.2,77.5 334.8,76.5 335.4,77.6 336,78.1 336.6,76.6 337.2,77.9 337.8,77.6 338.4,75.7 339,77.6 339.6,77.6 340.2,77.8 340.8,77 341.4,79 342,78.3 342.6,77.8 343.2,80.1 343.8,79.5 344.4,79.1 345,78.4 345.6,78.7 346.2,79.3 346.8,78.6 347.4,80.2 348,79.4 348.6,79.6 349.2,78.9 349.8,79 350.4,79 351,79.5 351.6,79.1 352.2,78.9 352.8,79.1 353.4,78.9 354,79.5 354.6,78.4 355.2,77.8 355.8,78.2 356.4,79 357,77.6 357.6,77.9 358.2,77.5 358.8,77.8 359.4,77.6 360,76.8 360.6,77 361.2,77.6 361.8,76.8 362.4,77.4 363,77.3 363.6,76.5 364.2,76.4 364.8,77.1 365.4,75.7 366,76.3 366.6,75.1 367.2,75.9 367.8,75.6 368.4,75.2 369,76.2 369.6,75.3 370.2,75.4 370.8,75.3 371.4,74.8 372,75.9 372.6,74.6 373.2,74.8 373.8,73.8 374.4,74.1 375,74 375.6,73.8 376.2,73.5 376.8,70.2 377.4,74.4 378,73.2 378.6,73 379.2,72.7 379.8,74.2 380.4,73.5 381,72.7 381.6,72.6 382.2,71.6 382.8,71.8 383.4,71.8 384,71.6 384.6,67.8 385.2,70.6 385.8,71 386.4,70.6 387,68.8 387.6,69.8 388.2,70.2 388.8,68.7 389.4,68.9 390,67.6 390.6,68.6 391.2,67.1 391.8,66.7 392.4,66.9 393,68.2 393.6,65.9 394.2,65 394.8,65.4 395.4,64.8 396,65.1 396.6,62.8 397.2,62.1 397.8,62.3 398.4,62.5 399,62.4 399.6,62.8 400.2,61.2 400.8,61.5 401.4,61.9 402,62.4 402.6,62.1 403.2,61.6 403.8,61.1 404.4,62.2 405,62.2 405.6,63.2 406.2,61.4 406.8,62.4 407.4,60.7 408,61 408.6,60.9 409.2,61 409.8,60.7 410.4,60.9 411,61.3 411.6,61.1 412.2,61.8 412.8,61.4 413.4,61.5 414,62.4 414.6,61.8 415.2,61.9 415.8,62.3 416.4,62.9 417,63.7 417.6,63.4 418.2,65 418.8,65.8 419.4,66 420,65.5 420.6,65.4 421.2,66.6 421.8,67.4 422.4,68.3 423,68.2 423.6,68.6 424.2,70.2 424.8,69.4 425.4,70.9 426,71.3 426.6,70.5 427.2,71.9 427.8,71.9 428.4,72.1 429,72.1 429.6,72.7 430.2,74.4 430.8,74.4 431.4,75.3 432,75 432.6,75.9 433.2,76.4 433.8,76.1 434.4,76.5 435,78.2 435.6,78.5 436.2,78.4 436.8,79.4 437.4,80.3 438,81.5 438.6,80 439.2,81.7 439.8,83.1 440.4,82.3 441,83.4 441.6,81.4 442.2,84.2 442.8,83.7 443.4,82.9 444,84.8 444.6,85.4 445.2,85.8 445.8,86.2 446.4,85.8 447,85.7 447.6,86.3 448.2,85.6 448.8,87.5 449.4,87.3 450,88 450.6,88.5 451.2,85.6 451.8,89.3 452.4,89.3 453,87.3 453.6,87.6 454.2,87.2 454.8,87.3 455.4,88.3 456,85.4 456.6,87.4 457.2,87.8 457.8,88.5 458.4,87.8 459,87.8 459.6,88.5 460.2,88.2 460.8,88.1 461.4,88.3 462,87 462.6,87.6 463.2,87 463.8,87.8 464.4,87.6 465,86.4 465.6,87.7 466.2,86.1 466.8,87.3 467.4,86.6 468,85.9 468.6,85.6 469.2,86 469.8,86 470.4,85.3 471,85.7 471.6,84.2 472.2,84.7 472.8,84.3 473.4,82.8 474,83.8 474.6,82.5 475.2,81.4 475.8,82.1 476.4,82 477,82.3 477.6,81.1 478.2,81.9 478.8,81.6 479.4,81 480,80.8 480.6,79.7 481.2,78.7 481.8,78.9 482.4,78.6 483,77.7 483.6,77 484.2,75.7 484.8,76.5 485.4,75.9 486,74.4 486.6,74.8 487.2,71.4 487.8,73.7 488.4,73.7 489,73.2 489.6,71.4 490.2,71.7 490.8,71.7 491.4,71.5 492,71.3 492.6,65.2 493.2,69.5 493.8,69.6 494.4,69.4 495,69.2 495.6,67.2 496.2,67.1 496.8,65.5 497.4,66.9 498,65.2 498.6,66.2 499.2,65.6 499.8,64.9 500.4,62.9 501,63.3 501.6,63.7 502.2,62 502.8,62.3 503.4,62 504,62.3 504.6,59.5 505.2,61.1 505.8,60.3 506.4,60.2 507,59.8 507.6,59.9 508.2,59 508.8,59.3 509.4,57.3 510,58.7 510.6,58.1 511.2,59 511.8,58.6 512.4,59.2 513,59.8 513.6,58.7 514.2,59.3 514.8,59.3 515.4,60.3 516,60.2 516.6,62.1 517.2,63 517.8,63.7 518.4,65.1 519,64 519.6,68.1 520.2,68.5 520.8,70.4 521.4,69.8 522,70.6 522.6,72.5 523.2,72.3 523.8,74.5 524.4,74.9 525,76.2 525.6,77.2 526.2,77.7 526.8,79.5 527.4,79.4 528,79 528.6,81 529.2,77.7 529.8,81.8 530.4,81.7 531,82.6 531.6,84.5 532.2,83.6 532.8,82.7 533.4,81.9 534,81.2 534.6,81.4" fill="none" stroke="#ffd966" stroke-width="1.12" stroke-linejoin="round"/>
<polyline points="440,83.3 440.6,85.2 441.2,84 441.8,85.7 442.4,86.4 443,87.1 443.6,87.7 444.2,87 444.8,85.9 445.4,88.3 446,88.6 446.6,88.6 447.2,89 447.8,90.1 448.4,88.6 449,90.3 449.6,90.8 450.2,89.2 450.8,90.7 451.4,91.8 452,90.5 452.6,90 453.2,90.6 453.8,90.4 454.4,90.3 455,88.4 455.6,90.1 456.2,89.4 456.8,88.4 457.4,89.8 458,88.1 458.6,89.9 459.2,90.4 459.8,88.6 460.4,89.6 461,89 461.6,88.9 462.2,87.1 462.8,88.4 463.4,88.1 464,88 464.6,87.2 465.2,87.8 465.8,86.9 466.4,87 467,87.3 467.6,86.1 468.2,86.5 468.8,85.7 469.4,85.7 470,84.6 470.6,85.4 471.2,85.4 471.8,84.1 472.4,84.5 473,84 473.6,82.5 474.2,83.3 474.8,83.8 475.4,82.1 476,80.8 476.6,82.1 477.2,81.2 477.8,82.9 478.4,81.1 479,81.1 479.6,80.1 480.2,80.5 480.8,79.5 481.4,79 482,79.4 482.6,78.5 483.2,79.9 483.8,77.7 484.4,78.2 485,77.5 485.6,76.5 486.2,78.5 486.8,75.2 487.4,77.6 488,74.9 488.6,75.7 489.2,77 489.8,75.1 490.4,73.4 491,75.1 491.6,73.8 492.2,72.8 492.8,72.8 493.4,71.7 494,73.8 494.6,72.8 495.2,70.9 495.8,70.9 496.4,71.4 497,71.6 497.6,69.2 498.2,69.5 498.8,68.4 499.4,67.9 500,67.7 500.6,67.1 501.2,65.9 501.8,65.3 502.4,66.3 503,66.1 503.6,66.6 504.2,64.8 504.8,64.7 505.4,64.9 506,66.9 506.6,63.5 507.2,63.2 507.8,64.3 508.4,62.2 509,61.6 509.6,60.4 510.2,62.4 510.8,63 511.4,61.9 512,59.8 512.6,60.8 513.2,61.1 513.8,61.8 514.4,59.6 515,62 515.6,60.9 516.2,61 516.8,61 517.4,62.8 518,61.3 518.6,59.9 519.2,62.2 519.8,62 520.4,61.8 521,63.2 521.6,65.8 522.2,65.1 522.8,65.2 523.4,67.6 524,66.4 524.6,67.7 525.2,68.1 525.8,69.1 526.4,70.6 527,71.9 527.6,71 528.2,72.1 528.8,72.8 529.4,72.9 530,73.7 530.6,73.7 531.2,74.2 531.8,75.3 532.4,75 533,76.6 533.6,76.7 534.2,76.6 534.8,77.4" fill="none" stroke="#ffd34d" stroke-width="1.0" stroke-linejoin="round"/>
<polyline points="307.8,57.9 308.4,58.6 309,58.4 309.6,60.2 310.2,60 310.8,61 311.4,60.3 312,62.2 312.6,63.4 313.2,62.2 313.8,64.6 314.4,64.7 315,64.7 315.6,64.9 316.2,66.8 316.8,67 317.4,67.7 318,67.9 318.6,68.2 319.2,69.6 319.8,69.3 320.4,70.8 321,70.2 321.6,71.1 322.2,71.4 322.8,73.3 323.4,72.4 324,73.3 324.6,74.7 325.2,75.1 325.8,76.6 326.4,77 327,77 327.6,77.6 328.2,77 328.8,78 329.4,78.8 330,79.5 330.6,79.5 331.2,80.3 331.8,80.4 332.4,81.4 333,81.1 333.6,80.8 334.2,80.9 334.8,81.3 335.4,80.9 336,81.2 336.6,80.6 337.2,81.8 337.8,82 338.4,81.8 339,81.9 339.6,81.9 340.2,82.8 340.8,81.8 341.4,81 342,81.1 342.6,81.9 343.2,82 343.8,81.8 344.4,81.7 345,81.3 345.6,80.5 346.2,80.8 346.8,80.2 347.4,80.8 348,80.3 348.6,80.9 349.2,80.7 349.8,79.8 350.4,80.7 351,80.3 351.6,78.8 352.2,79.1 352.8,78.9 353.4,77.9 354,78 354.6,77.2 355.2,77.2 355.8,76.3 356.4,75.6 357,75.5 357.6,75.1 358.2,74.4 358.8,73.6 359.4,73 360,72.7 360.6,72.3 361.2,72.4 361.8,72.1 362.4,71.7 363,71.4 363.6,71.2 364.2,71.5 364.8,71.1 365.4,69.9 366,70.1 366.6,69.4 367.2,69.2 367.8,68.9 368.4,68.4 369,67.7 369.6,66.9 370.2,67.9 370.8,68.1 371.4,66.8 372,67.2 372.6,66.5 373.2,66.6 373.8,65.8 374.4,65.8 375,65.6 375.6,64.2 376.2,65.2 376.8,64.8 377.4,63.4 378,64.6 378.6,64 379.2,63.9 379.8,63.7 380.4,63 381,62.5 381.6,62.5 382.2,62.2 382.8,63.2 383.4,62.8 384,61.4 384.6,61.2 385.2,61.2 385.8,60.9 386.4,59.9 387,59.4 387.6,60.4 388.2,59.6 388.8,57.9 389.4,57.4 390,57.4 390.6,57.5 391.2,57.3 391.8,56.5 392.4,55.4 393,55.9 393.6,55.7 394.2,55 394.8,54.4 395.4,54.6 396,54 396.6,53.2 397.2,53.6 397.8,52.6 398.4,53.5 399,53 399.6,52 400.2,52.3 400.8,52.5 401.4,50.6 402,51.3 402.6,51.9 403.2,50.1 403.8,50.5 404.4,49.6 405,50 405.6,49.1 406.2,49.7 406.8,50.6 407.4,51.2 408,51.5 408.6,51.8 409.2,52.5 409.8,52.5 410.4,53 411,52.7 411.6,53.6 412.2,55.8 412.8,55.9 413.4,55.7 414,56.2 414.6,56.8 415.2,56.6 415.8,58.1 416.4,57.2 417,57.7 417.6,59.1 418.2,57.3 418.8,58.8 419.4,58.1 420,58.9 420.6,59.5 421.2,59.7 421.8,60.3 422.4,60.1 423,60.8 423.6,60.5 424.2,61.2 424.8,61.1 425.4,62.4 426,61.7 426.6,63 427.2,62.8 427.8,63.1 428.4,64.4 429,64.5 429.6,64.1 430.2,65.9 430.8,64.9 431.4,67.1 432,67.4 432.6,67.5 433.2,68.9 433.8,69.3 434.4,71.1 435,70.5 435.6,72.3 436.2,72.7 436.8,72.3 437.4,72.9 438,74.5 438.6,74.4 439.2,75.2 439.8,75.6 440.4,75.5 441,76.2 441.6,76.1 442.2,76.1 442.8,77 443.4,78.2 444,78.4 444.6,77.8 445.2,78.1 445.8,78.6 446.4,79.2 447,78.9 447.6,78.8 448.2,79.1 448.8,80.1 449.4,81 450,79.7 450.6,79 451.2,80.4 451.8,79.9 452.4,80.1 453,80.6 453.6,80 454.2,79.3 454.8,79 455.4,80 456,79.4 456.6,80.1 457.2,79.4 457.8,79.8 458.4,79.3 459,79.8 459.6,79.8 460.2,80.3 460.8,80.7 461.4,79.9 462,79.6 462.6,81 463.2,80.2 463.8,80.3 464.4,80.3 465,80.7 465.6,80.5 466.2,80.3 466.8,80.4 467.4,79.6 468,79.7 468.6,79.9 469.2,80 469.8,80 470.4,79.9 471,79.3 471.6,78.7 472.2,77.6 472.8,78.4 473.4,77.9 474,76.7 474.6,77 475.2,76.5 475.8,76 476.4,74.6 477,74.5 477.6,74.4 478.2,75.1 478.8,73.4 479.4,73.2 480,72.4 480.6,72.3 481.2,72.3 481.8,70.7 482.4,69.9 483,71.2 483.6,70.5 484.2,69.7 484.8,70.1 485.4,69.7 486,67.7 486.6,68.3 487.2,68.5 487.8,67.2 488.4,67 489,67.2 489.6,66.1 490.2,65.3 490.8,65.1 491.4,64.4 492,64.9 492.6,63.3 493.2,64.3 493.8,62.5 494.4,63 495,61.8 495.6,61.9 496.2,62.2 496.8,61.8 497.4,61.5 498,60.4 498.6,60.1 499.2,59.7 499.8,59.5 500.4,58.6 501,58.9 501.6,58.1 502.2,58.1 502.8,57.4 503.4,57 504,55.9 504.6,55.7 505.2,54.8 505.8,54.8 506.4,54.5 507,54.5 507.6,53 508.2,54.8 508.8,52.7 509.4,52.9 510,52.4 510.6,50.2 511.2,50.8 511.8,51.3 512.4,49.3 513,51.1 513.6,50.4 514.2,50.9 514.8,51.4 515.4,50.6 516,51.8 516.6,51.6 517.2,51.7 517.8,52.6 518.4,54.2 519,52.8 519.6,53.1 520.2,53 520.8,52.9 521.4,53.7 522,54.5 522.6,54.1 523.2,54.7 523.8,54.4 524.4,56 525,54.1 525.6,55.5 526.2,55.7 526.8,55.8 527.4,55.3 528,55.5 528.6,56.2 529.2,56.6 529.8,56.2 530.4,56.6 531,57.7 531.6,58.2 532.2,57.7 532.8,58 533.4,58.3 534,60.2 534.6,59.5" fill="none" stroke="#4472c4" stroke-width="1.25" stroke-linejoin="round"/>
<polyline points="440,78.9 440.6,81 441.2,83.3 441.8,82.7 442.4,80.4 443,82.8 443.6,83.2 444.2,84.1 444.8,83.8 445.4,85.5 446,85.3 446.6,87.6 447.2,87.9 447.8,86.8 448.4,87 449,89.1 449.6,91.1 450.2,91.3 450.8,90.5 451.4,86.4 452,89.6 452.6,89.2 453.2,89.5 453.8,88.3 454.4,89.1 455,88.7 455.6,92.6 456.2,90 456.8,88.8 457.4,88.8 458,88.5 458.6,88.7 459.2,87.9 459.8,88.2 460.4,89.3 461,88.9 461.6,88.1 462.2,89.2 462.8,87.7 463.4,86.1 464,85 464.6,86.1 465.2,86.7 465.8,87.1 466.4,87.8 467,85.6 467.6,85.2 468.2,86.9 468.8,87.3 469.4,85.1 470,86 470.6,86.8 471.2,85 471.8,84.1 472.4,81.2 473,84.9 473.6,83.6 474.2,82.5 474.8,81.3 475.4,79.9 476,80.9 476.6,80.4 477.2,81.4 477.8,78.2 478.4,80.9 479,78.8 479.6,79.7 480.2,76.7 480.8,77.8 481.4,78.5 482,76.8 482.6,74.4 483.2,75.4 483.8,76.1 484.4,73.3 485,72.9 485.6,74.5 486.2,72.7 486.8,74.2 487.4,71.6 488,70.4 488.6,71.3 489.2,73.6 489.8,70.4 490.4,71 491,70.9 491.6,69.1 492.2,71.1 492.8,69.6 493.4,69.6 494,66.6 494.6,66.1 495.2,64.5 495.8,67.1 496.4,66.6 497,67.3 497.6,67.7 498.2,65.2 498.8,64.7 499.4,65.1 500,65.9 500.6,62.7 501.2,63.9 501.8,62.4 502.4,61.9 503,62.8 503.6,60.4 504.2,59.6 504.8,61.2 505.4,59.9 506,59.2 506.6,58.9 507.2,59.2 507.8,57.7 508.4,58.8 509,58.2 509.6,59.3 510.2,58.8 510.8,58.2 511.4,56.7 512,57 512.6,55.9 513.2,59.9 513.8,56 514.4,56.8 515,57.6 515.6,54.6 516.2,55.4 516.8,56.2 517.4,55.7 518,55.6 518.6,56.8 519.2,59.2 519.8,58.7 520.4,58.2 521,58.4 521.6,56.6 522.2,59.7 522.8,59.6 523.4,58 524,59.8 524.6,59.6 525.2,59.4 525.8,59.1 526.4,59.7 527,59.6 527.6,61.6 528.2,61.7 528.8,61.9 529.4,61.5 530,61.5 530.6,64.7 531.2,60.2 531.8,64.1 532.4,63.3 533,63.2 533.6,62.8 534.2,63.4 534.8,62.5" fill="none" stroke="#5b9bd5" stroke-width="1.12" stroke-linejoin="round"/>
<polyline points="430,71.3 430.6,72.2 431.2,71.8 431.8,73.4 432.4,73.8 433,71.9 433.6,73.1 434.2,74.4 434.8,74.7 435.4,74.9 436,75.4 436.6,75.9 437.2,76.3 437.8,77 438.4,76.5 439,77.2 439.6,76.3 440.2,77.4 440.8,77.1 441.4,78.8 442,79.6 442.6,79 443.2,78.4 443.8,79.3 444.4,79.7 445,80.1 445.6,80.6 446.2,80.6 446.8,78.9 447.4,81 448,80.1 448.6,80.2 449.2,81.3 449.8,80.5 450.4,80 451,80.1 451.6,80.9 452.2,81.4 452.8,81.8 453.4,81 454,81 454.6,82.1 455.2,81.1 455.8,82.2 456.4,81.6 457,81.7 457.6,81.6 458.2,81.9 458.8,81.6 459.4,81.6 460,81.9 460.6,81.5 461.2,81.8 461.8,81.6 462.4,81.2 463,81.1 463.6,80.9 464.2,81.7 464.8,80.7 465.4,80.3 466,80.2 466.6,80.6 467.2,80 467.8,79.8 468.4,79.6 469,79.7 469.6,79.6 470.2,79.5 470.8,78.3 471.4,78.4 472,77.5 472.6,79 473.2,79 473.8,79 474.4,78.2 475,78.6 475.6,77.6 476.2,77.3 476.8,76.3 477.4,76.3 478,76.1 478.6,76.5 479.2,76.6 479.8,75.2 480.4,75.3 481,74.9 481.6,74.1 482.2,73.3 482.8,73.5 483.4,72.8 484,73 484.6,72.8 485.2,72.5 485.8,72.1 486.4,72.1 487,71.1 487.6,71.7 488.2,70.1 488.8,70.7 489.4,70.5 490,69.6 490.6,68.8 491.2,69.5 491.8,68.5 492.4,68.8 493,68.4 493.6,67.6 494.2,67.2 494.8,67.3 495.4,66.6 496,65.5 496.6,65.7 497.2,65.5 497.8,64.9 498.4,64.5 499,63.9 499.6,63.5 500.2,62.7 500.8,62.1 501.4,62.9 502,61.7 502.6,61.7 503.2,60.4 503.8,60.9 504.4,60 505,61.5 505.6,59.3 506.2,59.1 506.8,59.9 507.4,59.8 508,58 508.6,59 509.2,59.2 509.8,57.9 510.4,58.7 511,57.9 511.6,57.5 512.2,57.7 512.8,57.4 513.4,56.8 514,58.4 514.6,56.9 515.2,56.7 515.8,57.8 516.4,57.6 517,58.6 517.6,58.2 518.2,58.8 518.8,58.9 519.4,59.3 520,59.4 520.6,59.7 521.2,60.9 521.8,60 522.4,60.4 523,60.8 523.6,61.6 524.2,61.8 524.8,62.3 525.4,61.5 526,62.6 526.6,62.7 527.2,62.9 527.8,63.5 528.4,62.7 529,64.1 529.6,64.4 530.2,63.9 530.8,64.8 531.4,66 532,65.3 532.6,66.1 533.2,66 533.8,66 534.4,66.2 535,66.8" fill="none" stroke="#8faadc" stroke-width="1.0" stroke-linejoin="round"/>
<polyline points="430,74.6 430.6,74.7 431.2,74.3 431.8,75.4 432.4,75.2 433,75.2 433.6,76.1 434.2,75.8 434.8,75.8 435.4,77.5 436,76.3 436.6,77.8 437.2,77.1 437.8,78.1 438.4,78.4 439,78.6 439.6,78 440.2,79.4 440.8,79.7 441.4,79.6 442,80.4 442.6,81.2 443.2,80.7 443.8,81.5 444.4,81.1 445,82.2 445.6,82.4 446.2,83.4 446.8,82.7 447.4,82.5 448,83.1 448.6,82 449.2,83.1 449.8,82.4 450.4,82.4 451,83.3 451.6,83 452.2,83.6 452.8,82.3 453.4,83.2 454,82.9 454.6,83.1 455.2,82.4 455.8,83.9 456.4,83.6 457,83.1 457.6,83 458.2,83.3 458.8,84.5 459.4,83.9 460,83.8 460.6,84.1 461.2,83.8 461.8,83.7 462.4,83.9 463,83.6 463.6,83.7 464.2,82.6 464.8,83.1 465.4,82.7 466,82.8 466.6,82.7 467.2,82.2 467.8,82.3 468.4,82.8 469,81.9 469.6,81.5 470.2,82.2 470.8,82.3 471.4,81.6 472,81.7 472.6,81.1 473.2,81.3 473.8,81.8 474.4,81.5 475,81.1 475.6,80.6 476.2,79.6 476.8,80.3 477.4,80.1 478,80.1 478.6,80.3 479.2,79.2 479.8,79.2 480.4,77.9 481,78.8 481.6,78.3 482.2,78.3 482.8,77.7 483.4,77.3 484,77.5 484.6,76.2 485.2,76.6 485.8,76.5 486.4,75.3 487,74.8 487.6,75.3 488.2,74.9 488.8,74.9 489.4,74.6 490,73.6 490.6,73.8 491.2,73.8 491.8,72.6 492.4,72.3 493,71.5 493.6,72 494.2,72.2 494.8,70.1 495.4,70.8 496,70.4 496.6,69.3 497.2,69 497.8,68.3 498.4,68 499,68.1 499.6,67.9 500.2,67.3 500.8,67.2 501.4,66.5 502,65.4 502.6,66.3 503.2,65.8 503.8,64.5 504.4,65.3 505,64.2 505.6,63.8 506.2,64.5 506.8,62.1 507.4,62.3 508,63.2 508.6,62.5 509.2,61.9 509.8,62.8 510.4,62.1 511,61 511.6,61 512.2,61.5 512.8,61.8 513.4,59.7 514,60.5 514.6,60 515.2,59.2 515.8,60.3 516.4,59.8 517,60.6 517.6,61.8 518.2,61.5 518.8,61.9 519.4,62.1 520,62.2 520.6,62.7 521.2,61.9 521.8,62.6 522.4,63.4 523,62.9 523.6,63.2 524.2,64.3 524.8,64.7 525.4,64 526,64.2 526.6,65.3 527.2,65.5 527.8,65.4 528.4,66.3 529,66.7 529.6,66.8 530.2,68.6 530.8,68.2 531.4,68.3 532,68.7 532.6,70 533.2,69.5 533.8,68.9 534.4,69.8 535,70.1" fill="none" stroke="#9dc3e6" stroke-width="1.0" stroke-linejoin="round"/>
<polyline points="307.8,57.8 308.4,58.7 309,59.3 309.6,59.7 310.2,60.2 310.8,61.2 311.4,61 312,62.4 312.6,62.7 313.2,63.3 313.8,63 314.4,65.1 315,64.6 315.6,65.6 316.2,66.9 316.8,67.2 317.4,68 318,68.1 318.6,69.4 319.2,70.3 319.8,71.2 320.4,71.2 321,71.6 321.6,71.8 322.2,71.6 322.8,71.8 323.4,72.8 324,72.1 324.6,72.9 325.2,72.7 325.8,73.3 326.4,72.8 327,73.3 327.6,73.4 328.2,73.4 328.8,73.8 329.4,73.6 330,74 330.6,74.1 331.2,74.7 331.8,74.7 332.4,74.5 333,75.1 333.6,75.4 334.2,75.4 334.8,76.3 335.4,76.2 336,76.6 336.6,76.3 337.2,76.7 337.8,77.4 338.4,76.8 339,77.6 339.6,77.8 340.2,77.8 340.8,78 341.4,77.6 342,78.1 342.6,77.7 343.2,77.7 343.8,78.5 344.4,77.9 345,77.5 345.6,78.5 346.2,78 346.8,77.2 347.4,78.3 348,78.6 348.6,78.5 349.2,78.9 349.8,78.4 350.4,78.4 351,77.7 351.6,77.8 352.2,77.9 352.8,77.3 353.4,77 354,76.1 354.6,76.3 355.2,75.7 355.8,76.1 356.4,75.4 357,75.4 357.6,74.8 358.2,75.4 358.8,74.2 359.4,74.3 360,74.8 360.6,73.6 361.2,72.9 361.8,72.9 362.4,72.6 363,72.1 363.6,70.8 364.2,71.1 364.8,69.9 365.4,70.7 366,69.7 366.6,69.1 367.2,69 367.8,68.5 368.4,67.6 369,68 369.6,67 370.2,66.2 370.8,66.8 371.4,66.5 372,66.1 372.6,65.6 373.2,64.9 373.8,65.1 374.4,65.1 375,64.4 375.6,64.4 376.2,63.4 376.8,63.6 377.4,63.2 378,62.2 378.6,61.9 379.2,61.8 379.8,61.7 380.4,61.5 381,61 381.6,60.8 382.2,60.4 382.8,60.2 383.4,60 384,59.7 384.6,59.2 385.2,59 385.8,58.4 386.4,58.3 387,57.5 387.6,57.7 388.2,56.9 388.8,56.5 389.4,55.9 390,55.6 390.6,55.3 391.2,54.9 391.8,54.2 392.4,53.5 393,53.7 393.6,53.4 394.2,53.3 394.8,53.4 395.4,51.6 396,49.4 396.6,50.4 397.2,48 397.8,47.8 398.4,49.7 399,48.5 399.6,46.5 400.2,46.1 400.8,47 401.4,45.4 402,48.2 402.6,47.5 403.2,50.2 403.8,47.3 404.4,49.8 405,48.2 405.6,51 406.2,49.7 406.8,52.6 407.4,52.2 408,52.7 408.6,54.4 409.2,56 409.8,56.9 410.4,58.9 411,58.6 411.6,55.3 412.2,58.3 412.8,57.2 413.4,59.4 414,61 414.6,59.6 415.2,60.2 415.8,61.5 416.4,61.3 417,62.8 417.6,61.9 418.2,62.2 418.8,63 419.4,61.7 420,62.1 420.6,62.1 421.2,63.2 421.8,64.1 422.4,64.8 423,64.5 423.6,64.6 424.2,65 424.8,65.1 425.4,66.5 426,67.6 426.6,66 427.2,66.6 427.8,69.1 428.4,67.9 429,69.4 429.6,69 430.2,70.6 430.8,71 431.4,71 432,71.8 432.6,71.8 433.2,72.4 433.8,73.5 434.4,73.5 435,72.9 435.6,73.2 436.2,73.9 436.8,74.3 437.4,74.9 438,74.9 438.6,76 439.2,76 439.8,76.6 440.4,76.6 441,77 441.6,76.1 442.2,77.7 442.8,77.1 443.4,77.2 444,77.4 444.6,77.7 445.2,77.6 445.8,77.4 446.4,77.3 447,76.5 447.6,77.6 448.2,77.4 448.8,77.5 449.4,79.1 450,76.8 450.6,77.9 451.2,78.5 451.8,78.4 452.4,78.5 453,77.1 453.6,77.3 454.2,78.2 454.8,77.7 455.4,78.8 456,78 456.6,78 457.2,78.1 457.8,77.7 458.4,77.9 459,77.5 459.6,77.8 460.2,77.5 460.8,77.9 461.4,76.9 462,76.8 462.6,77.8 463.2,77.6 463.8,76.8 464.4,77.1 465,76.6 465.6,78.3 466.2,76.2 466.8,77.9 467.4,76.4 468,77 468.6,76.6 469.2,76.4 469.8,77.1 470.4,76.8 471,75.9 471.6,75.2 472.2,76.5 472.8,75.8 473.4,74.8 474,74.3 474.6,74.3 475.2,73.9 475.8,74.1 476.4,72.7 477,72.9 477.6,72.2 478.2,72.9 478.8,72.8 479.4,71.6 480,71.6 480.6,71.7 481.2,70.5 481.8,69.9 482.4,70.5 483,70 483.6,69.3 484.2,69.8 484.8,68.9 485.4,67.7 486,68.3 486.6,67.8 487.2,68.3 487.8,67.2 488.4,66.8 489,66.8 489.6,66.4 490.2,65.3 490.8,65.4 491.4,64.7 492,64.9 492.6,64.7 493.2,62.8 493.8,62.4 494.4,61.9 495,61.4 495.6,60.9 496.2,60.7 496.8,60.5 497.4,59.1 498,58.5 498.6,57.9 499.2,58.5 499.8,58 500.4,56.4 501,55.7 501.6,56.1 502.2,56.2 502.8,55.7 503.4,54.6 504,54.6 504.6,53.8 505.2,52.4 505.8,54.6 506.4,52.2 507,50.7 507.6,50.9 508.2,49.4 508.8,50.7 509.4,51.4 510,48.6 510.6,51.5 511.2,52.9 511.8,51.6 512.4,50.4 513,51.1 513.6,52.1 514.2,51.5 514.8,52 515.4,53.5 516,54 516.6,55.2 517.2,53.8 517.8,57.4 518.4,57 519,57.2 519.6,56 520.2,58.9 520.8,57.1 521.4,59.8 522,59.3 522.6,57.6 523.2,58.5 523.8,61.3 524.4,60.7 525,59.9 525.6,60.6 526.2,61 526.8,60.4 527.4,61.3 528,61.2 528.6,61.8 529.2,63 529.8,62.1 530.4,63.9 531,63.7 531.6,64.6 532.2,65 532.8,65.6 533.4,65.5 534,65.9 534.6,65.7" fill="none" stroke="#70ad47" stroke-width="1.25" stroke-linejoin="round"/>
<polyline points="355,75.9 355.6,75.3 356.2,75.3 356.8,75.4 357.4,75 358,75 358.6,74.3 359.2,74.9 359.8,74.1 360.4,74.2 361,73.9 361.6,74 362.2,73.5 362.8,73.1 363.4,72.6 364,72.9 364.6,72.5 365.2,72.8 365.8,72.9 366.4,71.6 367,71.7 367.6,72 368.2,72.1 368.8,71.7 369.4,71.5 370,71.4 370.6,71.1 371.2,71.2 371.8,70.6 372.4,69.8 373,69.7 373.6,69.7 374.2,69.1 374.8,69 375.4,68.7 376,68.3 376.6,68.5 377.2,67.9 377.8,67.4 378.4,67.3 379,67.2 379.6,67.6 380.2,66.8 380.8,66.9 381.4,66.3 382,65.2 382.6,65.7 383.2,65.1 383.8,64.7 384.4,64.5 385,65.1 385.6,63.6 386.2,63.4 386.8,63.5 387.4,62.9 388,61.7 388.6,61.7 389.2,61.1 389.8,60.7 390.4,60.5 391,59.7 391.6,59.3 392.2,59.4 392.8,57.5 393.4,57.8 394,58 394.6,55.8 395.2,55.8 395.8,53.9 396.4,55.2 397,53.1 397.6,54.9 398.2,54.7 398.8,51.9 399.4,50.2 400,50.7 400.6,50.5 401.2,48.2 401.8,53.1 402.4,51.6 403,53 403.6,48.9 404.2,53.6 404.8,56.3 405.4,53.8 406,50.3 406.6,53.9 407.2,54.3 407.8,55.4 408.4,55.1 409,57.2 409.6,55.8 410.2,57.8 410.8,56.3 411.4,58.4 412,60.6 412.6,58 413.2,60.6 413.8,58.3 414.4,59.6 415,60.3 415.6,62.9 416.2,60.4 416.8,63.4 417.4,60.5 418,62.5 418.6,64 419.2,64.2 419.8,63.1 420.4,63.4 421,65.6 421.6,64.3 422.2,66.3 422.8,65.9 423.4,66.8 424,69.1 424.6,69 425.2,68.9 425.8,67.6 426.4,69.4 427,69.7 427.6,70.1 428.2,71.7 428.8,69.7 429.4,71.8 430,72.2 430.6,71.8 431.2,74.2 431.8,72.1 432.4,73.5 433,73.9 433.6,72.5 434.2,73.4 434.8,74.2 435.4,75.9 436,76.4 436.6,76.5 437.2,76.6 437.8,75 438.4,77.3 439,77 439.6,78.8 440.2,79.2 440.8,80 441.4,78.8 442,79 442.6,77.6 443.2,78.6 443.8,77.6 444.4,79.4 445,77.8 445.6,78.6 446.2,78.2 446.8,78.6 447.4,79.4 448,78.7 448.6,79.4 449.2,78.5 449.8,80.5 450.4,78.9 451,80.3 451.6,81.3 452.2,77.7 452.8,79 453.4,79.7 454,80.9 454.6,79.6 455.2,80.3 455.8,79.4 456.4,80.3 457,78.8 457.6,80.4 458.2,77.2 458.8,78 459.4,81 460,79.5 460.6,78.6 461.2,81 461.8,80 462.4,80 463,78.6 463.6,79.4 464.2,79.2 464.8,77.4 465.4,79.2 466,78.4 466.6,79.6 467.2,79.5 467.8,77.8 468.4,77.8 469,78.3 469.6,78.6 470.2,77.6 470.8,77.6 471.4,77.8 472,77.4 472.6,77.7 473.2,76.6 473.8,75.5 474.4,74.5 475,76.2 475.6,75 476.2,74.7 476.8,74.4 477.4,73.2 478,73.8 478.6,71.9 479.2,73.2 479.8,72.5 480.4,74.2 481,72.9 481.6,72.1 482.2,72.1 482.8,72.1 483.4,70.8 484,70.9 484.6,70.5 485.2,72.1 485.8,70.2 486.4,68.6 487,70.1 487.6,70.9 488.2,68.3 488.8,70.8 489.4,68.3 490,68.7 490.6,67.2 491.2,66.9 491.8,65.9 492.4,65.5 493,64.4 493.6,65.8 494.2,64 494.8,64.4 495.4,63.9 496,62.9 496.6,62.8 497.2,62.2 497.8,61.5 498.4,61.3 499,60.9 499.6,59.8 500.2,59.2 500.8,58.8 501.4,59 502,59.7 502.6,59.5 503.2,57.9 503.8,58.3 504.4,56.7 505,57.8 505.6,56.1 506.2,56.3 506.8,55.1 507.4,55.4 508,58.1 508.6,53.2 509.2,54.8 509.8,53.7 510.4,56 511,57.1 511.6,53.6 512.2,49.6 512.8,54.7 513.4,54.5 514,50.8 514.6,52.8 515.2,53.1 515.8,49.9 516.4,54.8 517,54.8 517.6,54.8 518.2,53 518.8,53.9 519.4,54.3 520,56.3 520.6,54.4 521.2,58.5 521.8,57.1 522.4,53.4 523,59.7 523.6,57.6 524.2,56.8 524.8,58.1 525.4,55.5 526,59 526.6,55.5 527.2,58 527.8,61.6 528.4,61.8 529,60 529.6,59.6 530.2,62.3 530.8,61.5 531.4,62.1 532,62.9 532.6,61.5 533.2,63.7 533.8,61.4 534.4,65 535,62.7" fill="none" stroke="#6fbf4a" stroke-width="1.12" stroke-linejoin="round"/>
<polyline points="307.8,65.4 308.4,66.5 309,69.9 309.6,71.3 310.2,71.6 310.8,72.6 311.4,73.1 312,72.3 312.6,67.9 313.2,67 313.8,67.2 314.4,74.5 315,74.5 315.6,75.6 316.2,77.6 316.8,76.8 317.4,75 318,74.1 318.6,73.5 319.2,85.1 319.8,84.8 320.4,77.4 321,81.6 321.6,84.5 322.2,88.9 322.8,81.5 323.4,84.7 324,88.5 324.6,78.5 325.2,82.5 325.8,85.4 326.4,83.3 327,94 327.6,89.8 328.2,87.7 328.8,83.8 329.4,90.9 330,90.5 330.6,86.3 331.2,86.7 331.8,83 332.4,88.3 333,92 333.6,92.6 334.2,91.2 334.8,92.2 335.4,86.9 336,87.5 336.6,94.1 337.2,91.3 337.8,86.6 338.4,91.7 339,93.1 339.6,92.8 340.2,90.5 340.8,87.8 341.4,91.1 342,96 342.6,89.7 343.2,86.2 343.8,89.9 344.4,83.4 345,89 345.6,86.8 346.2,91.8 346.8,88.3 347.4,92.1 348,97.1 348.6,86.8 349.2,84.2 349.8,89.4 350.4,86.8 351,87.1 351.6,83.9 352.2,87.3 352.8,85.2 353.4,78.4 354,83.3 354.6,84.1 355.2,85.2 355.8,81.1 356.4,80.3 357,82.5 357.6,79.7 358.2,79.9 358.8,79.6 359.4,79.3 360,78 360.6,76.5 361.2,78 361.8,76.2 362.4,75.6 363,77.4 363.6,75.9 364.2,73.7 364.8,73.7 365.4,73.5 366,72.6 366.6,71 367.2,73 367.8,72.5 368.4,71.5 369,70.5 369.6,70.5 370.2,70.5 370.8,68.7 371.4,69 372,68.5 372.6,69.2 373.2,68.5 373.8,66.9 374.4,67.2 375,68.8 375.6,66.2 376.2,66.8 376.8,65.9 377.4,67.1 378,65.7 378.6,65.1 379.2,64.2 379.8,64.6 380.4,65.1 381,64.7 381.6,62.8 382.2,64.7 382.8,63 383.4,62 384,62.6 384.6,61.7 385.2,61.4 385.8,61 386.4,61.1 387,60.4 387.6,59.2 388.2,60.5 388.8,59.3 389.4,60.3 390,59.4 390.6,59.2 391.2,58.5 391.8,59.3 392.4,57.2 393,55.9 393.6,57.3 394.2,52.3 394.8,55.5 395.4,55.9 396,54 396.6,56.6 397.2,54.8 397.8,52.9 398.4,51 399,53.7 399.6,49 400.2,49.2 400.8,52 401.4,51.9 402,55.4 402.6,50.6 403.2,47.1 403.8,53 404.4,54.6 405,51.7 405.6,56.2 406.2,57.4 406.8,52.7 407.4,53.8 408,52.8 408.6,57.5 409.2,58.7 409.8,59.1 410.4,55.7 411,57.4 411.6,56.5 412.2,56.8 412.8,57.9 413.4,58 414,61.9 414.6,64 415.2,65.4 415.8,64.8 416.4,64.2 417,67.1 417.6,69.8 418.2,68.5 418.8,70.5 419.4,70.7 420,71.1 420.6,73.9 421.2,72 421.8,79.3 422.4,73.2 423,80.1 423.6,76.3 424.2,85.5 424.8,85 425.4,81.3 426,83.1 426.6,81.9 427.2,85.7 427.8,87.8 428.4,94.5 429,84.4 429.6,92.4 430.2,88.1 430.8,91.1 431.4,93.4 432,93.1 432.6,93.4 433.2,92.3 433.8,93.4 434.4,94.5 435,98 435.6,90.3 436.2,92.7 436.8,90.3 437.4,90.8 438,90.9 438.6,95.9 439.2,98.5 439.8,96 440.4,88.7 441,91.9 441.6,88.6 442.2,92.3 442.8,93.9 443.4,92 444,92.3 444.6,89.9 445.2,86.2 445.8,86.1 446.4,89.3 447,90.2 447.6,90.9 448.2,88.2 448.8,88.6 449.4,88.6 450,89.2 450.6,87.7 451.2,86.4 451.8,88.7 452.4,87.7 453,87.5 453.6,85.5 454.2,86.7 454.8,84.7 455.4,84.2 456,85.9 456.6,85.5 457.2,86.5 457.8,87.3 458.4,85.4 459,87.3 459.6,84.5 460.2,85.8 460.8,83.4 461.4,84.9 462,84.2 462.6,84.2 463.2,85 463.8,82.1 464.4,84.2 465,83.1 465.6,84 466.2,84.2 466.8,83.2 467.4,83.1 468,82.1 468.6,83.9 469.2,82.4 469.8,83.5 470.4,81.2 471,83.9 471.6,80.8 472.2,82.9 472.8,80.7 473.4,81.4 474,80.2 474.6,80.8 475.2,79.6 475.8,80.6 476.4,79.6 477,79.2 477.6,79.9 478.2,76.9 478.8,78.7 479.4,77 480,74.9 480.6,76.6 481.2,75.5 481.8,77.2 482.4,74.4 483,74.6 483.6,74.4 484.2,71.7 484.8,73.9 485.4,71.9 486,74.2 486.6,74.1 487.2,71.8 487.8,69.7 488.4,71.2 489,70.8 489.6,71.1 490.2,69.5 490.8,68 491.4,68.7 492,67.4 492.6,69.9 493.2,66.7 493.8,66.2 494.4,66.4 495,64.6 495.6,65 496.2,64.9 496.8,64 497.4,63.8 498,65 498.6,63.6 499.2,61.2 499.8,61.7 500.4,62.5 501,60.5 501.6,60.8 502.2,60.2 502.8,60.3 503.4,59.1 504,58.6 504.6,57.4 505.2,58.3 505.8,56.7 506.4,59.5 507,57.4 507.6,57 508.2,57.9 508.8,56.8 509.4,56.8 510,56.4 510.6,55.5 511.2,55.1 511.8,55.2 512.4,57 513,54.9 513.6,55 514.2,54.7 514.8,55.8 515.4,57.5 516,54.7 516.6,56.7 517.2,56.7 517.8,56.6 518.4,57.9 519,56.4 519.6,59.1 520.2,58.9 520.8,58 521.4,61.2 522,60.8 522.6,61.6 523.2,59.1 523.8,60.9 524.4,61 525,62.7 525.6,64 526.2,60.9 526.8,63.5 527.4,63.8 528,65.5 528.6,64.8 529.2,64 529.8,65.6 530.4,65.2 531,65.9 531.6,67.3 532.2,67.2 532.8,68.5 533.4,67 534,71.8 534.6,71.1" fill="none" stroke="#8cc86a" stroke-width="1.12" stroke-linejoin="round"/>
<polyline points="395,54.7 395.6,52.2 396.2,50.8 396.8,51.7 397.4,51.8 398,53.9 398.6,52.5 399.2,50.1 399.8,51.4 400.4,51.2 401,49.8 401.6,50.9 402.2,49.9 402.8,48.8 403.4,48.1 404,49.1 404.6,50.1 405.2,47.8 405.8,47.9 406.4,50.5 407,47.6 407.6,52.6 408.2,50.7 408.8,52.3 409.4,53.9 410,50.9 410.6,51.6 411.2,55.2 411.8,52.9 412.4,53.3 413,54 413.6,55.1 414.2,55.6 414.8,54.7 415.4,54.5 416,55.1 416.6,55.7 417.2,57 417.8,56 418.4,58 419,55.6 419.6,57.3 420.2,58.9 420.8,58.9 421.4,58.4 422,57.6 422.6,58.3 423.2,59.3 423.8,60.3 424.4,60.2 425,59.5 425.6,60.7 426.2,62.5 426.8,63.3 427.4,61.5 428,63 428.6,62.4 429.2,64.2 429.8,69.1 430.4,66.2 431,66.4 431.6,66.9 432.2,66.9 432.8,66.9 433.4,69.5 434,69.9 434.6,72.4 435.2,70 435.8,73.4 436.4,75.6 437,73.5 437.6,77.4 438.2,76.3 438.8,79.7 439.4,82 440,81.7 440.6,87.6 441.2,91.5 441.8,98.8 442.4,103.3 443,101.6 443.6,102.9 444.2,105.3 444.8,107.5 445.4,102.5 446,106.5 446.6,105.1 447.2,108 447.8,109.5 448.4,108.1 449,110.5 449.6,105.6 450.2,107 450.8,105.6 451.4,107.9 452,107.8 452.6,107 453.2,104.6 453.8,107.1 454.4,106.1 455,108.4 455.6,106.5 456.2,109.9 456.8,107.9 457.4,103.3 458,107.2 458.6,104.5 459.2,110 459.8,111.2 460.4,107.7 461,108.4 461.6,103.8 462.2,101.6 462.8,105.1 463.4,105.4 464,102.2 464.6,105.4 465.2,105.5 465.8,105.5 466.4,106.7 467,104.3 467.6,99.7 468.2,98.8 468.8,97.8 469.4,92.7 470,94.8 470.6,92.9 471.2,90.8 471.8,89.8 472.4,93.9 473,90.3 473.6,89.8 474.2,90.2 474.8,88.8 475.4,87.4 476,87.4 476.6,85.2 477.2,86.3 477.8,83.4 478.4,84.9 479,84.5 479.6,81.8 480.2,84.8 480.8,81.3 481.4,83.1 482,81.1 482.6,81.5 483.2,80.1 483.8,82.9 484.4,81 485,81.4 485.6,79.9 486.2,79.4 486.8,78.4 487.4,77.6 488,78 488.6,77.2 489.2,76.4 489.8,74.7 490.4,75.4 491,75.9 491.6,74.4 492.2,74.8 492.8,73.9 493.4,72.6 494,72.3 494.6,72 495.2,72 495.8,71.4 496.4,72.2 497,69.3 497.6,67.7 498.2,69.9 498.8,68.1 499.4,67.8 500,69.9 500.6,68.2 501.2,66.7 501.8,66.4 502.4,65 503,65.2 503.6,63 504.2,62.2 504.8,61.9 505.4,63.1 506,62.2 506.6,59 507.2,59.9 507.8,57.6 508.4,57.9 509,55.6 509.6,55.9 510.2,54.7 510.8,56.1 511.4,57.9 512,59.7 512.6,60.8 513.2,61.8 513.8,66.7 514.4,66.4 515,66.8 515.6,67.2 516.2,67.6 516.8,70.8 517.4,73.8 518,71.6 518.6,73.9 519.2,73.3 519.8,77.3 520.4,77.7 521,79.1 521.6,81.6 522.2,83.3 522.8,84 523.4,83.8 524,84.4 524.6,86.1 525.2,86.8 525.8,91.7 526.4,90.9 527,92.4 527.6,93.7 528.2,96.9 528.8,95.5 529.4,98.5 530,98.9 530.6,98.7 531.2,97.2 531.8,100.5 532.4,99.1 533,99.7 533.6,100.7 534.2,100.9 534.8,102.3" fill="none" stroke="#2f5597" stroke-width="1.38" stroke-linejoin="round"/>
<polyline points="436,78.7 436.6,82.2 437.2,84.3 437.8,85.5 438.4,88.7 439,88.6 439.6,93.4 440.2,91.2 440.8,91.3 441.4,95.7 442,99.8 442.6,98 443.2,99 443.8,100.2 444.4,101.8 445,101.7 445.6,103.3 446.2,99.7 446.8,107 447.4,105.2 448,102.1 448.6,106.6 449.2,104.6 449.8,106.6 450.4,101 451,106.7 451.6,103.3 452.2,98.9 452.8,104.8 453.4,102.7 454,101.3 454.6,103.1 455.2,99.6 455.8,104.9 456.4,103.4 457,103.4 457.6,106.9 458.2,104 458.8,102.3 459.4,101.3 460,102.8 460.6,104.8 461.2,101.1 461.8,99.8 462.4,103.5 463,101.4 463.6,100.8 464.2,104.8 464.8,97.7 465.4,100.1 466,95.4 466.6,97.9 467.2,99.1 467.8,99.6 468.4,94.1 469,97.8 469.6,97.1 470.2,94.7 470.8,99.5 471.4,93.9 472,91.5 472.6,93.7 473.2,88.4 473.8,95 474.4,93.3 475,89.9 475.6,91.4 476.2,90.8 476.8,93.1 477.4,87.3 478,85.4" fill="none" stroke="#3a62b0" stroke-width="1.25" stroke-linejoin="round"/>
<line x1="443.7" y1="100.3" x2="443.7" y2="112.2" stroke="#3a62b0" stroke-width="1.0"/>
<line x1="446.4" y1="100.4" x2="446.4" y2="107.9" stroke="#2f5597" stroke-width="1.0"/>
<line x1="447.4" y1="99.7" x2="447.4" y2="112.2" stroke="#4472c4" stroke-width="1.0"/>
<line x1="455.2" y1="100.1" x2="455.2" y2="110.2" stroke="#4472c4" stroke-width="1.0"/>
<line x1="459.2" y1="99.8" x2="459.2" y2="109.4" stroke="#3a62b0" stroke-width="1.0"/>
<line x1="460.8" y1="98.7" x2="460.8" y2="110.7" stroke="#2f5597" stroke-width="1.0"/>
<line x1="461.7" y1="99.3" x2="461.7" y2="105.4" stroke="#3a62b0" stroke-width="1.0"/>
<line x1="463.2" y1="100" x2="463.2" y2="109" stroke="#3a62b0" stroke-width="1.0"/>
<line x1="469.9" y1="101.3" x2="469.9" y2="108.3" stroke="#4472c4" stroke-width="1.0"/>
<line x1="468.9" y1="80" x2="468.9" y2="70" stroke="#ffc000" stroke-width="1.2"/>
<line x1="478" y1="75" x2="478" y2="56.3" stroke="#ffc000" stroke-width="1.2"/>
<line x1="502" y1="66" x2="502" y2="47.8" stroke="#ffc000" stroke-width="1.2"/>
<line x1="497" y1="70" x2="497" y2="63" stroke="#ffc000" stroke-width="1.2"/>
<polyline points="43.1,246.6 43.6,242.4 44.1,234.8 44.6,230.2 45.1,226.8 45.6,230.2 46.1,233.9 46.6,240.7 47.1,240.4 47.6,237.8 48.1,235.4 48.6,229.6 49.1,230.7 49.6,237.8 50.1,237.9 50.6,240.1 51.1,241.3 51.6,240.4 52.1,239.2 52.6,239.7 53.1,239.6 53.6,241.3 54.1,245.1 54.6,244.9 55.1,244.2 55.6,245.8 56.1,243.4 56.6,244.3 57.1,242.3 57.6,242 58.1,245.9 58.6,245.9 59.1,248.4 59.6,248.1 60.1,247.8 60.6,244 61.1,245 61.6,246.9 62.1,249.8 62.6,248.3 63.1,250.2 63.6,248.5 64.1,246.2 64.6,242.3 65.1,241.7 65.6,239.5 66.1,236.4 66.6,236.6 67.1,236.9 67.6,238 68.1,240.1 68.6,241.9 69.1,241.1 69.6,242.1 70.1,243.7 70.6,246.7 71.1,244.8 71.6,243.9 72.1,243.1 72.6,242.9 73.1,243.6 73.6,243.8 74.1,245.6 74.6,247.7 75.1,249 75.6,248.6 76.1,249.1 76.6,251.6 77.1,250 77.6,251.3 78.1,251.2 78.6,251.1 79.1,250.2 79.6,251 80.1,250.3 80.6,251.9 81.1,249.3 81.6,249.9 82.1,250.8 82.6,249.6 83.1,249.9 83.6,250 84.1,247.3 84.6,249.2 85.1,249 85.6,252 86.1,250.8 86.6,251.9 87.1,253.6 87.6,251.7 88.1,248.2 88.6,247.6 89.1,248 89.6,250.9 90.1,251.6 90.6,253 91.1,253.1 91.6,253.7 92.1,253.9 92.6,254.2 93.1,253 93.6,255.5 94.1,256.3 94.6,255.6 95.1,255.3 95.6,255.9 96.1,255.9 96.6,255.9 97.1,257.3 97.6,254.2 98.1,255.4 98.6,255.6 99.1,254.7 99.6,254.9 100.1,254.5 100.6,255.5 101.1,257.5 101.6,258.9 102.1,256.6 102.6,258 103.1,258.2 103.6,258.9 104.1,258.2 104.6,258.5 105.1,259.2 105.6,257 106.1,258.5 106.6,256.6 107.1,255.7 107.6,255.7 108.1,253.7 108.6,254.7 109.1,254 109.6,251.4 110.1,250.8 110.6,250 111.1,249.2 111.6,248.9 112.1,248.4 112.6,248.2 113.1,249.4 113.6,251.3 114.1,249.8 114.6,245.5 115.1,245.4 115.6,244 116.1,246.3 116.6,244 117.1,245 117.6,246.9 118.1,247.5 118.6,247.5 119.1,250.5 119.6,249 120.1,249.9 120.6,249.6 121.1,252.8 121.6,252.5 122.1,252.6 122.6,251 123.1,253.8 123.6,253.4 124.1,255 124.6,256.1 125.1,254.9 125.6,256.5 126.1,257.4 126.6,255.9 127.1,254.8 127.6,253.3 128.1,253.1 128.6,251.8 129.1,249.9 129.6,244.6 130.1,238.8 130.6,236.3 131.1,230.9 131.6,225.6 132.1,228.5 132.6,226.4 133.1,221.4 133.6,221.8 134.1,224.8 134.6,226.1 135.1,227.5 135.6,229.7 136.1,231 136.6,231.7 137.1,233.5 137.6,234.1 138.1,234.5 138.6,235.4 139.1,233.2 139.6,236.4 140.1,232.6 140.6,234.2 141.1,236.9 141.6,242.8 142.1,240.2 142.6,238.9 143.1,233.9 143.6,232.7 144.1,233.1 144.6,232.7 145.1,232.8 145.6,235.1 146.1,233.2 146.6,234.4 147.1,236.7 147.6,238.9 148.1,235.8 148.6,229.3 149.1,221.9 149.6,213.6 150.1,212.3 150.6,215.9 151.1,216 151.6,221.3 152.1,223.5 152.6,228.6 153.1,224.3 153.6,220.1 154.1,214.5 154.6,215.4 155.1,213.1 155.6,213.3 156.1,215.6 156.6,214.8 157.1,217 157.6,216.3 158.1,214.1 158.6,212.6 159.1,216.1 159.6,216.7 160.1,220.9 160.6,221.9 161.1,222.2 161.6,224 162.1,223.1 162.6,226.7 163.1,225.8 163.6,221 164.1,220.7 164.6,224.6 165.1,225.8 165.6,225.6 166.1,222.4 166.6,221.3 167.1,219.2 167.6,212.8 168.1,210.9 168.6,211.3 169.1,214.2 169.6,217.4 170.1,220.4 170.6,223.1 171.1,228.4 171.6,226.4" fill="none" stroke="#f4975a" stroke-width="1.0" stroke-linejoin="round"/>
<polyline points="50,293.2 50.6,293.8 51.2,293.5 51.8,293.5 52.4,294 53,293.3 53.6,294.1 54.2,294.3 54.8,294.2 55.4,293.9 56,294.1 56.6,293.5 57.2,294.2 57.8,294.4 58.4,294.7 59,294.5 59.6,294.4 60.2,294.3 60.8,294.8 61.4,295 62,295.6 62.6,295.3 63.2,295.2 63.8,295.5 64.4,297.1 65,299.8 65.6,300.5 66.2,296.9 66.8,296.3 67.4,299.3 68,298.6 68.6,297.7 69.2,297.4 69.8,296.6 70.4,297.6 71,297.4 71.6,297.1 72.2,298 72.8,297 73.4,297.2 74,297.7 74.6,298 75.2,297.9 75.8,297.2 76.4,298.1 77,298.3 77.6,299.4 78.2,299 78.8,298.6 79.4,298.3 80,298.9 80.6,298.4 81.2,299 81.8,299.2 82.4,299 83,299.3 83.6,299.1 84.2,299.1 84.8,300 85.4,299.7 86,299.4 86.6,299.3 87.2,299.8 87.8,300 88.4,300.2 89,300.5 89.6,300.2 90.2,299.7 90.8,301 91.4,300.7 92,300.7 92.6,300.9 93.2,299.9 93.8,300.4 94.4,300.4 95,301.2 95.6,300.4 96.2,300.8 96.8,301.7 97.4,301.5 98,301.2 98.6,302.2 99.2,301.1 99.8,301.9 100.4,301.8 101,302.2 101.6,302 102.2,301.9 102.8,302.5 103.4,302 104,302.9 104.6,302.6 105.2,303.3 105.8,302.9 106.4,302.9 107,303.4 107.6,303.9 108.2,302.4 108.8,302.5 109.4,302 110,300.4 110.6,299.9" fill="none" stroke="#3f8a4a" stroke-width="1.12" stroke-linejoin="round"/>
<polyline points="118,297.5 118.6,297.1 119.2,297.4 119.8,298.6 120.4,297.6 121,297.9 121.6,297.5 122.2,298.2 122.8,298.4 123.4,299.9 124,299.9 124.6,299 125.2,300.6 125.8,300.3 126.4,300.1 127,300.8 127.6,299.9 128.2,298.8 128.8,297.7 129.4,297.4 130,297.2 130.6,296.8 131.2,296.4 131.8,297 132.4,295.8 133,296.5 133.6,295.6 134.2,295.7 134.8,294.9 135.4,295.1 136,294.6 136.6,293.9 137.2,294.5 137.8,294.2 138.4,294.4 139,293.9 139.6,293.1 140.2,293.1 140.8,292.2 141.4,292.7 142,293.7 142.6,293.7 143.2,293.3 143.8,293 144.4,293.1 145,293 145.6,291.9 146.2,292.2 146.8,293 147.4,293 148,292.5 148.6,292.1 149.2,292 149.8,291.9 150.4,291.4 151,290.5 151.6,291 152.2,290.4 152.8,290 153.4,290.5 154,289.6 154.6,288.6 155.2,288.7 155.8,287.4 156.4,288.1 157,287.3 157.6,286.7 158.2,286.6 158.8,286.6 159.4,285.4 160,284.8 160.6,285.8 161.2,284.5 161.8,284.8 162.4,283.5 163,283.6 163.6,282.8 164.2,283.1 164.8,282.3 165.4,282 166,283 166.6,282.5 167.2,281.5 167.8,282.3 168.4,282.1 169,282 169.6,282.3 170.2,282.3 170.8,282.6 171.4,282.3 172,281.8 172.6,282.4 173.2,283.1 173.8,282.1 174.4,283 175,283 175.6,282.6 176.2,283 176.8,282.6 177.4,282.7 178,282.5 178.6,283.2 179.2,283.6 179.8,282.7 180.4,283.6 181,282.1 181.6,282.7 182.2,282.7 182.8,284 183.4,283 184,283.7 184.6,282.5 185.2,283.5 185.8,283.8 186.4,283.6 187,282.5 187.6,283.9 188.2,284.2 188.8,284.5 189.4,284.2 190,283.3 190.6,284.1 191.2,284.7 191.8,284 192.4,284.7 193,284.3 193.6,284.6 194.2,285 194.8,284.4 195.4,286.1 196,285 196.6,285.1 197.2,284.1 197.8,283.5 198.4,282.4 199,281.6 199.6,282.1 200.2,285.8 200.8,286.4 201.4,283.4 202,284 202.6,286.7 203.2,286.9 203.8,287.7 204.4,284.5 205,287.2 205.6,285.5 206.2,285 206.8,285.3 207.4,286.9 208,286 208.6,286.3 209.2,283.5 209.8,283.9 210.4,282.3 211,283 211.6,283 212.2,282.7 212.8,284.3 213.4,283.6 214,283.9 214.6,282.7 215.2,284 215.8,282.2 216.4,283.3 217,282.3 217.6,282.5 218.2,280.9 218.8,278.8 219.4,278.2 220,283.1 220.6,279.8 221.2,279.2 221.8,277.6 222.4,276.4 223,281.1 223.6,273.9 224.2,274.9 224.8,274.2 225.4,272.6 226,272.8 226.6,274.2 227.2,275.3 227.8,275.6 228.4,278.1 229,275.4 229.6,278.3 230.2,279.7 230.8,278.5 231.4,274.9 232,271.7 232.6,277.5 233.2,276.7 233.8,274.6 234.4,277.4 235,274.3 235.6,274.2 236.2,271.3 236.8,272.5 237.4,270.3 238,271.2 238.6,276.7 239.2,278.3 239.8,277.2 240.4,280.9 241,281.2 241.6,278.7 242.2,279.6 242.8,280.4 243.4,280.1 244,280.9 244.6,281.9 245.2,280.2 245.8,284.5 246.4,280.1 247,280.8 247.6,285.8 248.2,287.3 248.8,284.4 249.4,284.9 250,284.3 250.6,288.4 251.2,285.1 251.8,281.8 252.4,282.2 253,282.1 253.6,279.3 254.2,280.2 254.8,277.7 255.4,275.7 256,274.1 256.6,274.2 257.2,274.4 257.8,273 258.4,272.5 259,273 259.6,277 260.2,280.9 260.8,280.5 261.4,279.2 262,284.6 262.6,283.3 263.2,282.2" fill="none" stroke="#3f8a4a" stroke-width="1.12" stroke-linejoin="round"/>
<polyline points="43,286.2 43.6,285.9 44.2,285.3 44.8,285.6 45.4,285 46,285.4 46.6,285.1 47.2,285.3 47.8,284.8 48.4,285 49,284.9 49.6,284.9 50.2,284.7 50.8,285.5 51.4,285.3 52,285.2 52.6,285.5 53.2,285.4 53.8,285.4 54.4,285.8 55,286.2 55.6,285.8 56.2,285.6 56.8,285.9 57.4,286.7 58,286 58.6,286.7 59.2,286.4 59.8,286.7 60.4,286.6 61,286.2 61.6,286.7 62.2,287.5 62.8,286.9 63.4,287.2 64,287 64.6,287.2 65.2,287.4 65.8,287.5 66.4,288.1 67,287.6 67.6,287.6 68.2,287.5 68.8,287.4 69.4,287.4 70,288.2 70.6,287.5 71.2,288.6 71.8,288.5 72.4,288.3 73,288.1 73.6,288.6 74.2,288.7 74.8,289.1 75.4,288.6 76,288.8 76.6,289 77.2,289.1 77.8,289.1 78.4,288.8 79,288.9 79.6,289.3 80.2,289.6 80.8,290 81.4,290.5 82,290.4 82.6,290.1 83.2,290.7 83.8,290.2 84.4,290.1 85,291.1 85.6,290.2 86.2,290.5 86.8,290.6 87.4,291.2 88,290.7 88.6,291.2 89.2,291 89.8,290.8 90.4,291.3 91,291.4 91.6,291.1 92.2,291.3 92.8,291.4 93.4,292 94,292 94.6,292 95.2,292.2 95.8,292 96.4,292.3 97,292.1 97.6,292 98.2,292.3 98.8,292.6 99.4,292.7 100,293.1 100.6,292.3 101.2,292.9 101.8,293.2 102.4,292.8 103,293.3 103.6,293.2 104.2,293.1 104.8,293.8 105.4,293.2 106,294 106.6,293.7 107.2,293.6 107.8,293.7 108.4,293.5 109,293.1 109.6,293.1 110.2,292.1 110.8,292.6 111.4,292.1 112,291.9 112.6,291.1 113.2,290.6 113.8,291 114.4,291.1 115,291.1 115.6,290.8 116.2,290.8 116.8,290.8 117.4,290.2 118,291.1 118.6,290.1 119.2,290.4 119.8,290.6 120.4,289.9 121,290 121.6,290.4 122.2,289.7 122.8,290 123.4,289.7 124,289.5 124.6,289.6 125.2,289.2 125.8,289.1 126.4,289.3 127,289 127.6,287.9 128.2,286.6 128.8,286.8 129.4,286.9 130,286.6 130.6,286.3 131.2,285.8 131.8,285.6 132.4,285.7 133,285.8 133.6,285.2 134.2,285.4 134.8,284.8 135.4,285 136,284.2 136.6,284.3 137.2,283.8 137.8,284.1 138.4,283.9 139,283.2 139.6,283.1 140.2,283 140.8,282.6 141.4,282.7 142,282.6 142.6,282.9 143.2,283 143.8,282.3 144.4,282.3 145,282.3 145.6,282 146.2,281.9 146.8,282.2 147.4,281.9 148,281.7 148.6,281.4 149.2,281.9 149.8,281.2 150.4,281.1 151,280.3 151.6,280 152.2,279.8 152.8,279.2 153.4,279.1 154,278.5 154.6,277.7 155.2,277 155.8,277.5 156.4,276.6 157,276.8 157.6,276 158.2,275.3 158.8,275.3 159.4,274.6 160,274.3 160.6,273.8 161.2,274 161.8,273.9 162.4,273.2 163,273.6 163.6,272.7 164.2,272.7 164.8,271.9 165.4,271.8 166,273 166.6,272.9 167.2,272.9 167.8,272.1 168.4,272.7 169,272.8 169.6,272.8 170.2,272.9 170.8,272.6 171.4,272.9 172,272.7 172.6,273 173.2,273.2 173.8,272.9 174.4,273.2 175,273.2 175.6,273.4 176.2,273.7 176.8,273.5 177.4,273.6 178,273.2 178.6,273.5 179.2,274 179.8,273.5 180.4,273.7 181,273.6 181.6,274.3 182.2,273.9 182.8,273.8 183.4,274.3 184,274.5 184.6,274.4 185.2,274.6 185.8,274.4 186.4,274.4 187,274.3 187.6,274.4 188.2,274.4 188.8,274.8 189.4,274.7 190,274.8 190.6,275 191.2,274.9 191.8,274.5 192.4,274.7 193,274.4 193.6,273.9 194.2,274.3 194.8,273.7 195.4,273.4 196,273.2 196.6,273.6 197.2,273 197.8,273.1 198.4,272.6 199,272.2 199.6,272.3 200.2,272.1 200.8,271.7 201.4,271.1 202,271.4 202.6,271.3 203.2,271.7 203.8,271.9 204.4,272.4 205,272.5 205.6,272.4 206.2,272.6 206.8,272.5 207.4,273.4 208,273.2 208.6,273.6 209.2,273.1 209.8,273.2 210.4,273.5 211,273.4 211.6,273.5 212.2,273.3 212.8,274 213.4,273.8 214,274.1 214.6,274 215.2,273.6 215.8,274.4 216.4,274.7 217,274.1 217.6,274.3 218.2,274.7 218.8,274.8 219.4,274.5 220,275.6 220.6,275.4 221.2,274.9 221.8,274.6 222.4,275.3 223,275.8 223.6,275.5 224.2,275.6 224.8,275 225.4,275.4 226,274.9 226.6,275.9 227.2,275.6 227.8,274.8 228.4,274.9 229,275.6 229.6,275.5 230.2,275.4 230.8,275.7 231.4,276.2 232,275.7 232.6,275.1 233.2,275.6 233.8,275.3 234.4,275.5 235,275.9 235.6,275.7 236.2,275.5 236.8,275.8 237.4,275.6 238,276.1 238.6,276 239.2,276.3 239.8,276.3 240.4,276.7 241,276.6 241.6,276.7 242.2,276.7 242.8,277 243.4,276.6 244,278 244.6,277.1 245.2,277.5 245.8,277.5 246.4,277.6 247,278 247.6,277.8 248.2,278 248.8,277.8 249.4,278.1 250,278.1 250.6,279.1 251.2,278 251.8,277.8 252.4,278 253,278.2 253.6,277.1 254.2,276.9 254.8,277.2 255.4,277.1 256,276.3 256.6,276 257.2,276 257.8,276.3 258.4,275.9 259,275.9 259.6,275.4 260.2,275.3 260.8,275.2 261.4,274.8 262,274.7 262.6,274.1 263.2,274" fill="none" stroke="#ffc000" stroke-width="1.25" stroke-linejoin="round"/>
<polyline points="94,289.1 94.6,289 95.2,289 95.8,289.6 96.4,289.6 97,289.6 97.6,289.5 98.2,290.1 98.8,290.7 99.4,289.8 100,289.7 100.6,289.9 101.2,289.8 101.8,289.6 102.4,289.5 103,290.1 103.6,290 104.2,290.1 104.8,289.8 105.4,289.3 106,289.7 106.6,289.2 107.2,289.2 107.8,288.8 108.4,289.5 109,289.3 109.6,288.8 110.2,288.6 110.8,288.2 111.4,287.8 112,287.5 112.6,286.7 113.2,286.5 113.8,286 114.4,286.4 115,286 115.6,287.1 116.2,287 116.8,286.8 117.4,286.9 118,287.2 118.6,287 119.2,286.2 119.8,286.7 120.4,286.1 121,286.5 121.6,286.4 122.2,286.8 122.8,287 123.4,286.6 124,286.9 124.6,287.1 125.2,286.7 125.8,286.1 126.4,284.8 127,284.7 127.6,284.5 128.2,283.8 128.8,283.1 129.4,283.3 130,283.2 130.6,282.7 131.2,283 131.8,282.3 132.4,282.3 133,282.2 133.6,282.7 134.2,281.7 134.8,281.5 135.4,281.7 136,281.1 136.6,281.1 137.2,280.2 137.8,280.8 138.4,280.5 139,279.9 139.6,280.5 140.2,279.9 140.8,279.8 141.4,279.3 142,279.1 142.6,279.3 143.2,278.9 143.8,279.4 144.4,279.4 145,278.8 145.6,278.4 146.2,278.7 146.8,278.4 147.4,278.6 148,278.5 148.6,278.2 149.2,278.3 149.8,278.4 150.4,278.4 151,277.3 151.6,277.3 152.2,276.7 152.8,276.1 153.4,276.4 154,275.8 154.6,275.3 155.2,275 155.8,274.5 156.4,273.9 157,274.4 157.6,273.7 158.2,273.2 158.8,273 159.4,272.7 160,271.9 160.6,272 161.2,271.7 161.8,271.8 162.4,271.4 163,272.1 163.6,271.2 164.2,271.3 164.8,271.2 165.4,270.8 166,271.1 166.6,270.6 167.2,270.4 167.8,270.4 168.4,270.1 169,270.5 169.6,270.3" fill="none" stroke="#c09050" stroke-width="1.0" stroke-linejoin="round"/>
<polyline points="118,278.9 118.6,278.5 119.2,278.9 119.8,278.7 120.4,278.9 121,279.2 121.6,279.1 122.2,279.1 122.8,279.4 123.4,279.4 124,279.7 124.6,279 125.2,279.3 125.8,278.6 126.4,278 127,277.7 127.6,276.9" fill="none" stroke="#ffd04a" stroke-width="1.12" stroke-linejoin="round"/>
<polyline points="197.7,257.9 198.3,258.9 198.9,259.7 199.5,260.9 200.1,260.8 200.7,261.1 201.3,261 201.9,261.6 202.5,261.8 203.1,262 203.7,261.7 204.3,262.1 204.9,261.7 205.5,262.6 206.1,262.2 206.7,262 207.3,263.3 207.9,263.3 208.5,263.4 209.1,263.5 209.7,263.3 210.3,264 210.9,263.5 211.5,264.6 212.1,264.2 212.7,263.7 213.3,264.7 213.9,265.2 214.5,264.6 215.1,265.2 215.7,264.9 216.3,264.9 216.9,264.5 217.5,265.8 218.1,265.4 218.7,265.8 219.3,265.5 219.9,265.7 220.5,266.4 221.1,266 221.7,266.1 222.3,266 222.9,266.5 223.5,266.8 224.1,266.5 224.7,266.7 225.3,266.3 225.9,266.7 226.5,265.8 227.1,265.7 227.7,265.9 228.3,265.4 228.9,265 229.5,265.2 230.1,265.4 230.7,266.1 231.3,265.6 231.9,265.5 232.5,265.9 233.1,266.1 233.7,265.5 234.3,266.2 234.9,266 235.5,265.9 236.1,265.1 236.7,265.9 237.3,266.3 237.9,265.8 238.5,266.4 239.1,265.6 239.7,265.2 240.3,265.6 240.9,265.3 241.5,265.4 242.1,265 242.7,265.3 243.3,264.6 243.9,264.7 244.5,264.2 245.1,264.2 245.7,264.4 246.3,264 246.9,263.9 247.5,264 248.1,264 248.7,264.1 249.3,264.1 249.9,264.1 250.5,263.8 251.1,263.5 251.7,263.1 252.3,263.4 252.9,263.2 253.5,262.9 254.1,263.9 254.7,262.8 255.3,263.4 255.9,263.4 256.5,262.5 257.1,262.7 257.7,261.3 258.3,260.5 258.9,260.6 259.5,259.3 260.1,259.5 260.7,260 261.3,260.6 261.9,261.2 262.5,261.7 263.1,261.6" fill="none" stroke="#ffc000" stroke-width="1.12" stroke-linejoin="round"/>
<polyline points="94,286.8 94.6,287.4 95.2,286.6 95.8,286.8 96.4,287.1 97,287.3 97.6,286.7 98.2,286.7 98.8,286.7 99.4,287.4 100,287.4 100.6,286.5 101.2,286.5 101.8,286.8 102.4,286.8 103,287.4 103.6,287.4 104.2,287.9 104.8,287.6 105.4,287.5 106,287.8 106.6,287.2 107.2,287.1 107.8,287.6 108.4,287.5 109,286.2 109.6,286.3 110.2,285.6 110.8,284.3 111.4,283.5 112,282.4 112.6,282.4 113.2,282.6 113.8,282 114.4,282.5 115,282.3 115.6,282.2 116.2,281.3 116.8,281.2 117.4,281.9 118,281.4 118.6,281.3 119.2,281.2 119.8,280.9 120.4,281.3 121,281.2 121.6,281.3 122.2,281.7 122.8,281.3 123.4,282 124,281.1 124.6,282.6 125.2,281.5 125.8,282.3 126.4,282.6 127,282.5 127.6,279.7 128.2,277.4 128.8,276.7 129.4,277.1 130,277.1 130.6,276.4 131.2,275.8 131.8,275.9 132.4,276 133,275.7 133.6,275.8 134.2,275.4 134.8,275.1 135.4,274.1 136,275.1 136.6,274.1 137.2,274.1 137.8,273.4 138.4,273.1 139,272.9 139.6,273.1 140.2,272.8 140.8,272.3 141.4,272.5 142,271.5 142.6,271.6 143.2,271 143.8,271.3 144.4,270.7 145,270.8" fill="none" stroke="#b5652e" stroke-width="1.12" stroke-linejoin="round"/>
<polyline points="201.4,265.7 202,264.3 202.6,266.2 203.2,265.7 203.8,265.6 204.4,265.1 205,266 205.6,265.3 206.2,266.5 206.8,266.6 207.4,267.6 208,266.9 208.6,267.6 209.2,267.8 209.8,268.4 210.4,267.6 211,268.2 211.6,267.5 212.2,267.8 212.8,268.3 213.4,268.6 214,268.3 214.6,268.8 215.2,269.5 215.8,269.2 216.4,269.5 217,269.4 217.6,270.5 218.2,270.8 218.8,270.4 219.4,270.4 220,271.2 220.6,270.7 221.2,270.3 221.8,270.1 222.4,270.4 223,271.6 223.6,270.5 224.2,271.9 224.8,270.8 225.4,270.7 226,271.4 226.6,270.7 227.2,271 227.8,270.5 228.4,270.4 229,270.7 229.6,271.1 230.2,270.8 230.8,270.3 231.4,271.3 232,271 232.6,271 233.2,270.9 233.8,270.3 234.4,271.9 235,271.1 235.6,271.5 236.2,271.9 236.8,271.8 237.4,271.5 238,271.4 238.6,271.4 239.2,271.6 239.8,271.4 240.4,270.9 241,271.3 241.6,271.2 242.2,271.2 242.8,271 243.4,271.4 244,270.9 244.6,271.1 245.2,270.7 245.8,270.4 246.4,270.2 247,270.5 247.6,270.8 248.2,271.2 248.8,270.7 249.4,270.5 250,270.6 250.6,271.4 251.2,271 251.8,270.8 252.4,271.4 253,270.6 253.6,271.2 254.2,271.2 254.8,271.2 255.4,270.9 256,271.5 256.6,270.3 257.2,267.6 257.8,266.6 258.4,265.3 259,264.5 259.6,262.2 260.2,262.7 260.8,263.8 261.4,265.3 262,265.1 262.6,265.9 263.2,267.2" fill="none" stroke="#a8752e" stroke-width="1.25" stroke-linejoin="round"/>
<polyline points="43,275.2 43.6,275.1 44.2,277.6 44.8,277.4 45.4,275.5 46,277 46.6,276.5 47.2,276.6 47.8,275.7 48.4,275.9 49,275.4 49.6,276.1 50.2,275.9 50.8,277.5 51.4,276.8 52,275.1 52.6,276.9 53.2,277.8 53.8,277 54.4,277.8 55,277 55.6,277.7 56.2,276.5 56.8,278 57.4,276.3 58,278.7 58.6,276.5 59.2,276.1 59.8,278.4 60.4,277.9 61,278.3 61.6,278.7 62.2,278.4 62.8,277.8 63.4,278.9 64,279.1 64.6,279.3 65.2,280.7 65.8,278.6 66.4,279.3 67,279.9 67.6,279.2 68.2,278.7 68.8,279.3 69.4,280.8 70,279.8 70.6,280.6 71.2,279.5 71.8,280.5 72.4,279.7 73,279.6 73.6,280.5 74.2,280.5 74.8,281.7 75.4,279.2 76,281 76.6,282 77.2,281.8 77.8,280.5 78.4,280.3 79,280.5 79.6,281.2 80.2,281.2 80.8,281.5 81.4,281.9 82,280.7 82.6,280.9 83.2,281 83.8,281 84.4,282.2 85,282.8 85.6,284.8 86.2,283.3 86.8,283.1 87.4,284.4 88,282.8 88.6,283.9 89.2,284.6 89.8,284.6 90.4,284.4 91,284 91.6,283.4 92.2,284.4 92.8,284.2 93.4,285.4 94,284.9" fill="none" stroke="#70ad47" stroke-width="0.75" stroke-linejoin="round"/>
<polyline points="43,282.5 44.3,282.5 44.3,280.3 46,280.3 46,278.7 47.8,278.7 47.8,273.2 49,273.2 49,271.2 49.8,271.2 49.8,272.1 51,272.1 51,272.1 52.7,272.1 52.7,279.8 53.9,279.8 53.9,272.5 54.8,272.5 54.8,273.4 55.6,273.4 55.6,271.9 56.3,271.9 56.3,272.5 57,272.5 57,273 58.7,273 58.7,276.2 59.6,276.2 59.6,273.5 61.2,273.5 61.2,274.3 61.9,274.3 61.9,282.2 63,282.2 63,273.4 63.7,273.4 63.7,274.3 64.6,274.3 64.6,275 65.4,275 65.4,281.8 66.6,281.8 66.6,281.4 67.4,281.4 67.4,280.7 69.1,280.7 69.1,282.1 69.9,282.1 69.9,277.8 70.9,277.8 70.9,276.3 72.5,276.3 72.5,279.9 73.4,279.9 73.4,276.2 74.4,276.2 74.4,276.4 75.9,276.4 75.9,279.3 77,279.3 77,284.3 78.5,284.3 78.5,276.5 79.9,276.5 79.9,276.9 80.7,276.9 80.7,276.5 81.8,276.5 81.8,277.1 83.4,277.1 83.4,284.5 84.2,284.5 84.2,277.9 85,277.9 85,278.7 86.7,278.7 86.7,279.2 87.9,279.2 87.9,287.7 88.8,287.7 88.8,284.6 90,284.6 90,280.4 91.4,280.4 91.4,280.4 92.4,280.4 92.4,281 93.1,281 93.1,288.2 94.9,288.2" fill="none" stroke="#c0504d" stroke-width="1.25" stroke-linejoin="round"/>
<polyline points="43,280.4 44,280.4 44,283.8 45.4,283.8 45.4,275.8 46.7,275.8 46.7,279.3 48.3,279.3 48.3,271.4 50.2,271.4 50.2,281.3 51.7,281.3 51.7,271.8 52.5,271.8 52.5,272.3 53.2,272.3 53.2,271.5 54.3,271.5 54.3,272.3 55.7,272.3 55.7,271.7 56.8,271.7 56.8,272.6 58.3,272.6 58.3,274.1 59.2,274.1 59.2,271.9 59.8,271.9 59.8,278.4 61.4,278.4 61.4,274.7 62.3,274.7 62.3,276.5 63.2,276.5 63.2,273.8 64.3,273.8 64.3,278.1 66.1,278.1 66.1,273.8 67.7,273.8 67.7,274.9 68.9,274.9 68.9,274.5 70.5,274.5 70.5,275.9 71.8,275.9 71.8,274.4 73.4,274.4 73.4,279.7 74.9,279.7 74.9,276.2 76.4,276.2 76.4,276.7 77.7,276.7 77.7,279.7 79.3,279.7 79.3,280.4 80.3,280.4 80.3,285.4 80.9,285.4 80.9,277.3 82.8,277.3 82.8,278.2 84.6,278.2 84.6,284.3 86.3,284.3 86.3,278.5 87.4,278.5 87.4,279 88.2,279 88.2,279.6 89.3,279.6 89.3,287.4 91.1,287.4 91.1,287.8 91.9,287.8 91.9,281.3 92.8,281.3 92.8,281.2 94.7,281.2 94.7,281.8 96.4,281.8" fill="none" stroke="#9c6b30" stroke-width="1.06" stroke-linejoin="round"/>
<polyline points="43,279.7 44,279.7 44,280.2 44.7,280.2 44.7,281.1 46.6,281.1 46.6,274.5 48,274.5 48,271.1 49.1,271.1 49.1,277.1 50,277.1 50,282.5 51.5,282.5 51.5,271.7 52.9,271.7 52.9,279 53.8,279 53.8,271.6 54.8,271.6 54.8,272.6 56.1,272.6 56.1,282.1 57.1,282.1 57.1,272.5 58.9,272.5 58.9,274.3 60,274.3 60,279.2 61.8,279.2 61.8,272.4 62.6,272.4 62.6,274.3 63.9,274.3 63.9,280 65,280 65,279.8 65.8,279.8 65.8,273.3 67,273.3 67,282.9 68.1,282.9 68.1,275.1 69.6,275.1 69.6,279.7 71.5,279.7 71.5,274.5 72.9,274.5 72.9,283.4 74.8,283.4 74.8,276.6 76.2,276.6 76.2,276.4 77.9,276.4 77.9,281.6 78.9,281.6 78.9,276.9 79.7,276.9 79.7,282.4 81.4,282.4 81.4,276.7 82.4,276.7 82.4,277.5 83.9,277.5 83.9,279.5 84.7,279.5 84.7,279.3 85.5,279.3 85.5,279 87.4,279 87.4,279.2 88.5,279.2 88.5,290.3 89.5,290.3 89.5,281.8 90.2,281.8 90.2,290.2 91.1,290.2 91.1,282 92.8,282 92.8,281.7 94.5,281.7 94.5,281.3 95.4,281.3" fill="none" stroke="#b08540" stroke-width="1.06" stroke-linejoin="round"/>
<polyline points="128,279.7 129.4,279.7 129.4,278.8 131,278.8 131,274.1 132.6,274.1 132.6,273.7 134,273.7 134,278.5 135.5,278.5 135.5,271.8 136.2,271.8 136.2,273.1 137,273.1 137,272 138.1,272 138.1,271.6 138.7,271.6 138.7,270.5 139.4,270.5 139.4,276.8 140.7,276.8 140.7,268.6 141.3,268.6 141.3,268.6 142,268.6 142,267.7 143,267.7 143,268.5 143.7,268.5 143.7,267 145.3,267 145.3,265.7 146.4,265.7 146.4,265.6 147.6,265.6 147.6,264.1 148.6,264.1 148.6,264.7 149.2,264.7 149.2,263.6 150.4,263.6 150.4,274.3 151.1,274.3 151.1,273.1 152.2,273.1 152.2,262.8 152.7,262.8 152.7,262.2 154.2,262.2 154.2,271.2 155.1,271.2 155.1,260.5 156.6,260.5 156.6,259 158.1,259 158.1,258.5 159.5,258.5 159.5,259.4 160.8,259.4" fill="none" stroke="#c0504d" stroke-width="1.25" stroke-linejoin="round"/>
<polyline points="140,279.1 141,279.1 141,274.7 142,274.7 142,269 143.9,269 143.9,266.3 145.4,266.3 145.4,272 146.7,272 146.7,265.7 148.7,265.7 148.7,270.1 150.3,270.1 150.3,263.1 152.3,263.1 152.3,275.1 153.9,275.1 153.9,261.3 154.9,261.3 154.9,260.6 156.7,260.6 156.7,266.4 158.4,266.4 158.4,273.8 159.3,273.8 159.3,258.6 160.5,258.6 160.5,271.9 162.5,271.9 162.5,258.8 164.1,258.8 164.1,259.2 166.1,259.2 166.1,266.6 168.1,266.6 168.1,260.8 170,260.8 170,260.3 170.8,260.3 170.8,259 172.1,259 172.1,260.8 173.4,260.8 173.4,272.4 175.3,272.4 175.3,267.9 177,267.9 177,259.5 178.1,259.5 178.1,259.4 178.9,259.4 178.9,266 179.7,266 179.7,259.3 181.3,259.3 181.3,271.9 183,271.9 183,259.6 184.4,259.6 184.4,272.5 185.3,272.5 185.3,260 186.1,260 186.1,259.3 187.5,259.3 187.5,261.9 188.9,261.9 188.9,260.3 189.8,260.3 189.8,265 190.6,265 190.6,259.9 191.4,259.9 191.4,260.1 193.1,260.1 193.1,261.4 194.7,261.4 194.7,271.1 195.7,271.1 195.7,272.2 196.5,272.2 196.5,265.5 197.2,265.5 197.2,271.3 198.9,271.3 198.9,260.9 200.8,260.9 200.8,263.1 202.2,263.1 202.2,265 204,265 204,265.1 205.3,265.1" fill="none" stroke="#d4a017" stroke-width="1.25" stroke-linejoin="round"/>
<polyline points="128,276.4 129.2,276.4 129.2,279.7 130.1,279.7 130.1,281.2 131.5,281.2 131.5,278.7 132.7,278.7 132.7,282.2 134.2,282.2 134.2,279.2 135.4,279.2 135.4,276.4 136.1,276.4 136.1,272.2 137.2,272.2 137.2,270.7 138.2,270.7 138.2,276.1 139.7,276.1 139.7,279.5 140.8,279.5 140.8,276.8 142.1,276.8 142.1,267.8 143.4,267.8 143.4,267.1 144.5,267.1 144.5,277 145.1,277 145.1,271.5 146,271.5 146,265.7 147.3,265.7 147.3,265.6 148.3,265.6 148.3,263.8 148.8,263.8 148.8,269.2 149.7,269.2 149.7,270.6 150.6,270.6 150.6,262.7 151.6,262.7 151.6,262 152.4,262 152.4,270.9 153.9,270.9 153.9,262 155.2,262 155.2,261.5 156.3,261.5 156.3,259.1 157.1,259.1 157.1,265.1 158.3,265.1 158.3,258.9 159.1,258.9 159.1,258.7 160,258.7 160,259 161.2,259 161.2,259.4 161.9,259.4 161.9,259 162.9,259 162.9,261.2 163.7,261.2 163.7,260.5 164.8,260.5 164.8,260.1 165.5,260.1 165.5,270.7 166.9,270.7 166.9,270.9 168.1,270.9 168.1,269.2 169.1,269.2 169.1,267 170.1,267 170.1,259.3 171.6,259.3 171.6,259 172.6,259 172.6,264.7 173.6,264.7 173.6,259 174.2,259 174.2,272 175.2,272 175.2,260.1 176.4,260.1 176.4,259.5 177.6,259.5 177.6,269.9 178.7,269.9 178.7,261.8 180,261.8 180,269.4 181.1,269.4 181.1,267.2 181.7,267.2 181.7,259.1 182.9,259.1 182.9,269.1 183.7,269.1 183.7,264.6 185.3,264.6 185.3,261.3 186,261.3 186,272 187.5,272 187.5,259.9 189.1,259.9 189.1,260.4 189.8,260.4 189.8,266.7 190.4,266.7 190.4,265.3 191.9,265.3 191.9,261.1 192.8,261.1 192.8,260.3 194.4,260.3 194.4,268.7 196,268.7 196,261.7 197,261.7 197,261.3 197.8,261.3 197.8,267.7 199.4,267.7 199.4,268.4 200.6,268.4 200.6,262.5 201.4,262.5 201.4,262.3 202.5,262.3 202.5,262.8 203.3,262.8 203.3,262.1 204.5,262.1 204.5,261.9 205.5,261.9" fill="none" stroke="#9c6b30" stroke-width="1.25" stroke-linejoin="round"/>
<polyline points="128,282.9 128.7,282.9 128.7,281.7 129.3,281.7 129.3,279.4 130.2,279.4 130.2,280.1 130.8,280.1 130.8,278.9 132.1,278.9 132.1,273.8 132.7,273.8 132.7,273.4 133.9,273.4 133.9,277.7 134.4,277.7 134.4,276.6 135.3,276.6 135.3,277.9 136.8,277.9 136.8,270.6 138,270.6 138,270.8 138.6,270.8 138.6,278.5 139.6,278.5 139.6,270.3 141,270.3 141,268.4 141.9,268.4 141.9,274.8 143.2,274.8 143.2,277.8 144.4,277.8 144.4,275.1 145.1,275.1 145.1,266 146.6,266 146.6,274.5 147.9,274.5 147.9,269.9 149.3,269.9 149.3,272.3 150.2,272.3 150.2,275.7 151.1,275.7 151.1,264.9 152.6,264.9 152.6,262.8 153.4,262.8 153.4,260.8 154.3,260.8 154.3,261 155.9,261 155.9,259.7 156.7,259.7 156.7,258.8 158,258.8 158,258.4 158.9,258.4 158.9,258.1 160.1,258.1 160.1,259.1 160.8,259.1 160.8,259.8 161.7,259.8 161.7,268.5 163.2,268.5 163.2,259.3 164.1,259.3 164.1,259.2 164.8,259.2 164.8,259.5 166.1,259.5 166.1,259.6 167,259.6 167,268.3 168,268.3 168,258.8 169.2,258.8 169.2,259.7 169.9,259.7 169.9,265.8 170.8,265.8 170.8,267.4 171.7,267.4 171.7,269.7 172.6,269.7 172.6,267.8 174,267.8 174,258.9 175.2,258.9 175.2,269.4 176.7,269.4 176.7,267.3 177.7,267.3 177.7,270.9 179,270.9 179,259.6 180.2,259.6 180.2,259.7 180.9,259.7 180.9,258.8 182.1,258.8 182.1,260.8 182.8,260.8 182.8,260 183.4,260 183.4,259 185.1,259 185.1,266.2 186.3,266.2 186.3,259.7 187.2,259.7 187.2,270.3 188.8,270.3 188.8,259.5 189.4,259.5 189.4,260.6 190.6,260.6 190.6,261.5 191.4,261.5 191.4,268.8 192.9,268.8 192.9,269.5 194.5,269.5 194.5,272.6 195.2,272.6 195.2,268.1 196.7,268.1 196.7,260.9 197.9,260.9 197.9,266.2 199.3,266.2 199.3,262.7 199.9,262.7 199.9,270.5 201.5,270.5 201.5,262.3 202.6,262.3 202.6,261.6 203.2,261.6 203.2,261.7 204.3,261.7 204.3,266.5 205.8,266.5" fill="none" stroke="#a8752e" stroke-width="1.25" stroke-linejoin="round"/>
<polyline points="236,268.5 237.4,268.5 237.4,267.4 239.6,267.4 239.6,266.8 241.2,266.8 241.2,267.8 243.2,267.8 243.2,265.2 244.9,265.2 244.9,267.5 245.8,267.5 245.8,266.6 247.8,266.6 247.8,264.4 249.4,264.4 249.4,263 251.2,263 251.2,269.7 252.5,269.7 252.5,264.7 254.7,264.7 254.7,265.4 256.2,265.4 256.2,266.4 257.1,266.4 257.1,261.9 259.2,261.9" fill="none" stroke="#d9a030" stroke-width="1.0" stroke-linejoin="round"/>
<polyline points="308,277.5 308.8,272.5 309.6,275.8 310.4,262.9 311.2,273.9 312,285.9 312.8,268.9 313.6,263.7 314.4,286 315.2,276.5 316,265.2 316.8,276.8 317.6,288.7 318.4,265.8 319.2,283.9 320,278.7 320.8,266.5 321.6,266.2 322.4,288.6 323.2,269.5 324,272 324.8,278.4 325.6,272.4 326.4,265.7 327.2,268.9 328,273.8 328.8,282.8 329.6,278 330.4,273.3 331.2,268.8 332,284.3 332.8,269.1 333.6,282.6 334.4,276 335.2,277.7 336,273.5 336.8,270 337.6,269.5 338.4,281 339.2,271.4 340,268 340.8,270 341.6,292.5 342.4,284.4 343.2,280 344,274.7 344.8,288.5 345.6,271.1 346.4,280.7 347.2,267.1 348,280.1 348.8,291.8 349.6,281.2 350.4,266.3 351.2,276.3 352,269.1 352.8,285.4 353.6,264.8 354.4,264.6 355.2,264.8 356,267.5 356.8,279.5 357.6,271.5 358.4,273.1 359.2,265.2 360,266.2 360.8,268.2 361.6,270.9" fill="none" stroke="#a07830" stroke-width="1.25" stroke-linejoin="round"/>
<polyline points="308,276.6 308.8,271.7 309.6,265.3 310.4,263.9 311.2,268.5 312,265.4 312.8,278.4 313.6,283.3 314.4,280.4 315.2,264 316,280.4 316.8,263.5 317.6,264.6 318.4,278.2 319.2,268.1 320,283.2 320.8,278.5 321.6,277.1 322.4,276.1 323.2,287.1 324,284.2 324.8,265.4 325.6,290.5 326.4,272.4 327.2,269.5 328,286.5 328.8,288.5 329.6,283.4 330.4,281.7 331.2,267 332,270.4 332.8,285.4 333.6,292.7 334.4,271.1 335.2,284.2 336,268.8 336.8,284.2 337.6,273 338.4,268.4 339.2,269.7 340,279 340.8,276.3 341.6,283.3 342.4,273.2 343.2,280.5 344,274.1 344.8,286.6 345.6,267.8 346.4,279.3 347.2,278.7 348,267.1 348.8,283.7 349.6,278.8 350.4,289.5 351.2,267.3 352,271.4 352.8,283.5 353.6,285.2 354.4,276.3 355.2,268.2 356,276.5 356.8,269.5 357.6,270.9 358.4,273.4 359.2,278.1 360,265.3 360.8,272.4 361.6,275.1" fill="none" stroke="#b08a3a" stroke-width="1.25" stroke-linejoin="round"/>
<polyline points="397,259.6 397.8,258.1 398.6,257.6 399.4,263.8 400.2,261.3 401,270.4 401.8,268.3 402.6,268.4 403.4,258.5 404.2,264.2 405,265.4 405.8,259 406.6,263.8 407.4,262 408.2,260.8 409,271.2 409.8,264.1 410.6,260.4 411.4,263.8 412.2,276.1 413,264.6 413.8,262 414.6,261.1 415.4,267.8 416.2,271.7 417,266.3 417.8,277.6 418.6,269.3 419.4,277 420.2,270.9 421,272.1 421.8,268.2 422.6,263.7 423.4,276.7 424.2,282.2 425,278.3 425.8,270.4 426.6,265.1 427.4,266.6 428.2,275 429,278.7 429.8,266 430.6,289.9 431.4,281.7 432.2,282.2 433,292.5 433.8,279.5 434.6,276.1 435.4,270.5 436.2,282.5 437,283.2 437.8,292.7 438.6,292.2 439.4,277.9 440.2,289.7 441,294 441.8,276.8 442.6,282.2 443.4,282.1 444.2,279.1 445,279.1 445.8,274 446.6,273.7 447.4,276.1 448.2,283.3 449,285.6 449.8,291.1 450.6,276.5 451.4,282 452.2,280.6 453,275.3 453.8,297.9 454.6,278.6 455.4,287.8 456.2,287.7 457,289.8 457.8,291.4 458.6,294.6 459.4,279.1 460.2,286 461,278.3 461.8,277.4 462.6,286.9 463.4,284.6 464.2,282.9 465,272.6 465.8,285.6 466.6,277.4 467.4,273.9 468.2,279.9 469,269.1 469.8,269.7" fill="none" stroke="#a07830" stroke-width="1.25" stroke-linejoin="round"/>
<polyline points="397,257.6 397.8,259.3 398.6,266 399.4,258.1 400.2,265.7 401,263.5 401.8,260.3 402.6,268.7 403.4,258.5 404.2,260.1 405,263.6 405.8,262.4 406.6,262.5 407.4,275.1 408.2,265.7 409,268.2 409.8,264.6 410.6,261.3 411.4,260.6 412.2,272 413,271.6 413.8,279.4 414.6,263 415.4,265.5 416.2,265.4 417,269.8 417.8,261.7 418.6,276.5 419.4,275.1 420.2,262.6 421,275.4 421.8,266.7 422.6,269.1 423.4,265.2 424.2,276.7 425,274 425.8,264.4 426.6,265.8 427.4,280.1 428.2,266.3 429,273.2 429.8,279.5 430.6,267.8 431.4,275 432.2,273.3 433,268.3 433.8,285.1 434.6,268.3 435.4,287.1 436.2,272.7 437,273.8 437.8,271.4 438.6,289.2 439.4,295 440.2,271.8 441,282.4 441.8,270.7 442.6,276.6 443.4,273.3 444.2,283.5 445,273.5 445.8,283.3 446.6,295.7 447.4,275 448.2,273.4 449,292.2 449.8,273.2 450.6,288.5 451.4,294 452.2,274.7 453,282.4 453.8,297.6 454.6,275.6 455.4,292.5 456.2,287.1 457,275.4 457.8,276.6 458.6,293.9 459.4,276.1 460.2,279.6 461,275.3 461.8,276.8 462.6,275.5 463.4,285.6 464.2,272.9 465,272.5 465.8,277 466.6,271.8 467.4,274.7 468.2,269.6 469,269.6 469.8,270" fill="none" stroke="#b08a3a" stroke-width="1.25" stroke-linejoin="round"/>
<polyline points="468,279 468.6,277 469.2,277.9 469.8,276 470.4,274.9 471,274.3 471.6,274 472.2,274.4 472.8,273.4 473.4,271.5 474,271.6 474.6,270.7 475.2,269.3 475.8,269.4 476.4,268.6 477,269.1 477.6,267.8 478.2,268.7 478.8,268.4 479.4,268.3 480,268.1 480.6,269.3 481.2,268.4 481.8,268.7 482.4,269.1 483,269.2 483.6,269 484.2,268.3 484.8,267.9 485.4,268.1 486,268.3 486.6,268.6 487.2,268.5 487.8,269.3 488.4,268.5 489,269.7 489.6,269.2 490.2,268.2 490.8,268.6 491.4,265.9 492,268.1 492.6,267.1 493.2,266.7 493.8,265 494.4,267.2 495,265.1 495.6,264.8 496.2,265.1 496.8,263.9 497.4,263.1 498,263.6 498.6,262.2 499.2,262.9 499.8,262.1 500.4,262.3 501,260.3 501.6,261.3 502.2,260.2 502.8,260.8 503.4,258.6 504,259.7 504.6,258.5 505.2,258 505.8,256.6 506.4,256.8 507,256.4 507.6,256.2 508.2,256.7 508.8,257.6 509.4,259.7 510,259.6 510.6,260.8 511.2,261.1 511.8,261.7 512.4,262.3 513,262.3 513.6,263.6 514.2,263.4 514.8,263.8 515.4,263.2 516,264.6 516.6,264.4 517.2,264.8 517.8,266.2 518.4,265.2 519,266.2 519.6,267 520.2,267.8 520.8,267.3 521.4,268.3 522,268.8 522.6,268.4 523.2,268.3 523.8,268.9 524.4,271 525,271.2 525.6,270.8 526.2,271.7 526.8,272.3 527.4,272.9 528,273.6" fill="none" stroke="#a07830" stroke-width="1.25" stroke-linejoin="round"/>
<polyline points="527,279.1 527.6,278.8 528.2,274 528.8,274.1 529.4,280.3 530,284.2 530.6,275.6 531.2,276 531.8,283.1 532.4,279.5 533,279.1 533.6,278.6" fill="none" stroke="#a07830" stroke-width="1.25" stroke-linejoin="round"/>
<polyline points="527,273.1 527.6,276.5 528.2,275.2 528.8,276.4 529.4,278.6 530,281.2 530.6,280.7 531.2,283.1 531.8,275.1 532.4,282.5 533,281 533.6,287.2" fill="none" stroke="#b08a3a" stroke-width="1.25" stroke-linejoin="round"/>
<polyline points="318,270.7 319.2,272 320.4,275.1 321.6,274.1 322.8,275.4 324,275.8 325.2,283.1 326.4,269.3 327.6,280.5 328.8,282.8 330,280.3 331.2,274.1 332.4,287.3 333.6,269.9 334.8,284 336,278.5 337.2,269.6 338.4,272.5 339.6,272.9 340.8,269.8 342,277.4 343.2,272.9 344.4,278.2 345.6,271.1 346.8,267.4 348,276.9 349.2,276.8 350.4,266.7 351.6,270.8" fill="none" stroke="#ffc000" stroke-width="1.0" stroke-linejoin="round"/>
<line x1="452" y1="270" x2="452" y2="258" stroke="#ffd04a" stroke-width="0.8"/>
<line x1="452.8" y1="271" x2="452.8" y2="253.3" stroke="#ffc000" stroke-width="0.8"/>
<line x1="453.7" y1="269.6" x2="453.7" y2="252.6" stroke="#ffc000" stroke-width="0.8"/>
<line x1="455.3" y1="270.9" x2="455.3" y2="254.8" stroke="#ffc000" stroke-width="0.8"/>
<line x1="456.9" y1="268.9" x2="456.9" y2="256.3" stroke="#ffd04a" stroke-width="0.8"/>
<line x1="461.1" y1="268.3" x2="461.1" y2="256.3" stroke="#ffc000" stroke-width="0.8"/>
<line x1="464.3" y1="269.6" x2="464.3" y2="255.9" stroke="#ffc000" stroke-width="0.8"/>
<line x1="466.1" y1="268.2" x2="466.1" y2="254.6" stroke="#ffc000" stroke-width="0.8"/>
<line x1="467.5" y1="269.9" x2="467.5" y2="258.2" stroke="#ffd04a" stroke-width="0.8"/>
<line x1="468.8" y1="269.7" x2="468.8" y2="254.2" stroke="#ffc000" stroke-width="0.8"/>
<line x1="453" y1="273.4" x2="453" y2="283.3" stroke="#ffc000" stroke-width="0.8"/>
<line x1="458.7" y1="271.2" x2="458.7" y2="281.4" stroke="#ffc000" stroke-width="0.8"/>
<line x1="460.4" y1="271.2" x2="460.4" y2="279.3" stroke="#ffc000" stroke-width="0.8"/>
<line x1="468.1" y1="270.2" x2="468.1" y2="281" stroke="#ffc000" stroke-width="0.8"/>
<polyline points="308,260.4 308.6,258.3 309.2,259.3 309.8,258.8 310.4,259.2 311,259.3 311.6,260.2 312.2,260.2 312.8,261.2 313.4,261.4 314,260.8 314.6,263.4 315.2,261.1 315.8,262.7 316.4,264.4 317,262.4 317.6,264.3 318.2,264.7 318.8,264.1 319.4,262.6 320,265.6 320.6,264.7 321.2,264.4 321.8,266.2 322.4,264.8 323,266.4 323.6,265.4 324.2,266.5 324.8,265.4 325.4,266.2 326,266 326.6,266.4 327.2,267.4 327.8,267.3 328.4,267.9 329,269 329.6,268.1 330.2,266.9 330.8,268.4 331.4,268.9 332,270 332.6,270.2 333.2,270.4 333.8,269.6 334.4,270.6 335,269.1 335.6,271.5 336.2,270.9 336.8,271 337.4,270.4 338,270.8 338.6,270.4 339.2,271.5 339.8,270 340.4,272 341,271.7 341.6,273.1 342.2,271.5 342.8,271.5 343.4,271.9 344,271.8 344.6,271.8 345.2,271.1 345.8,271.2 346.4,271.7 347,272.1 347.6,271.4 348.2,271.6 348.8,272.4 349.4,273.3 350,272.6 350.6,273.5 351.2,273.8 351.8,273.7 352.4,272.9 353,273 353.6,271.9 354.2,273 354.8,274 355.4,272.8 356,274.9 356.6,275.1 357.2,273.7 357.8,274.9 358.4,273.1 359,273.5 359.6,274.1 360.2,274 360.8,272.3 361.4,270.2 362,271" fill="none" stroke="#c0504d" stroke-width="1.12" stroke-linejoin="round"/>
<polyline points="362,269.4 362.6,269.1 363.2,268.8 363.8,268.5 364.4,268.1 365,267.8 365.6,267.5 366.2,267.2 366.8,266.9 367.4,266.6 368,266.3 368.6,266 369.2,265.6 369.8,265.3 370.4,265 371,264.7 371.6,264.4 372.2,264.1 372.8,263.8 373.4,263.5 374,263.1 374.6,262.8 375.2,262.5 375.8,262.2 376.4,261.9 377,261.6 377.6,261.3 378.2,260.9 378.8,260.6 379.4,260.3 380,260 380.6,259.7 381.2,259.4 381.8,259.1 382.4,258.8 383,258.4 383.6,258.1 384.2,257.8 384.8,257.5 385.4,257.2 386,256.9 386.6,256.6 387.2,256.2 387.8,255.9 388.4,255.6 389,255.3 389.6,255 390.2,254.7 390.8,254.4 391.4,254.1 392,253.7 392.6,253.4 393.2,253.1 393.8,252.8" fill="none" stroke="#c0504d" stroke-width="1.0" stroke-linejoin="round"/>
<polyline points="396,252.4 396.6,253.3 397.2,254.8 397.8,255.2 398.4,255.7 399,256.3 399.6,255.9 400.2,260.5 400.8,257.7 401.4,257 402,258.3 402.6,257.5 403.2,262.1 403.8,260.3 404.4,261.8 405,262 405.6,261.1 406.2,261.3 406.8,260 407.4,260.9 408,260.5 408.6,261.5 409.2,260.8 409.8,263.4 410.4,263 411,262.1 411.6,260.4 412.2,263.5 412.8,263.9 413.4,263 414,261.7 414.6,264 415.2,265 415.8,261.5 416.4,264.8 417,262.1 417.6,264.6 418.2,266.8 418.8,265 419.4,265.7 420,264.9 420.6,265.5 421.2,268.5 421.8,267.4 422.4,265.6 423,265.7 423.6,266.3 424.2,269.2 424.8,266.9 425.4,268.2 426,266.5 426.6,265.6 427.2,268.9 427.8,267.4 428.4,266.7 429,267 429.6,267.1 430.2,267.4 430.8,266.4 431.4,269.9 432,269.1 432.6,270 433.2,268.5 433.8,269.6 434.4,269.5 435,270.9 435.6,270.6 436.2,270.2 436.8,269.2 437.4,268.7 438,269.3" fill="none" stroke="#c0504d" stroke-width="1.25" stroke-linejoin="round"/>
<polyline points="308,264.5 308.6,265.3 309.2,265.2 309.8,269.4 310.4,268.4 311,266.4 311.6,268.2 312.2,268.3 312.8,270.2 313.4,271.1 314,268.4 314.6,270.3 315.2,269.1 315.8,270.7 316.4,270.9 317,269.5 317.6,269.9 318.2,268.9 318.8,268.4 319.4,267.3 320,269 320.6,268.8 321.2,268.6 321.8,269.3 322.4,269.4 323,268.6 323.6,269.5 324.2,271.8 324.8,270.4 325.4,272.6 326,269.7 326.6,269.8 327.2,271.8 327.8,272.9 328.4,271.1 329,272.5 329.6,272.7 330.2,272.8 330.8,271.2 331.4,271.1 332,269 332.6,270.9 333.2,271.1 333.8,272.3 334.4,268.9 335,269.3 335.6,268.8 336.2,270.7 336.8,266.3 337.4,267.7 338,271.2 338.6,269.2 339.2,266.4 339.8,267.6 340.4,268.4 341,267.7 341.6,266.5 342.2,265.5 342.8,267.1" fill="none" stroke="#f4975a" stroke-width="1.25" stroke-linejoin="round"/>
<polyline points="343,263.5 343.4,263.7 343.8,267 344.3,265.5 344.7,260.9 345.1,267.3 345.6,263.2 346,259.7 346.4,265.7 346.9,258.9 347.3,256.5 347.7,268.4 348.2,261.8 348.6,256.5 349,264.8 349.5,262.4 349.9,249.8 350.3,259 350.8,256.4 351.2,255 351.6,258.9 352.1,256.3 352.5,245.1 352.9,255.9 353.4,253.5 353.8,247.7 354.2,259 354.7,249.7 355.1,246.8 355.5,251.5 356,248.1 356.4,245.7 356.8,254.3 357.3,244 357.7,234.9 358.1,247.6 358.6,239.3 359,225.1 359.4,244.1 359.9,235.2 360.3,233.3 360.7,245.1 361.2,234.8 361.6,216.7 362,239.5" fill="none" stroke="#f4975a" stroke-width="1.0" stroke-linejoin="round"/>
<polyline points="362,233.4 362.6,233.5 363.2,232.4 363.8,230.9 364.4,232.1 365,229.5 365.6,230.7 366.2,229.8 366.8,230.4 367.4,230.6 368,230.4 368.6,231.5 369.2,232.8 369.8,233.6 370.4,231.2 371,226.6 371.6,225.2 372.2,222.8 372.8,226.2 373.4,225.1 374,229.9 374.6,229.8 375.2,232.9 375.8,231 376.4,232.2 377,230.8 377.6,229 378.2,229.7 378.8,230.2 379.4,230.2 380,227.7 380.6,228.6 381.2,228.9 381.8,229.2 382.4,229.5 383,228.2 383.6,227.3 384.2,229 384.8,228.1 385.4,229.2 386,227.7 386.6,228.8 387.2,227.2 387.8,228.2 388.4,227.9 389,228.2 389.6,226.7 390.2,227.4 390.8,226.5 391.4,227 392,227.6 392.6,229.8 393.2,229.4 393.8,238.1 394.4,238.4 395,236.6 395.6,233.2 396.2,235.2 396.8,244.2 397.4,256 398,231.4 398.6,234.9 399.2,243.4 399.8,249.8 400.4,253.7 401,261.1 401.6,267.5 402.2,269.9 402.8,266.5 403.4,260.4 404,258.8 404.6,262.4 405.2,265.6 405.8,268.5 406.4,269.2 407,267.5 407.6,268 408.2,266.1 408.8,266.4 409.4,262.8 410,263.5 410.6,261.5 411.2,262 411.8,261.2 412.4,262.9 413,262.4 413.6,263.2 414.2,264.2 414.8,262.7 415.4,263.3 416,263.9 416.6,263 417.2,262.6 417.8,263.6 418.4,263.9 419,264.2 419.6,264.4 420.2,263 420.8,264.3 421.4,265.2 422,263.7 422.6,264.7 423.2,263.9 423.8,264.8 424.4,266.6 425,265.2 425.6,264.2 426.2,265.7 426.8,265.7 427.4,266.8 428,264.5 428.6,265.1 429.2,266.1 429.8,264.8 430.4,267.6 431,264.6 431.6,266 432.2,265.5 432.8,266.5 433.4,268.1 434,268.1 434.6,268.6 435.2,268.4 435.8,266 436.4,268.5 437,266.5 437.6,268" fill="none" stroke="#f4975a" stroke-width="1.25" stroke-linejoin="round"/>
<polyline points="362,259.4 362.6,259.1 363.2,258.8 363.8,258.6 364.4,258.3 365,258 365.6,257.7 366.2,257.4 366.8,257.1 367.4,256.9 368,256.6 368.6,256.3 369.2,256 369.8,255.7 370.4,255.4 371,255.2 371.6,254.9 372.2,254.6 372.8,254.3 373.4,254 374,253.7 374.6,253.5 375.2,253.2 375.8,252.9 376.4,252.6 377,252.3 377.6,252 378.2,251.8 378.8,251.5 379.4,251.2 380,250.9 380.6,250.6 381.2,250.3 381.8,250.1 382.4,249.8 383,249.5 383.6,249.2 384.2,248.9 384.8,248.6 385.4,248.4 386,248.1 386.6,247.8 387.2,247.5 387.8,247.2 388.4,246.9 389,246.7 389.6,246.4 390.2,246.1 390.8,245.8 391.4,245.5 392,245.2 392.6,245 393.2,244.7 393.8,244.4" fill="none" stroke="#f4975a" stroke-width="1.0" stroke-linejoin="round"/>
<polyline points="308,255.6 308.6,255.8 309.2,257.2 309.8,256.3 310.4,259.2 311,258.4 311.6,259.4 312.2,259.3 312.8,259.8 313.4,259.2 314,261.6 314.6,258.9 315.2,260.7 315.8,260.4 316.4,260.3 317,261 317.6,260.1 318.2,261.9 318.8,261.9 319.4,261.4 320,262.2 320.6,260.6 321.2,259.9 321.8,261.3 322.4,261.8 323,264.7 323.6,262.1 324.2,263.5 324.8,263.5 325.4,265 326,263.2 326.6,263.9 327.2,263.3 327.8,262.8 328.4,262.9 329,263.3 329.6,265.7 330.2,264.8 330.8,264.5 331.4,264.9 332,264.5 332.6,265.3 333.2,265.5 333.8,266.4 334.4,266.8 335,264.5 335.6,266.5 336.2,267.9 336.8,265.7 337.4,266.7 338,267.3 338.6,268.4 339.2,268.1 339.8,267.5 340.4,268.4 341,269.1 341.6,268.7 342.2,270.3 342.8,269.1 343.4,267.8 344,268.3 344.6,269.1 345.2,269.2 345.8,269.9 346.4,269.5 347,270.8 347.6,269.8 348.2,270.4 348.8,268 349.4,268.3 350,269.3 350.6,268.3 351.2,268.4 351.8,267.7 352.4,266.4 353,268.3 353.6,267.4 354.2,264.3 354.8,264.8 355.4,265.1 356,265.3 356.6,264.2 357.2,262.5 357.8,264.2 358.4,262.8 359,263.8 359.6,262.5 360.2,262.7 360.8,262.1 361.4,261.6 362,259.7 362.6,261.1 363.2,260.1 363.8,258.5 364.4,259.2 365,259.1 365.6,259.7 366.2,259.8 366.8,257.8 367.4,259.5 368,258.6 368.6,257.4 369.2,259.2 369.8,257.4 370.4,256.8 371,258.6 371.6,258.6 372.2,256.9 372.8,258.4 373.4,258.2 374,256.6 374.6,258.9 375.2,256.7 375.8,256.8 376.4,254.1 377,256.9 377.6,255.5 378.2,256.4 378.8,254.1 379.4,256.7 380,256.9 380.6,257.1 381.2,252.1 381.8,255.4 382.4,255 383,251.5 383.6,253.5 384.2,254 384.8,255.3 385.4,252.9 386,253.7 386.6,253.3 387.2,253.5 387.8,252.6 388.4,253.7 389,253.6 389.6,251.1 390.2,253.3 390.8,251.3 391.4,251.6 392,252.8 392.6,251.6 393.2,251.9 393.8,251.9 394.4,250.6 395,248 395.6,246.1 396.2,247 396.8,247.8 397.4,248.2 398,248.4 398.6,250.2 399.2,250 399.8,249.4 400.4,251.4 401,251.7 401.6,252.1 402.2,250.5 402.8,250.8 403.4,252 404,251.3 404.6,251.8 405.2,252.9 405.8,252.4 406.4,254 407,252.5 407.6,254.1 408.2,253.5 408.8,255.1 409.4,252.7 410,252.7 410.6,254.4 411.2,252.9 411.8,253.2 412.4,254.2 413,254.6 413.6,253.2 414.2,255.1 414.8,254.9 415.4,255.4 416,256 416.6,255.9 417.2,257.4 417.8,257.2 418.4,256.8 419,257.4 419.6,258.6 420.2,258.7 420.8,259.5 421.4,258.5 422,259.1 422.6,261.3 423.2,259.6 423.8,261.7 424.4,261.2 425,260.3 425.6,259.7 426.2,262.1 426.8,261.1 427.4,261.5 428,260.8 428.6,264.1 429.2,263.3 429.8,263.6 430.4,264.4 431,264.7 431.6,264.9 432.2,265.8 432.8,265.4 433.4,263.6 434,267.3 434.6,267.4 435.2,267.4 435.8,269.4 436.4,266.9 437,265.8" fill="none" stroke="#5fae3c" stroke-width="1.25" stroke-linejoin="round"/>
<polyline points="396,248.6 396.6,248 397.2,246.4 397.8,248.1 398.4,249.6 399,248.3 399.6,250.5 400.2,252.4 400.8,251.7 401.4,250.4 402,250.8 402.6,249.6 403.2,250.7 403.8,250.3 404.4,249.7 405,249.4 405.6,252.7 406.2,250.9 406.8,249.8 407.4,250.5 408,252.4 408.6,252.6 409.2,250.4 409.8,251.3 410.4,252.2 411,251.2 411.6,250.6 412.2,251.1 412.8,252.3 413.4,251.8 414,251.5 414.6,252.8 415.2,254.2 415.8,254.2 416.4,253.6 417,255.9 417.6,253.5 418.2,254.5 418.8,253.4 419.4,255.8 420,255.2 420.6,253.9 421.2,255 421.8,257.8 422.4,257 423,256.7 423.6,257.7 424.2,255.5 424.8,256.5 425.4,256.3 426,257 426.6,257.7 427.2,258.8 427.8,259.6 428.4,259.8 429,261.7 429.6,258.8 430.2,259.6 430.8,260.3 431.4,259.3 432,260.1 432.6,261 433.2,260 433.8,261.6 434.4,262.6 435,260.5 435.6,259.6 436.2,262.2 436.8,261.3 437.4,262.8 438,262.4 438.6,263.4 439.2,264.5 439.8,264.4 440.4,263.5 441,262.9 441.6,261.9 442.2,262.5 442.8,264.1 443.4,265.2 444,264.7 444.6,265 445.2,264.3 445.8,264.5 446.4,264.6 447,267.2 447.6,264.9 448.2,267.8 448.8,266.5 449.4,268.1 450,268.1 450.6,268.8 451.2,269.4 451.8,267.6 452.4,267.6 453,268.4 453.6,268.2 454.2,269.8 454.8,269.2 455.4,269.6 456,270.2 456.6,269.5 457.2,271.3 457.8,268.5 458.4,270.8 459,271.3 459.6,270.2 460.2,270.4 460.8,271.9 461.4,270.6 462,268.9 462.6,269.3 463.2,271.6 463.8,269.6 464.4,271.7 465,271.7" fill="none" stroke="#ffc000" stroke-width="1.25" stroke-linejoin="round"/>
<polyline points="465,270.3 472.6,257.8 505.7,233 505.7,273.6" fill="none" stroke="#ffc000" stroke-width="1.12" stroke-linejoin="round"/>
<polyline points="470,271 472.6,268.5 505.7,250.7" fill="none" stroke="#ffc000" stroke-width="1.12" stroke-linejoin="round"/>
<polyline points="384,241.8 384.6,241.5 385.2,241.2 385.8,240.9 386.4,240.6 387,240.3 387.6,240 388.2,239.7 388.8,239.4 389.4,239.1 390,238.8 390.6,238.5 391.2,238.2 391.8,237.9 392.4,237.6 393,237.3 393.6,237 394.2,238.9 394.8,245.3 395.4,251.6 396,258" fill="none" stroke="#ffc000" stroke-width="1.12" stroke-linejoin="round"/>
<polyline points="507,253.3 507.6,253.5 508.2,251.8 508.8,251.6 509.4,250.9 510,251.5 510.6,249.9 511.2,251 511.8,251.2 512.4,251.7 513,249.4 513.6,249.7 514.2,250.6 514.8,251.2 515.4,251.6 516,251.7 516.6,253.4 517.2,252.2 517.8,252.2 518.4,251.3 519,252.5 519.6,252.5 520.2,252.6 520.8,252.1 521.4,252.9 522,253.9 522.6,252 523.2,251 523.8,253.9 524.4,254 525,253.3 525.6,253.3 526.2,256.4 526.8,253.7 527.4,253.2 528,254.1 528.6,255.2 529.2,254.4 529.8,254.8 530.4,256 531,256.2 531.6,257.5 532.2,258.2 532.8,258.2" fill="none" stroke="#ffc000" stroke-width="1.25" stroke-linejoin="round"/>
<polyline points="505.5,265.5 506.1,262.2 506.7,265.3 507.3,263 507.9,265.9 508.5,262.2 509.1,264.3 509.7,263.4 510.3,267.4 510.9,265.3 511.5,266.2 512.1,263.2 512.7,264 513.3,265.6 513.9,264 514.5,267.6 515.1,265.5 515.7,269 516.3,266.7 516.9,266.2 517.5,267.5 518.1,265.6 518.7,267.2 519.3,268.4 519.9,269.6 520.5,267.2 521.1,266.8 521.7,267.5 522.3,271.7 522.9,272.1 523.5,267.1 524.1,268.5 524.7,268.3 525.3,269.3 525.9,268.9 526.5,271.3 527.1,267.6 527.7,268.1 528.3,270.6 528.9,268.5 529.5,270.5 530.1,270.4 530.7,268.7 531.3,273.4 531.9,275.3 532.5,274.7" fill="none" stroke="#ffc000" stroke-width="1.12" stroke-linejoin="round"/>
<polyline points="362,248.6 362.6,247.8 363.2,247.7 363.8,246.4 364.4,246.3 365,245.6 365.6,244.6 366.2,244.5 366.8,243.8 367.4,243 368,243.3 368.6,242.4 369.2,241.6 369.8,241 370.4,240.4 371,240.2 371.6,239.7 372.2,238.8 372.8,238.4 373.4,238 374,237.8 374.6,237.4 375.2,236.9 375.8,236.9 376.4,236.7 377,236 377.6,235 378.2,235.2" fill="none" stroke="#3f8a4a" stroke-width="1.12" stroke-linejoin="round"/>
<polyline points="385,230.1 385.6,230.1 386.2,230.3 386.8,230.3 387.4,230 388,229.8 388.6,230.8 389.2,230.6 389.8,231 390.4,230.9 391,231.1 391.6,231.8 392.2,231.2 392.8,231.7 393.4,231.7 394,232.3 394.6,232.8 395.2,233.1 395.8,233.3 396.4,233.7 397,235.2 397.6,236.4 398.2,237.6 398.8,239.4 399.4,240.4 400,241.5 400.6,243.7 401.2,245.8 401.8,248.1 402.4,249.1 403,251 403.6,252.2 404.2,253.2 404.8,254.9 405.4,255.5 406,256.5 406.6,257.2 407.2,258.2 407.8,258.6 408.4,259.9 409,259.9 409.6,261.2 410.2,261.9 410.8,262.9 411.4,263 412,263.1 412.6,263.4 413.2,264.1 413.8,264.3 414.4,265.5 415,264.5 415.6,265.5 416.2,265 416.8,266.2 417.4,265.8 418,266.7 418.6,266.3 419.2,266.9 419.8,266.9 420.4,267.3 421,267 421.6,266.2 422.2,266.9 422.8,266.7 423.4,267.5 424,267.4 424.6,267.3 425.2,267.5 425.8,267.5 426.4,267.3 427,268.1 427.6,267.6 428.2,267.6 428.8,267.3 429.4,267.6 430,267.8 430.6,268.1 431.2,268.4 431.8,268.9 432.4,269 433,269.7 433.6,269.6 434.2,270.2 434.8,270.6 435.4,271.4 436,271.7 436.6,271.9 437.2,272 437.8,272.5 438.4,273 439,273.2 439.6,272.5 440.2,272.8 440.8,273 441.4,273.1 442,273.1 442.6,273.3 443.2,272.7 443.8,273.6 444.4,272.9 445,273.3 445.6,273.4 446.2,273.7 446.8,273.6 447.4,273.7 448,273.8 448.6,273.5 449.2,273.8 449.8,274 450.4,273.3 451,273.1 451.6,273.2 452.2,273.8 452.8,273.7 453.4,273.2 454,273.3 454.6,273.4 455.2,273.5 455.8,272.6 456.4,272.9 457,273 457.6,273.1 458.2,273 458.8,272.8 459.4,272.9 460,272.1 460.6,273.4 461.2,272.4 461.8,272.1 462.4,271.3 463,271.3 463.6,271.5 464.2,271.1 464.8,270.3 465.4,269.6 466,269.7 466.6,269.2 467.2,269.3 467.8,268.3 468.4,267.5 469,266.1 469.6,264.4 470.2,263.3 470.8,261.2 471.4,259.7 472,258.4 472.6,256.7 473.2,254.4 473.8,252.3 474.4,250.7 475,248.6 475.6,246.7 476.2,245.2 476.8,243.4 477.4,241.9 478,240.1 478.6,239.5 479.2,239.2 479.8,238.9 480.4,238.7 481,238.3 481.6,237.6 482.2,237.4 482.8,237.1 483.4,237 484,236.3 484.6,236.6 485.2,237.1 485.8,238.4" fill="none" stroke="#3f8a4a" stroke-width="1.12" stroke-linejoin="round"/>
<polyline points="308,230.3 308.6,230.6 309.2,231.1 309.8,231.5 310.4,231.9 311,232.2 311.6,232.4 312.2,232.7 312.8,233.1 313.4,233.6 314,234.1 314.6,233.6 315.2,234.7 315.8,235.1 316.4,235.5 317,235.7 317.6,236.1 318.2,236.2" fill="none" stroke="#8cc46a" stroke-width="1.12" stroke-linejoin="round"/>
<polyline points="32.5,430.8 33.3,430.7 34.1,430.7 34.9,430.7 35.7,430.7 36.5,430.6 37.3,430.6 38.1,430.6 38.9,430.6 39.7,430.6 40.5,430.6 41.3,430.7 42.1,430.7 42.9,430.8 43.7,430.9 44.5,430.9 45.3,431 46.1,431.1 46.9,431.2 47.7,431.3 48.5,431.4 49.3,431.5 50.1,431.7 50.9,431.9 51.7,432 52.5,432.2 53.3,432.5 54.1,432.7 54.9,432.9 55.7,433.2 56.5,433.4 57.3,433.6 58.1,433.9 58.9,434.1 59.7,434.3 60.5,434.6 61.3,434.8 62.1,435 62.9,435.3 63.7,435.5 64.5,435.8 65.3,436 66.1,436.2 66.9,436.5 67.7,436.7 68.5,436.9 69.3,437.2 70.1,437.4 70.9,437.7 71.7,437.9 72.5,438.1 73.3,438.3 74.1,438.4 74.9,438.6 75.7,438.7 76.5,438.8 77.3,438.9 78.1,439 78.9,439 79.7,439.1 80.5,439.2 81.3,439.2 82.1,439.3 82.9,439.3 83.7,439.3 84.5,439.3 85.3,439.3 86.1,439.3 86.9,439.3 87.7,439.2 88.5,439.2 89.3,439.1 90.1,439 90.9,438.9 91.7,438.9 92.5,438.8 93.3,438.7 94.1,438.6 94.9,438.5 95.7,438.4 96.5,438.2 97.3,438 98.1,437.9 98.9,437.6 99.7,437.4 100.5,437.2 101.3,437 102.1,436.7 102.9,436.5 103.7,436.3 104.5,436 105.3,435.8 106.1,435.5 106.9,435.3 107.7,435.1 108.5,434.8 109.3,434.6 110.1,434.3 110.9,434.1 111.7,433.8 112.5,433.6 113.3,433.3 114.1,433 114.9,432.8 115.7,432.6 116.5,432.3 117.3,432.1 118.1,431.9 118.9,431.8 119.7,431.6 120.5,431.4 121.3,431.3 122.1,431.2 122.9,431.1 123.7,431 124.5,430.8 125.3,430.7 126.1,430.6 126.9,430.6 127.7,430.5 128.5,430.5 129.3,430.5 130.1,430.6 130.9,430.6 131.7,430.7 132.5,430.8 133.3,430.9 134.1,430.9 134.9,431 135.7,431.1 136.5,431.2 137.3,431.3 138.1,431.4 138.9,431.5 139.7,431.6 140.5,431.7 141.3,431.8 142.1,431.9 142.9,432.1 143.7,432.2 144.5,432.3 145.3,432.4 146.1,432.6 146.9,432.7 147.7,432.8 148.5,433 149.3,433.1 150.1,433.3 150.9,433.4 151.7,433.6 152.5,433.8 153.3,434 154.1,434.1 154.9,434.3 155.7,434.5 156.5,434.7 157.3,434.9 158.1,435.1 158.9,435.3 159.7,435.5 160.5,435.7 161.3,435.9 162.1,436.1 162.9,436.3 163.7,436.6 164.5,436.8 165.3,437 166.1,437.3 166.9,437.5 167.7,437.7 168.5,438 169.3,438.2 170.1,438.4 170.9,438.6 171.7,438.8 172.5,439 173.3,439.1 174.1,439.3 174.9,439.4 175.7,439.5 176.5,439.6 177.3,439.8 178.1,439.9 178.9,440 179.7,440.1 180.5,440.2 181.3,440.3 182.1,440.4 182.9,440.6 183.7,440.6 184.5,440.7 185.3,440.7 186.1,440.8 186.9,440.8 187.7,440.7 188.5,440.7 189.3,440.6 190.1,440.5 190.9,440.4 191.7,440.3 192.5,440.2 193.3,440.1 194.1,440 194.9,439.9 195.7,439.8 196.5,439.7 197.3,439.5 198.1,439.4 198.9,439.2 199.7,439 200.5,438.9 201.3,438.7 202.1,438.5 202.9,438.3 203.7,438.1 204.5,437.9 205.3,437.7 206.1,437.5 206.9,437.3 207.7,437.1 208.5,436.9 209.3,436.7 210.1,436.5 210.9,436.3 211.7,436.1 212.5,435.9 213.3,435.7 214.1,435.5 214.9,435.3 215.7,435.1 216.5,434.9 217.3,434.7 218.1,434.5 218.9,434.3 219.7,434.1 220.5,433.9 221.3,433.7 222.1,433.5 222.9,433.3 223.7,433.2 224.5,433 225.3,432.9 226.1,432.8 226.9,432.7 227.7,432.6 228.5,432.5 229.3,432.4 230.1,432.3 230.9,432.2 231.7,432.1 232.5,432 233.3,431.9 234.1,431.8 234.9,431.8 235.7,431.7 236.5,431.6 237.3,431.6 238.1,431.5 238.9,431.5 239.7,431.5 240.5,431.4 241.3,431.4 242.1,431.4 242.9,431.3 243.7,431.3 244.5,431.3 245.3,431.3 246.1,431.2" fill="none" stroke="#f6bc98" stroke-width="1.5" stroke-linejoin="round"/>
<polyline points="32.5,453.5 33,455.6 33.5,455.4 34,457.1 34.5,458.8 35,457.9 35.5,460 36,459.1 36.5,461.5 37,458.2 37.5,454.5 38,451 38.5,453.4 39,453.6 39.5,457.6 40,455.2 40.5,453.4 41,448.7 41.5,449.4 42,451.3 42.5,452 43,450 43.5,451.6 44,451.7 44.5,451 45,449.4 45.5,449.4 46,451 46.5,452.9 47,450.8 47.5,453.1 48,454 48.5,451.5 49,453 49.5,456.1 50,455.7 50.5,455.3 51,454.7 51.5,455.4 52,454.1 52.5,457.5 53,453.7 53.5,453 54,455.1 54.5,456.5 55,454.5 55.5,454.9 56,453.9 56.5,454.8 57,453.8 57.5,453.8 58,453.3 58.5,454.3 59,456.8 59.5,454.7 60,455 60.5,457.1 61,454.1 61.5,453.7 62,455.3 62.5,453.4 63,455.2 63.5,456.3 64,454.2 64.5,455.1 65,457.7 65.5,455.1 66,455.7 66.5,457 67,456.6 67.5,456.2 68,458.8 68.5,456.6 69,457.6 69.5,456.9 70,457.2 70.5,456.1 71,458.6 71.5,457.2 72,459.1 72.5,456.6 73,457.4 73.5,458.5 74,458.2 74.5,457.5 75,458.1 75.5,457 76,458.5 76.5,455.7 77,458.8 77.5,460.1 78,459.7 78.5,459.8 79,458.5 79.5,459.7 80,459 80.5,459.5 81,459.7 81.5,456.5 82,461.2 82.5,460.9 83,461.5 83.5,459.9 84,461.8 84.5,461.8 85,458.8 85.5,459.3 86,461.1 86.5,460.3 87,460.9 87.5,460.2 88,462.4 88.5,458.7 89,459.2 89.5,459.5 90,459 90.5,459.9 91,460.5 91.5,459.2 92,461.1 92.5,462.1 93,461.9 93.5,463 94,462.1 94.5,460.9 95,462.9 95.5,461.7 96,462.9 96.5,460.6 97,458.5 97.5,459.5 98,460.8 98.5,461.2 99,460.3 99.5,461.5 100,459.2 100.5,459.6 101,461.3 101.5,460.3 102,460.3 102.5,461.4 103,460.8 103.5,458.5 104,459.3 104.5,457.1 105,458.6 105.5,458.7 106,456.2 106.5,459.4 107,459.6 107.5,457.8 108,458 108.5,458.4 109,456.4 109.5,457.4 110,456.5 110.5,454.2 111,454.7 111.5,454.8 112,456.3 112.5,455 113,455.7 113.5,454.8 114,454.5 114.5,458.6 115,459.9 115.5,458.3 116,458.7 116.5,461.1 117,459.6 117.5,460.7 118,458.4 118.5,459.5 119,458.2 119.5,456.6 120,455.3 120.5,453.8 121,454 121.5,455.6 122,453.4 122.5,454.5 123,451.7 123.5,452 124,451 124.5,450.7 125,451.2 125.5,447.7 126,450.1 126.5,450.2 127,449.6 127.5,449.9 128,449.7 128.5,450.9 129,450.4 129.5,449.6 130,450.8 130.5,451.8 131,451.4 131.5,451.2 132,451.5 132.5,450.9 133,451 133.5,449.6 134,451.6 134.5,452.9 135,451.6 135.5,451.2 136,453.2 136.5,452.6 137,452.7 137.5,452.4 138,451.9 138.5,450.5 139,449 139.5,451.1 140,448.7 140.5,447.1 141,447.5 141.5,447.9 142,444.5 142.5,446.7 143,444.5 143.5,446.1 144,444.1 144.5,442.6 145,443.4 145.5,442.8 146,440.4 146.5,440.4 147,438.9 147.5,439.8 148,437.3 148.5,439.4 149,438.1 149.5,441.8 150,439.7 150.5,440.5 151,441.4 151.5,440.4 152,439.9 152.5,438.9 153,439 153.5,437.2 154,439 154.5,439.1 155,438.6 155.5,437.4 156,438.3 156.5,437.6 157,438.3 157.5,437.8 158,437.5 158.5,436.8 159,435 159.5,438.6 160,437.9 160.5,440.4 161,436.5 161.5,439.8 162,438.2 162.5,439.5 163,438.9 163.5,440.5 164,440.4 164.5,441.6 165,441.2 165.5,441.6 166,442.5 166.5,441.8 167,441.3 167.5,442.8 168,441.5 168.5,442.1 169,441.5 169.5,441.2 170,438.9 170.5,442.9 171,441.2 171.5,443.4 172,444.7 172.5,441.6 173,444.1 173.5,443.3 174,444.1 174.5,442.6 175,444 175.5,444.4 176,445.9 176.5,446.9 177,445.1 177.5,444.6 178,447.5 178.5,445.3 179,445.6 179.5,445.9 180,446.5 180.5,446 181,443.9 181.5,443.6 182,445 182.5,443.9 183,442 183.5,441 184,439.8 184.5,440.4 185,438.1 185.5,438.1 186,436.9 186.5,436 187,436.1 187.5,436.2 188,435.8 188.5,436.5 189,436.9 189.5,436.5 190,436.5 190.5,437.3 191,438.4 191.5,439 192,438.2 192.5,438.1 193,438.7 193.5,441.1 194,440.5 194.5,438.9 195,440.2 195.5,440.1 196,440.6 196.5,439.6 197,441.8 197.5,440.7 198,441.9 198.5,444.5 199,444.3 199.5,442.7 200,442.9 200.5,443 201,441.9 201.5,442.8 202,443.5 202.5,442.7 203,444.5 203.5,443.6 204,443.1 204.5,445.4 205,444.3 205.5,443.5 206,445.4 206.5,444.7 207,442.6 207.5,443.6 208,442.8 208.5,441.7 209,445.1 209.5,444.6 210,441.7 210.5,443.6 211,441.4 211.5,444.3 212,443.2 212.5,443 213,444.6 213.5,443.4 214,443.1 214.5,444.4 215,443.2 215.5,444.5 216,443.6 216.5,444.5 217,444.4 217.5,444.6 218,442.8 218.5,445.8 219,443.8 219.5,445.8 220,443.4 220.5,443.9 221,444 221.5,445.6 222,444.1 222.5,445.1 223,443.1 223.5,444.4 224,445.3 224.5,445 225,443.3 225.5,445.9 226,444.5 226.5,447.7 227,445.6 227.5,448.3 228,446.7 228.5,446.8 229,446 229.5,446.6 230,447.5 230.5,445.2 231,448.6 231.5,446.5 232,447.7 232.5,445.4 233,449 233.5,449.6 234,449.3 234.5,449.6 235,449.1 235.5,449.9 236,451.3 236.5,448.6 237,448.6 237.5,447.8 238,445.8 238.5,445.3 239,444.3 239.5,442.8 240,445.3 240.5,441.6 241,443.2 241.5,441.8 242,437.9 242.5,441 243,442.6 243.5,443.1 244,442.1 244.5,444 245,443.2 245.5,444.2 246,445.8" fill="none" stroke="#8dbde6" stroke-width="1.12" stroke-linejoin="round"/>
<polyline points="222,405.1 222.6,405.6 223.2,405.4 223.8,405.8 224.4,405.3 225,405.4 225.6,405.8 226.2,406.6 226.8,405.8 227.4,405.9 228,406.5 228.6,407 229.2,406.3 229.8,406.9 230.4,406.6 231,407.5 231.6,407.3 232.2,407.2 232.8,407.2 233.4,407.2 234,407.4 234.6,407.2 235.2,407.2 235.8,407.3 236.4,406.9 237,405.6 237.6,405 238.2,403.2 238.8,403.2 239.4,402.5 240,402 240.6,401.4 241.2,400.9 241.8,401 242.4,401.5 243,400.9 243.6,400.9 244.2,400.9 244.8,401.1 245.4,401.1 246,400.7" fill="none" stroke="#2f6aa0" stroke-width="1.5" stroke-linejoin="round"/>
<polyline points="222,426.3 222.6,426.5 223.2,426.5 223.8,426.2 224.4,426 225,426.3 225.6,425.9 226.2,425.7 226.8,425.8 227.4,425.9 228,426 228.6,425.5 229.2,425.7 229.8,425.4 230.4,425.6 231,425.4 231.6,425.3 232.2,425 232.8,425.1 233.4,425 234,424.3 234.6,425.1 235.2,424.9 235.8,424.8 236.4,424.7 237,424.7 237.6,424.6 238.2,424.3 238.8,424.5 239.4,424.4 240,424.3 240.6,423.9 241.2,424.1 241.8,423.8 242.4,424.1 243,424.2 243.6,424.1 244.2,423.7 244.8,423.6 245.4,423.6 246,423.7" fill="none" stroke="#c47a4a" stroke-width="1.25" stroke-linejoin="round"/>
<polyline points="222,427.9 222.6,427.8 223.2,427.4 223.8,427.7 224.4,427.6 225,427.6 225.6,427.9 226.2,427.3 226.8,427.3 227.4,427.6 228,427.2 228.6,427.3 229.2,427.3 229.8,427.2 230.4,427 231,427.3 231.6,427.3 232.2,426.8 232.8,426.9 233.4,427 234,426.8 234.6,426.5 235.2,426.6 235.8,426.8 236.4,426.4 237,426.6 237.6,426.5 238.2,426.3 238.8,426.4 239.4,426.4 240,426.4 240.6,426.3 241.2,425.8 241.8,426.2 242.4,426.1 243,426.1 243.6,425.7 244.2,426 244.8,425.8 245.4,425.4 246,425.8" fill="none" stroke="#f4a57a" stroke-width="1.25" stroke-linejoin="round"/>
<polyline points="222,429.8 222.6,429.7 223.2,430 223.8,429.7 224.4,429.9 225,429.7 225.6,429.8 226.2,430 226.8,429.7 227.4,429.9 228,429.8 228.6,429.5 229.2,430.1 229.8,430.2 230.4,430.2 231,430.6 231.6,430.9 232.2,430.8 232.8,430.3 233.4,431 234,431 234.6,431.1 235.2,431.5 235.8,431.5 236.4,431.4 237,429.9 237.6,428.7 238.2,427.9 238.8,426.8 239.4,425.8 240,424.6 240.6,424.3 241.2,424.2 241.8,423.4 242.4,423.5 243,424.1 243.6,423.7 244.2,424.3 244.8,424.2 245.4,423.3 246,423.7" fill="none" stroke="#3b7fc0" stroke-width="1.38" stroke-linejoin="round"/>
</svg>
</body></html>
